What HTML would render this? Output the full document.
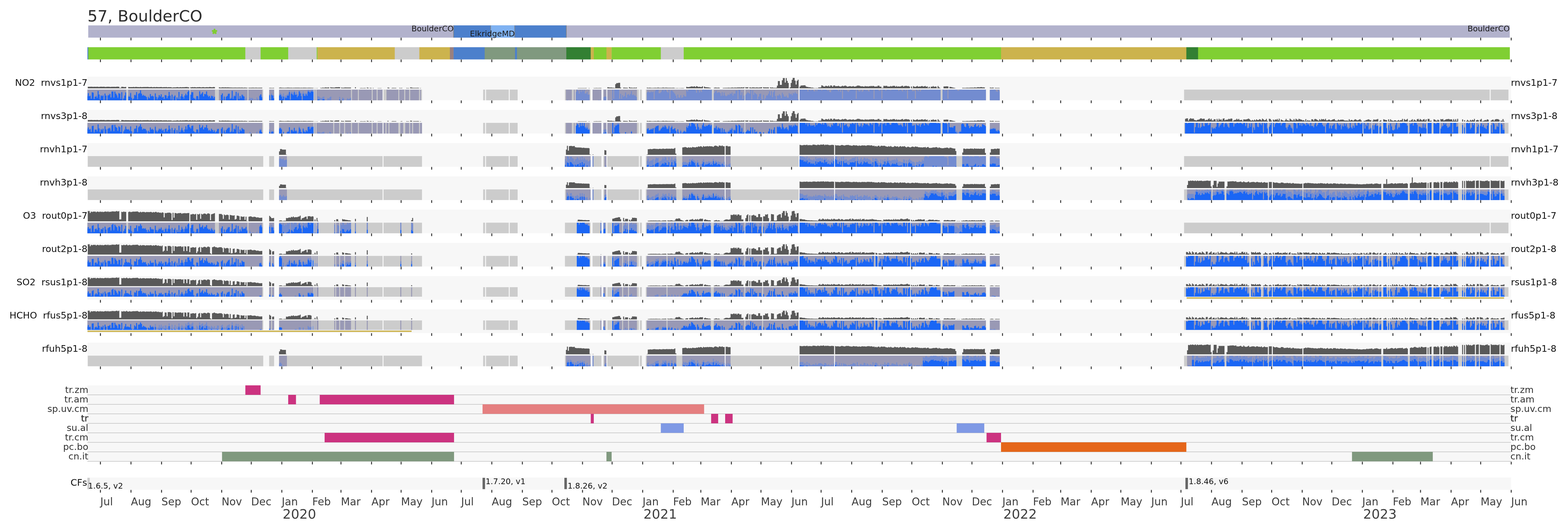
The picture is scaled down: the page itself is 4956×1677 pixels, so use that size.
<!DOCTYPE html>
<html><head><meta charset="utf-8"><title>57, BoulderCO</title>
<style>
html,body{margin:0;padding:0;background:#fff;width:4956px;height:1677px}
svg{display:block}
text{font-family:'DejaVu Sans','Liberation Sans',sans-serif}
</style></head><body>
<svg width="4956" height="1677" viewBox="0 0 4956 1677">
<defs><clipPath id="axclip"><rect x="276.3" y="0" width="4499.5" height="1677"/></clipPath></defs>
<rect width="4956" height="1677" fill="#fff"/>
<text x="276.5" y="68.3" font-size="50" fill="#2e2e2e" text-anchor="start">57, BoulderCO</text>
<rect x="278.9" y="80.2" width="4493" height="38.6" fill="#b2b2cc"/>
<rect x="1433.6" y="80.2" width="356.4" height="38.6" fill="#4c80cc"/>
<rect x="1550.7" y="80.2" width="76.1" height="38.6" fill="#7fb2f2"/>
<rect x="1432.7" y="80.2" width="1.8" height="38.6" fill="#808080"/>
<rect x="1549.8" y="80.2" width="1.8" height="38.6" fill="#808080"/>
<rect x="1625.9" y="80.2" width="1.8" height="38.6" fill="#808080"/>
<rect x="1789.1" y="80.2" width="1.8" height="38.6" fill="#808080"/>
<path d="M317.4 119v8.4M414 119v8.4M510.6 119v8.4M604.08 119v8.4M700.68 119v8.4M794.16 119v8.4M890.76 119v8.4M987.36 119v8.4M1077.73 119v8.4M1174.33 119v8.4M1267.81 119v8.4M1364.41 119v8.4M1457.89 119v8.4M1554.49 119v8.4M1651.09 119v8.4M1744.57 119v8.4M1841.17 119v8.4M1934.66 119v8.4M2031.26 119v8.4M2127.85 119v8.4M2215.1 119v8.4M2311.7 119v8.4M2405.19 119v8.4M2501.79 119v8.4M2595.27 119v8.4M2691.87 119v8.4M2788.47 119v8.4M2881.95 119v8.4M2978.55 119v8.4M3072.03 119v8.4M3168.63 119v8.4M3265.23 119v8.4M3352.48 119v8.4M3449.08 119v8.4M3542.56 119v8.4M3639.16 119v8.4M3732.65 119v8.4M3829.24 119v8.4M3925.84 119v8.4M4019.33 119v8.4M4115.93 119v8.4M4209.41 119v8.4M4306.01 119v8.4M4402.61 119v8.4M4489.86 119v8.4M4586.46 119v8.4M4679.94 119v8.4M4776.54 119v8.4" stroke="#3f3f3f" stroke-width="3.2" fill="none"/>
<text x="1434" y="99.3" font-size="24.95" fill="#1a1a1a" text-anchor="end">BoulderCO</text>
<text x="1627.2" y="115.3" font-size="24.95" fill="#1a1a1a" text-anchor="end">ElkridgeMD</text>
<text x="4772" y="99.3" font-size="24.95" fill="#1a1a1a" text-anchor="end">BoulderCO</text>
<polygon points="678,91.4 679.84,97.07 685.8,97.07 680.98,100.57 682.82,106.23 678,102.73 673.18,106.23 675.02,100.57 670.2,97.07 676.16,97.07" fill="#80cc33" stroke="#80cc33" stroke-width="4.2" stroke-linejoin="bevel"/>
<rect x="276.3" y="149.1" width="3" height="38.6" fill="#4c80cc"/>
<rect x="279" y="149.1" width="496.8" height="38.6" fill="#80cf33"/>
<rect x="775.5" y="149.1" width="48.5" height="38.6" fill="#cccccc"/>
<rect x="823.7" y="149.1" width="87.5" height="38.6" fill="#80cf33"/>
<rect x="910.9" y="149.1" width="90.4" height="38.6" fill="#cccccc"/>
<rect x="1001" y="149.1" width="2.7" height="38.6" fill="#80cf33"/>
<rect x="1003.4" y="149.1" width="244.6" height="38.6" fill="#ccb34d"/>
<rect x="1247.7" y="149.1" width="77.9" height="38.6" fill="#cccccc"/>
<rect x="1325.3" y="149.1" width="97" height="38.6" fill="#ccb34d"/>
<rect x="1422" y="149.1" width="11.9" height="38.6" fill="#99807f"/>
<rect x="1433.6" y="149.1" width="98.6" height="38.6" fill="#4c80cc"/>
<rect x="1531.9" y="149.1" width="96.2" height="38.6" fill="#80997f"/>
<rect x="1627.8" y="149.1" width="6.5" height="38.6" fill="#4c80cc"/>
<rect x="1634" y="149.1" width="156.3" height="38.6" fill="#80997f"/>
<rect x="1790" y="149.1" width="77.5" height="38.6" fill="#338033"/>
<rect x="1867.2" y="149.1" width="9.9" height="38.6" fill="#ccb34d"/>
<rect x="1876.8" y="149.1" width="40.3" height="38.6" fill="#80cf33"/>
<rect x="1916.8" y="149.1" width="16.7" height="38.6" fill="#ccb34d"/>
<rect x="1933.2" y="149.1" width="155.8" height="38.6" fill="#80cf33"/>
<rect x="2088.7" y="149.1" width="72.6" height="38.6" fill="#cccccc"/>
<rect x="2161" y="149.1" width="1003.3" height="38.6" fill="#80cf33"/>
<rect x="3164" y="149.1" width="586" height="38.6" fill="#ccb34d"/>
<rect x="3749.7" y="149.1" width="37.4" height="38.6" fill="#338033"/>
<rect x="3786.8" y="149.1" width="985.4" height="38.6" fill="#80cf33"/>
<path d="M317.4 187.9v8.4M414 187.9v8.4M510.6 187.9v8.4M604.08 187.9v8.4M700.68 187.9v8.4M794.16 187.9v8.4M890.76 187.9v8.4M987.36 187.9v8.4M1077.73 187.9v8.4M1174.33 187.9v8.4M1267.81 187.9v8.4M1364.41 187.9v8.4M1457.89 187.9v8.4M1554.49 187.9v8.4M1651.09 187.9v8.4M1744.57 187.9v8.4M1841.17 187.9v8.4M1934.66 187.9v8.4M2031.26 187.9v8.4M2127.85 187.9v8.4M2215.1 187.9v8.4M2311.7 187.9v8.4M2405.19 187.9v8.4M2501.79 187.9v8.4M2595.27 187.9v8.4M2691.87 187.9v8.4M2788.47 187.9v8.4M2881.95 187.9v8.4M2978.55 187.9v8.4M3072.03 187.9v8.4M3168.63 187.9v8.4M3265.23 187.9v8.4M3352.48 187.9v8.4M3449.08 187.9v8.4M3542.56 187.9v8.4M3639.16 187.9v8.4M3732.65 187.9v8.4M3829.24 187.9v8.4M3925.84 187.9v8.4M4019.33 187.9v8.4M4115.93 187.9v8.4M4209.41 187.9v8.4M4306.01 187.9v8.4M4402.61 187.9v8.4M4489.86 187.9v8.4M4586.46 187.9v8.4M4679.94 187.9v8.4M4776.54 187.9v8.4" stroke="#3f3f3f" stroke-width="3.2" fill="none"/>
<rect x="276.3" y="242" width="4499.5" height="74.7" fill="#f7f7f7"/>
<g clip-path="url(#axclip)">
<g transform="translate(317.93 283.1) scale(3.1161 33.6)">
<path d="M-14 0h179V1H-14zM171 0h5V1H171zM181 0h105V1H181zM287 0h39V1H287zM388 0h2V1H388zM391 0h23V1H391zM415 0h8V1H415zM471 0h26V1H471zM499 0h9V1H499zM510 0h3V1H510zM514 0h32V1H514zM547 0h2V1H547zM553 0h155V1H553zM709 0h189V1H709zM902 0h10V1H902zM1099 0h310V1H1099zM1410 0h18V1H1410z" fill="#cccccc"/>
<path d="M-14 0h40V1H-14zM28 0h62V1H28zM91 0h25V1H91zM120 0h29V1H120zM150 0h14V1H150zM171 0h5V1H171zM181 0h35V1H181zM217 0h1V1H217zM219 0h35V1H219zM255 0h6V1H255zM262 0h13V1H262zM276 0h4V1H276zM281 0h5V1H281zM290 0h12V1H290zM303 0h5V1H303zM309 0h4V1H309zM314 0h9V1H314zM324 0h1V1H324zM472 0h6V1H472zM480 0h1V1H480zM482 0h14V1H482zM499 0h9V1H499zM510 0h3V1H510zM514 0h30V1H514zM554 0h66V1H554zM622 0h31V1H622zM654 0h54V1H654zM709 0h143V1H709zM854 0h44V1H854zM902 0h10V1H902z" fill="#9999b5"/>
</g>
<g transform="translate(317.93 316.7) scale(3.1161 -1)">
<path d="M-14 0V16.4h1V23.2h1V13.9h1V17.3h1V7.2h1V25.2h1V25.4h1V5.8h1V11.5h1V17.5h1V13.8h1V29.5h1V18.2h1V9.4h1V15.1h1V15.5h1V18.6h1V2.9h1V21.1h1V15.6h1V1.9h1V18h1V21.6h1V20.6h1V10h1V29.3h1V28.9h1V10.4h1V27.4h1V21.3h1V20.1h1V11.2h1V24.2h1V22.5h1V8.8h1V26.6h1V5.2h1V8.9h1V16.3h1V26.3h1V0zM28 0V16.2h1V13.4h1V25.7h1V10.2h1V2.7h1V6.3h1V16.6h1V19.6h1V26.7h1V9.4h1V23.1h1V22.9h1V31.1h1V22.6h1V16.5h1V18.9h1V14.2h1V15.6h1V11.5h1V3.8h1V14.5h1V8.2h1V19.7h1V13h1V15.9h1V13.4h1V2.2h1V22.5h1V13h1V8.3h1V14h1V16.8h1V13h1V19.4h1V10.1h1V11.3h1V6.3h1V16.4h1V17.2h1V7.9h1V14.8h1V26.2h1V15.6h1V7h1V19.7h1V2.6h1V14.3h1V17h1V1.6h1V10.5h1V7.2h1V26.5h1V5.7h1V13.5h1V20.6h1V13h1V10.2h1V15.1h1V21.5h1V15.7h1V27.6h1V30.4h1V0zM91 0V19h1V25.5h2V8.4h1V8.2h1V7.2h1V13.8h1V14.2h1V8.1h1V30.6h1V21.4h1V22.8h1V25.5h1V13.1h1V20.4h1V21.6h1V28h1V18h1V14.3h1V13.7h1V9.8h1V16.4h1V14.8h1V12.6h1V12.3h1V0zM121 0V1.1h1V16.9h1V22.1h1V6h1V14.4h1V4.1h1V13.2h1V15h1V22.7h1V21.7h1V6.9h1V10.8h1V31.1h1V9.2h1V16.9h1V15.9h1V26.7h1V0zM139 0V26.5h1V7.1h1V13.8h1V11.2h1V18.3h1V18h1V13.3h1V3h1V8.3h1V0zM150 0V2.3h1V8.8h1V5.8h1V7.9h1V5.7h1V0zM156 0V3.9h1V0zM158 0V9h1V5h1V0zM161 0V16.7h1V18.7h1V14.5h1V0zM171 0V18.4h1V3.1h1V21.7h1V16.8h1V15.4h1V0zM181 0V19.4h1V23h1V18.5h1V14.1h1V21.7h1V11.2h1V14.9h1V15.4h1V19.7h1V20.6h1V32h1V4h1V27h1V26.6h1V21.8h1V30.4h1V22.7h1V26.2h1V19.4h1V17.9h1V31.1h1V27.9h1V23h1V3.5h1V28.5h1V20.8h1V22.7h1V22.5h2V33.6h1V33.3h1V27.1h1V33.6h2V33.3h1V0zM220 0V12.7h1V11.9h1V8.7h1V7.3h1V7.2h1V10.8h1V11.4h1V2.4h1V0zM229 0V1.4h1V6.9h1V5.4h1V9.8h1V11.7h1V0zM242 0V10.7h1V2.3h1V0zM245 0V8.5h1V6.3h1V0zM249 0V1.1h1V6.4h1V3.5h1V5.1h1V8h1V0zM473 0V1.3h1V0zM482 0V27h1V33.4h1V29.8h1V20.9h1V33.6h1V26.2h1V33.6h1V28.7h1V33.6h1V21.8h1V21.4h1V26.4h1V17.7h1V18.1h1V0zM505 0V1.1h1V0zM510 0V9.9h1V12h1V11.2h1V0zM519 0V33.6h1V5h1V33.6h5V5h1V20.4h1V4.9h1V16.2h1V10.8h1V13.6h1V24.8h1V8.2h1V17.8h1V19.5h1V15h1V20h1V28.9h1V16.3h1V18.4h1V15.1h1V14.6h1V10.5h1V0zM554 0V25h1V27.7h1V25.2h1V24.8h1V28.2h1V25.4h1V27.8h1V3.8h1V29.3h1V32.6h1V32.4h1V33.6h1V22.3h1V22.5h1V25.8h1V30.9h1V33.5h1V28.8h1V33.6h1V31.3h1V27.1h1V24.5h1V33.5h1V5h1V30.2h1V31.4h1V28.2h1V24.5h1V20.5h1V14.8h1V6.7h1V18h1V8.8h1V8h1V15.7h1V7.6h1V9.4h1V17h1V12.8h1V11.8h1V31.5h1V28h1V33.6h2V33.3h1V33.6h4V31.8h1V24h1V33.6h1V31.4h1V24.5h1V30.1h1V26.1h1V33.6h2V32.9h1V33.6h2V32.6h1V33.6h2V31.5h1V33.6h1V0zM622 0V22.5h1V27.4h1V30.2h1V23.4h1V24.9h1V25.6h1V22.7h1V14h1V25.4h1V14.7h1V24.3h1V15.4h1V13h1V14.4h1V18.8h1V16.4h1V21.9h1V19.9h1V24.8h1V14.6h1V21.3h1V21h1V30.5h1V30.8h1V3.4h1V33.2h1V32.1h1V15.9h1V25.2h1V4.3h1V14.6h1V0zM654 0V17.9h1V21.7h1V25.4h1V22.8h1V20.9h1V33.2h1V2.6h1V31.4h1V17.1h1V24.3h1V21.1h1V18.7h1V3.4h1V11.7h1V20.5h1V21.2h1V4.2h1V1.2h1V17.2h1V1h1V6.9h1V14.9h1V15.4h1V20.6h1V28.7h1V15.3h1V29h1V9.8h1V25.7h1V31.3h1V13.4h1V2.4h1V15.1h1V14.7h1V19.2h1V15h1V6.8h1V24.3h1V18.4h1V11.9h1V11h1V14.5h1V8.8h1V7.9h1V22.7h1V18.8h1V20.9h1V15.7h1V23.1h1V21h1V26h1V21.6h1V20.3h1V3.2h1V0zM709 0V33.6h8V27.7h1V33.6h1V33.3h1V30.7h1V33.6h1V32.2h1V29h1V27.9h1V33.6h1V28.7h1V33.6h4V30.8h1V33.6h1V33.4h1V33.6h2V32.6h1V30.1h1V31.6h1V26.6h1V25.3h1V31.9h1V32.2h1V33.6h1V33.4h1V33.6h2V32.4h1V28.6h1V33.6h1V26.6h1V33.6h1V5h1V33.6h1V32.5h1V31.4h1V32.4h1V29.2h1V26.4h1V30.2h1V32.7h1V33.6h3V32h1V33.6h1V5h1V33.6h1V30.2h1V27.5h1V29.2h1V33.6h1V26.9h1V29.1h1V33.6h1V33h1V30.9h1V33h1V29.1h1V27.9h1V33.6h2V32.1h1V33.6h1V4.8h1V33.6h4V30.1h1V30.2h1V33.6h1V5h1V33.6h3V30.3h1V33.6h3V32.7h1V31.8h1V33.6h7V29.5h1V31.9h1V33.6h1V31h1V27.9h1V33.6h2V30.2h1V33.6h1V5h1V33.6h4V28.6h1V29.4h1V29.9h1V5h1V33.6h1V30.7h1V28.5h1V33.6h1V28h1V32.3h1V33.6h2V32.9h1V33.6h3V32.9h1V33.6h12V0zM854 0V33.6h2V30.4h1V32.6h1V33.3h1V5h1V33.6h9V30.3h1V30.4h1V33.6h10V33.2h1V33.6h16V0zM902 0V32.8h1V33.6h5V28.7h1V26.8h1V33.6h1V29.4h1V0z" fill="#738cd0"/>
<path d="M-14 0V12.5h1V22.2h1V12.7h1V13.7h1V4.4h1V25.2h1V23.4h1V3.1h1V10.9h1V12.2h1V7.6h1V29.5h1V18.2h1V3h1V15.1h1V12.8h1V14.8h1V0zM4 0V21.1h1V14.7h1V0zM7 0V14.9h1V16.2h1V19.7h1V8.8h1V27h1V27.5h1V7.9h1V27.4h1V20.9h1V15.8h1V7.7h1V22.2h1V20.5h1V3.8h1V25.2h1V0zM23 0V5.5h1V14.6h1V24.4h1V0zM28 0V11.8h1V11.3h1V22.4h1V7.3h1V1.3h1V5.5h1V16.6h1V15.1h1V25.8h1V3h1V20h1V22.5h1V31.1h1V20.6h1V14.1h1V16.3h1V14.1h1V13h1V10h1V1.3h1V9.9h1V6.5h1V19.7h1V12.5h1V13.9h1V12h1V0zM55 0V21.5h1V10.1h1V2.4h1V8.6h1V16.8h1V12.2h1V18.8h1V8.3h1V10.6h1V3.8h1V16.4h1V14.9h1V6.5h1V12.9h1V26.2h1V14.4h1V1.4h1V17.3h1V0zM74 0V11.3h1V14.8h1V0zM77 0V8.7h1V3.3h1V26.2h1V2.9h1V12.1h1V19.2h1V10.6h1V5.2h1V15.1h1V20.4h1V15.6h1V26.1h1V30.4h1V0zM91 0V17.2h1V25.5h1V25.4h1V6.9h1V4.1h1V1.1h1V13.2h1V13h1V2.4h1V27.9h1V17.8h1V20.6h1V25.5h1V11.9h1V19.6h1V18.8h1V28h1V15.2h1V10.4h1V13.7h1V6.9h1V13.6h1V12.4h1V6.4h1V10.8h1V0zM122 0V16.8h1V21.7h1V0zM125 0V11.3h1V0zM127 0V10.6h1V13.5h1V19.4h1V20.6h1V4.1h1V6.3h1V29.4h1V4.1h1V13.1h1V12.6h1V26.7h1V0zM139 0V22.3h1V3.8h1V13.8h1V6.7h1V17.6h1V14h1V11.8h1V0zM161 0V13.7h1V18.7h1V9.5h1V0zM171 0V15.4h1V0zM173 0V16.9h1V14.7h1V6.7h1V0zM181 0V14.9h1V17.1h1V11.7h1V4.2h1V11.6h1V0zM187 0V8.1h1V7.8h1V14.7h2V26h1V1.3h1V21.3h1V18.6h1V15.8h1V26h1V17.1h1V17.7h1V9.5h1V13.6h1V27.9h1V21.6h1V13.1h1V0zM205 0V21h1V14.2h1V13.4h1V18.7h1V14.2h1V27.9h1V27h1V23.4h1V27.9h1V27.7h1V27h1V0zM220 0V2h1V3.8h1V0zM225 0V3.2h1V3.4h1V0zM242 0V2.3h1V0zM245 0V1.1h1V0z" fill="#1a66f5"/>
</g>
<g transform="translate(317.93 278.9) scale(3.1161 -1)">
<path d="M-13 0V5h1V4.8h2V5.1h1V4.8h1V4.7h1V5h1V4.9h1V4.6h1V5.2h1V4.6h1V4.5h1V4.9h1V5.1h1V4.8h1V4.9h1V5.1h1V4.5h2V5h1V4.9h1V5h1V4.5h1V4.4h1V5h1V4.7h1V4.8h1V4.7h2V5.2h1V5.1h1V4.8h1V1.2h1V1.3h1V4.8h1V4.6h1V4.2h1V3.8h1V4.5h1V0zM28 0V4.2h1V3.8h1V3.9h1V4h1V3.9h1V4.5h1V3.7h1V4.5h1V4.4h1V3.8h1V4h1V3.6h1V4.4h1V3.6h1V3.8h1V4.1h4V4.4h1V4.1h1V3.7h1V3.9h1V4.3h1V3.4h1V3.6h1V4.1h1V3.5h1V4.1h1V3.9h1V3.6h1V3.7h1V4h1V4.1h1V3.4h1V3.5h1V3.9h1V3.5h1V4.1h1V3.2h1V3.5h1V3.6h1V3.5h1V3.6h1V2.1h1V2.8h2V3.2h1V3h1V4h1V3.5h1V2.9h1V3.5h1V3.6h1V2.8h1V3.8h1V3.1h1V3.8h2V4.1h1V3.5h1V2.8h1V0zM91 0V3.4h1V3.2h1V4h1V3.1h1V3.8h1V3.1h1V2.9h1V3.6h1V3.3h1V4h1V3.2h1V2.9h1V3.7h1V3.6h1V3h1V3.2h1V3.7h1V3.4h1V3.2h1V4.1h1V4h1V3.3h2V4.1h1V3.9h1V0zM120 0V3.1h1V2.5h2V3.2h1V3h1V2.6h1V3.1h1V2.6h1V2.8h1V2.9h1V2.6h1V2.5h1V2.4h1V2.2h2V2.1h1V2.3h1V2.1h1V2.2h2V2.4h1V2.1h1V2.2h1V2.4h1V1.9h1V2h1V2.3h1V1.7h1V1.9h1V0zM150 0V2h1V1.6h1V2h1V1.9h1V2.1h1V1.9h1V1.7h1V2.1h1V1.9h1V1.7h1V1.9h1V1.8h3V0zM171 0V1.4h1V1.5h1V1.2h2V1.5h1V0zM181 0V1.9h1V2.3h1V1.8h1V1.6h2V1.4h1V1.6h2V2.1h2V1.8h1V1.7h1V1.8h1V1.4h1V1.6h2V1.9h1V2h1V1.9h1V2h1V1.8h1V1.3h1V1.9h1V1.3h1V1.9h2V1.8h1V1.7h1V1.3h1V1.6h1V1.8h1V1.6h1V1.7h1V1.5h1V1.4h1V0zM217 0V.6h1V0zM219 0V.9h1V0zM223 0V1.7h1V1.1h1V2.3h1V1.5h1V2.5h1V2.8h1V2.1h1V2.7h2V0zM233 0V3.4h1V2.4h1V2.7h1V2.2h1V2.5h1V3.5h1V3.4h1V3.3h1V3.7h1V3.3h1V0zM244 0V2.4h1V1.7h1V2h1V2.3h1V2.7h1V2.4h1V2.3h1V2.5h1V2.4h1V2.5h1V0zM258 0V3.4h1V0zM263 0V.8h1V1.2h1V1h1V.8h1V1.1h2V0zM270 0V2.4h1V1.6h1V0zM273 0V1.5h1V1.1h1V0zM276 0V1.2h1V0zM281 0V.7h1V.6h2V.7h1V0zM291 0V2.4h1V2h1V0zM295 0V.8h1V1.6h1V1.1h1V1.4h1V1.1h1V0zM303 0V1.5h1V.7h1V1.4h1V0zM310 0V1.2h1V1h1V.9h1V0zM314 0V3h1V2.5h1V1.6h1V1.4h1V1.5h1V1.3h1V1.4h1V1.7h1V1.5h1V0zM324 0V.9h1V0zM484 0V.8h1V.9h5V1h1V.9h1V1.1h1V0zM495 0V1h1V0zM500 0V.9h2V1.1h2V.9h1V1.1h3V0zM514 0V3.3h1V2.9h1V2.3h3V1.6h1V1.7h1V1h1V13.2h1V16.4h2V17.3h2V2.4h1V0zM530 0V2.2h1V2.1h1V1.8h2V1.5h1V0zM536 0V3.6h1V2h1V2.2h1V1.7h2V2.1h1V1.7h1V2.3h1V0zM554 0V2.1h1V1.3h1V1.9h2V1.3h1V1.2h1V1.4h2V2h1V1.5h1V1.7h1V2.3h1V1.7h1V1.3h2V1.6h1V2.3h1V2h1V1.4h1V2.3h1V1.7h1V1.8h1V1.3h1V1.8h1V1.4h1V1.7h2V2h1V.6h1V.5h1V.9h1V.6h1V.5h1V.7h1V.6h1V1h2V.6h1V0zM594 0V4.6h1V3.9h1V3.8h1V4.4h1V5.2h1V6.2h1V5.3h1V5.4h1V6.4h1V4.1h1V6.8h1V5.6h1V4.1h1V5h1V4.2h1V4h1V6.4h1V0zM612 0V5.4h1V3.6h1V3.5h1V3.2h1V2.8h1V2.1h1V1.3h1V0zM622 0V1.7h1V2.4h1V2.1h1V1.7h1V2.2h1V2h1V0zM631 0V1.1h1V1.3h1V1.5h1V1.7h1V1.4h1V2h1V1.8h1V1.5h1V1.9h1V2.3h1V2.2h1V1.6h1V2.6h1V1.8h1V2.5h1V2.7h1V2.6h2V2.3h1V3.3h1V2.1h1V3.6h1V0zM654 0V3.3h1V2.8h1V3.5h1V0zM658 0V2.9h1V2.4h1V2h1V3.1h1V2.6h1V2.5h1V2.1h1V3h1V2.3h1V2.2h1V2.6h1V3h1V3.3h1V0zM672 0V3.4h1V2.7h1V2.8h1V2.7h1V2.8h1V2.7h1V0zM679 0V3h1V2.1h1V2.7h1V1.6h2V1.5h1V1.9h1V8.4h1V22.9h2V10.8h2V25.3h1V32.5h2V18.1h1V32.5h1V23.4h1V16.9h1V0zM699 0V2.9h1V16.9h1V27h1V33h2V24.1h1V12h1V23.4h1V27.2h1V0zM709 0V5.3h1V9h1V8.9h1V9.3h1V9.4h1V9.6h1V6.2h1V4.4h2V3.2h1V3.6h1V2.5h1V2.2h1V2.1h1V.8h1V.7h1V.6h1V.9h1V.7h1V2.8h1V2.7h1V3.1h1V9.3h1V8.3h1V5.9h1V5.3h1V8h1V7.4h1V6.5h1V8.6h1V5.4h1V9.1h1V8.6h1V5.1h1V8.6h1V9.2h1V6.6h1V7h1V6.8h1V7.8h1V6.1h1V5.4h1V6.5h1V8.1h1V6.7h1V8h1V8.7h1V7.2h1V5.2h1V5.9h1V6.6h1V6.9h1V5.7h1V6.1h1V7.2h1V5.4h1V5.6h1V6.7h1V8.5h1V8.6h1V8.4h1V7.2h1V6.2h1V6.7h1V5.9h1V5.1h1V7.3h1V5.8h1V6.9h1V5.5h1V7h1V6.3h1V7.7h1V6.7h1V7.6h1V6.8h1V5.2h1V6.1h1V5.6h1V8.2h1V8.4h1V5.3h2V1.2h1V1.5h1V7.8h1V7.5h1V7.7h1V7.9h1V5.6h1V5.9h1V5.7h1V7.5h1V5.9h1V7.6h1V8h1V7.6h1V5.2h1V7.3h1V5.1h1V6.3h1V5.4h1V5.9h1V7.3h1V8.1h1V5.1h1V7.2h1V7.7h1V7.6h1V6.7h1V7.2h1V5.5h1V0zM822 0V5.8h1V.7h1V7h1V5.2h1V4.5h1V6.2h1V7.3h1V4.8h1V5.9h1V5.3h1V7h1V7.1h1V5.5h1V6.4h1V7.4h1V5h1V6.1h1V1.1h1V4.9h1V.7h1V5.5h1V4.8h1V7.1h1V4.6h1V5.7h1V5.4h1V.7h1V7.2h1V3.1h1V.9h1V0zM855 0V6h1V5.9h1V6.2h1V6.3h1V5.9h1V0zM861 0V4.5h1V4.1h1V3.3h1V2.5h1V1.9h1V1.2h1V0zM874 0V1.6h1V1.3h1V1.4h1V1.5h1V1.9h2V1.6h1V1.9h1V2.1h1V2.2h2V2h1V2.8h1V2.3h1V2.1h1V3.3h1V3.5h1V2.8h1V3.7h1V3.8h1V2.8h1V3.2h1V2.7h1V0zM902 0V2.5h1V1.6h1V2.2h1V2.1h1V0zM907 0V1.3h2V1.2h1V1.5h1V1.2h1V0z" fill="#595959"/>
</g>
</g>
<path d="M317.4 317.3v8.4M414 317.3v8.4M510.6 317.3v8.4M604.08 317.3v8.4M700.68 317.3v8.4M794.16 317.3v8.4M890.76 317.3v8.4M987.36 317.3v8.4M1077.73 317.3v8.4M1174.33 317.3v8.4M1267.81 317.3v8.4M1364.41 317.3v8.4M1457.89 317.3v8.4M1554.49 317.3v8.4M1651.09 317.3v8.4M1744.57 317.3v8.4M1841.17 317.3v8.4M1934.66 317.3v8.4M2031.26 317.3v8.4M2127.85 317.3v8.4M2215.1 317.3v8.4M2311.7 317.3v8.4M2405.19 317.3v8.4M2501.79 317.3v8.4M2595.27 317.3v8.4M2691.87 317.3v8.4M2788.47 317.3v8.4M2881.95 317.3v8.4M2978.55 317.3v8.4M3072.03 317.3v8.4M3168.63 317.3v8.4M3265.23 317.3v8.4M3352.48 317.3v8.4M3449.08 317.3v8.4M3542.56 317.3v8.4M3639.16 317.3v8.4M3732.65 317.3v8.4M3829.24 317.3v8.4M3925.84 317.3v8.4M4019.33 317.3v8.4M4115.93 317.3v8.4M4209.41 317.3v8.4M4306.01 317.3v8.4M4402.61 317.3v8.4M4489.86 317.3v8.4M4586.46 317.3v8.4M4679.94 317.3v8.4M4776.54 317.3v8.4" stroke="#3f3f3f" stroke-width="3.2" fill="none"/>
<text x="276.6" y="271.1" font-size="29.2" fill="#111" text-anchor="end" xml:space="preserve">NO2  rnvs1p1-7</text>
<text x="4775.6" y="271.1" font-size="29.2" fill="#111" text-anchor="start">rnvs1p1-7</text>
<rect x="276.3" y="347.01" width="4499.5" height="74.7" fill="#f7f7f7"/>
<g clip-path="url(#axclip)">
<g transform="translate(317.93 388.11) scale(3.1161 33.6)">
<path d="M-14 0h179V1H-14zM171 0h5V1H171zM181 0h105V1H181zM287 0h39V1H287zM388 0h2V1H388zM391 0h23V1H391zM415 0h8V1H415zM471 0h26V1H471zM499 0h9V1H499zM510 0h3V1H510zM514 0h32V1H514zM547 0h2V1H547zM553 0h155V1H553zM709 0h189V1H709zM902 0h10V1H902zM1099 0h310V1H1099zM1410 0h18V1H1410z" fill="#cccccc"/>
<path d="M-14 0h178V1H-14zM171 0h5V1H171zM181 0h35V1H181zM217 0h1V1H217zM219 0h17V1H219zM237 0h5V1H237zM243 0h4V1H243zM248 0h6V1H248zM255 0h6V1H255zM262 0h13V1H262zM276 0h4V1H276zM281 0h5V1H281zM287 0h2V1H287zM290 0h2V1H290zM293 0h9V1H293zM304 0h3V1H304zM309 0h4V1H309zM314 0h2V1H314zM317 0h6V1H317zM324 0h2V1H324zM472 0h6V1H472zM480 0h1V1H480zM482 0h14V1H482zM499 0h9V1H499zM510 0h3V1H510zM514 0h30V1H514zM554 0h66V1H554zM622 0h31V1H622zM654 0h54V1H654zM709 0h143V1H709zM854 0h44V1H854zM902 0h10V1H902zM1100 0h84V1H1100zM1185 0h3V1H1185zM1189 0h91V1H1189zM1281 0h8V1H1281zM1290 0h6V1H1290zM1297 0h2V1H1297zM1301 0h4V1H1301zM1306 0h20V1H1306zM1327 0h18V1H1327zM1346 0h4V1H1346zM1352 0h6V1H1352zM1359 0h18V1H1359zM1381 0h1V1H1381zM1383 0h1V1H1383zM1385 0h9V1H1385zM1395 0h3V1H1395zM1399 0h9V1H1399zM1410 0h9V1H1410zM1420 0h4V1H1420z" fill="#9999b5"/>
</g>
<g transform="translate(317.93 421.71) scale(3.1161 -1)">
<path d="M-14 0V15.7h1V21.3h1V12.9h1V16.6h1V7.9h1V23.7h1V25h1V7.3h1V14.6h1V13.2h1V12.6h1V29h1V18.3h1V6.3h1V15h1V14.5h1V16h1V0zM4 0V23.9h1V15.4h1V1.6h1V15.7h1V19.2h1V20.4h1V11.4h1V27.1h1V27.4h1V8h1V27.8h1V22.4h1V18.5h1V10.9h1V22.5h1V21.5h1V8.6h1V26.8h1V1h1V9.8h1V15h1V24.1h1V15.7h1V13.3h1V15.6h1V11.5h1V22.4h1V7.8h1V1.1h1V8.8h1V16.5h1V16.3h1V24.7h1V9h1V22.5h1V23.6h1V29.4h1V21.1h1V14.8h1V15.4h1V15.2h1V14.7h1V10.3h1V5.9h1V9.2h1V10.4h1V18.9h1V12.4h1V16.4h1V13.1h1V1.3h1V24.4h1V12.2h1V7.9h1V12.2h1V17h1V13.8h1V18.8h1V11.7h1V13.7h1V7.4h1V14.8h1V15.8h1V6.5h1V12.1h1V24.9h1V15.9h1V3.4h1V17.7h1V2.7h1V10.8h1V16.1h1V1.5h1V11h1V6.7h1V24.6h1V6.5h1V13.1h1V21.4h1V10.8h1V5.9h1V13.8h1V22.8h1V16.2h1V27.3h1V28.4h1V21.8h1V17.2h1V24.6h1V26.7h1V8.5h1V5.6h1V5.3h1V12.9h1V13.5h1V6.1h1V27.9h1V17.4h1V20.3h1V26.8h1V14.2h1V21.2h1V19.4h1V27.3h1V17.5h1V11.3h1V13.4h1V9.8h1V15.3h1V11.2h2V12.4h1V3.8h1V6.9h1V15.7h1V15.1h1V0zM122 0V17.1h1V19.6h1V5.6h1V13.9h1V4.7h1V11.9h1V15.8h1V21h1V19.9h1V5.5h1V9.9h1V30.3h1V6.7h1V15.9h1V16.5h1V25.7h1V0zM139 0V22.3h1V6.6h1V12.8h1V8.4h1V17.7h1V14h1V13.7h1V0zM151 0V5.2h1V2.3h1V0zM158 0V5.6h1V0zM161 0V14.3h1V14.4h1V6.2h1V0zM171 0V13.1h1V1.8h1V9.8h1V8.5h1V6.4h1V0zM181 0V19.5h1V19.2h1V16h1V0zM185 0V7.5h1V0zM187 0V1h1V3.2h1V7.7h1V7.9h1V19.7h1V2.1h1V12.9h1V13.6h1V7.9h1V18.9h1V10.7h1V11.7h1V5.6h1V8.1h1V22.7h1V17.1h1V5.9h1V2h1V16.4h1V11h1V5.9h1V11.3h1V7.9h1V20.8h1V21.7h1V16.9h1V23h1V23.4h1V21.2h1V0zM220 0V5.4h1V4.1h1V4h1V1.2h1V3.4h1V5.1h1V5.5h1V0zM230 0V1.4h1V0zM232 0V5.4h1V2.9h1V0zM245 0V1.4h1V0zM250 0V2.3h1V0zM253 0V4.1h1V0zM482 0V25.3h1V32.6h1V31.3h1V20.7h1V33.6h1V24.4h1V33.6h1V24.9h1V33.6h1V22.9h1V21.6h1V25.6h1V14.8h1V16.8h1V0zM510 0V12.5h2V13.5h1V0zM519 0V33.6h1V4.7h1V29h1V27.3h1V30.6h1V33.6h2V4.3h1V0zM532 0V4.4h1V0zM534 0V1.3h1V0zM538 0V8.7h1V0zM554 0V17.3h2V11.3h1V13.9h1V16.5h1V16.4h1V16.8h1V2.6h1V19.6h1V23.8h1V23.4h1V25.2h1V12.3h1V11.2h1V14.9h1V18.4h1V25.7h1V19.9h1V25.4h1V24.5h1V17.7h1V18.7h1V26.1h1V3.9h1V20.6h1V26.4h1V14h1V15.1h1V17h1V9.1h1V4.8h1V13.6h1V7h1V2.3h1V12.4h1V2.6h1V5.5h1V9.9h1V10.1h1V6.8h1V26.8h1V24.2h1V25.7h1V33.6h1V24.9h1V33.6h3V32.5h1V24.8h1V14.5h1V32.3h1V24.6h1V18h1V19.6h1V19.4h1V28.1h1V33.6h1V23h1V27.7h1V27h1V25.7h1V28.1h1V32.4h1V28.2h1V28h1V0zM622 0V19.4h1V20.2h1V27h1V15.9h1V20.7h1V18.6h1V16.6h1V9.6h1V17.6h1V8.1h1V14.7h1V7.1h1V8.3h1V5.8h1V10.6h1V10.4h1V16.3h1V16.6h1V21.5h1V3.9h1V14.1h1V12.1h1V29.7h1V27h1V2.3h1V28.2h1V25.2h1V7.8h1V21h1V3.7h1V7.7h1V0zM654 0V4.5h1V7.9h1V12.9h1V8.4h1V9.8h1V19.5h1V0zM661 0V19.5h1V4.5h1V13.1h1V4.8h1V8.4h1V1.3h1V0zM668 0V5.1h1V5.3h1V1.8h1V0zM672 0V4.7h1V0zM675 0V1.5h1V0zM677 0V8.5h1V16.2h1V0zM680 0V15h1V0zM682 0V13.2h1V19.5h1V3.1h1V0zM686 0V23h1V23.7h1V26.3h1V20.5h1V17.7h1V33.6h1V23.9h1V18.3h1V18.2h1V20.4h1V21.1h1V15.1h1V28.2h1V26.9h1V26.3h1V22.5h1V28.4h1V26.6h1V32.7h1V26.5h1V26.6h1V4.1h1V0zM709 0V33.6h6V32.2h1V33.6h1V27h1V33.3h1V32.9h1V27.2h1V29.7h1V25.1h1V27.3h1V25.2h1V33.6h1V26.6h1V32.6h1V33.6h2V32.2h1V29.5h1V33.6h1V28.8h1V33.6h1V33.4h1V33.3h1V28.3h1V29.7h1V24.6h1V23h1V30.1h1V27.8h1V33.5h1V33.6h3V29.3h1V26h1V33.5h1V22.5h1V33.6h1V5h1V33.6h1V27.6h1V31.9h1V30h1V23.8h2V23.2h1V30.9h1V30.3h1V33.6h2V31.3h1V33.6h1V5h1V33.6h1V29.5h1V25.8h1V27.5h1V33.6h1V26.1h1V27.2h1V32.8h1V32.3h1V30h1V31.6h1V27.3h1V29.3h1V33.6h1V32.8h1V29.6h1V33.6h1V4.1h1V33.6h3V32.3h1V28h1V30.3h1V33.4h1V4.8h1V33.6h3V30.6h1V33.6h3V31.7h1V27.4h1V33.6h2V33.5h1V33.6h4V26.7h1V28.4h1V32.3h1V28.2h1V23h1V33.6h2V25.9h1V33.6h1V4.7h1V33.6h4V28.1h1V28.2h1V29h1V4.9h1V32h1V26.9h1V27.3h1V31.3h1V24.9h1V28.7h1V33.6h2V25.4h1V33.6h1V31.3h1V33.2h1V29.1h1V32h1V33.6h7V32.1h1V33.6h3V0zM854 0V33.6h2V31.4h1V33.6h1V30.1h1V5h1V33.6h1V21.3h1V19.5h1V22.7h1V19.3h1V23.9h1V24.6h1V9.4h1V8.6h1V4.5h1V4.6h1V8.8h1V9.6h1V30.7h1V32h1V29.3h1V23.4h1V22.6h1V31.8h1V31.4h1V27.3h1V17h1V25.5h1V23.4h1V21.1h1V21.2h1V28.4h1V31.4h1V23.4h1V23.5h1V28.6h1V19.3h1V22.5h1V24h1V29.8h1V31.5h1V26.7h1V23.7h1V0zM902 0V16.3h1V15.5h1V16.6h1V17.1h1V18.3h1V17.3h1V9.5h1V10.6h1V12.4h1V8.7h1V0zM1100 0V33.6h1V33.5h1V31.8h1V33.6h6V5h1V21h1V33.6h2V20.4h1V32.2h1V20.3h1V22.1h1V33.5h1V27h1V22.9h1V33.6h1V32.8h1V33.6h1V27.5h1V31.7h1V33.6h1V4.5h1V19.8h1V16.8h1V20.4h1V18.3h1V21.7h1V33.6h2V24.2h1V28.1h1V29h1V33.6h2V23h1V32.1h1V33.6h1V29.9h1V24.3h1V19.9h1V33.6h4V24.9h1V33.5h1V31.9h1V33.6h5V31.9h1V30.3h1V33.6h2V26.3h1V33.6h1V20.2h1V23.6h1V33.2h1V27.4h1V33.6h1V4h1V22.1h1V16.5h1V33.6h2V25.3h1V20.1h1V33.6h1V32.3h1V30.2h1V33.6h1V4.2h1V33.6h1V33.3h1V33.6h1V20.1h1V0zM1185 0V24.2h1V28.4h1V33.6h1V0zM1189 0V33.6h1V21.9h1V30.9h1V33.6h2V33.3h1V33.6h2V28.4h1V33.5h1V33.6h3V19.6h1V17.3h1V24.3h1V28h1V29.6h1V23.6h1V20.7h1V5h1V33.6h2V31.4h1V19.1h1V33.6h2V26h1V32.8h1V26.8h1V33.6h1V29.5h1V30.4h1V26.7h1V33.6h1V31.7h1V30.8h1V26.2h1V33.6h1V24.1h1V25.2h1V22.3h1V33.6h2V23h1V27.8h1V33.6h4V27.4h1V24.2h1V27.1h1V5h1V29h1V33.6h2V19h1V27.6h1V17.3h1V25.3h1V31.1h1V33.4h1V16.6h1V16.1h1V33.6h1V28.9h1V28.3h1V30.8h1V18.9h1V31h1V23h1V33.6h1V28.3h1V33.5h1V24.8h1V20.2h1V18.2h1V33.6h1V22.4h1V19.8h1V26h1V22.5h1V33.6h1V29.5h1V25.2h1V33.6h2V30.4h1V31.6h1V33.6h1V0zM1281 0V33.6h1V16h1V28.7h1V24.9h1V33.6h1V16.2h1V16.4h1V20.8h1V0zM1290 0V27.4h1V14.8h1V26.6h1V31h1V25h1V26.4h1V0zM1297 0V24.6h1V23.3h1V0zM1301 0V33.6h3V19.4h1V0zM1306 0V28.9h1V15.9h1V31.8h1V25.7h1V12.1h1V10.4h1V14.7h1V29.8h1V33.6h1V16.6h1V24.9h1V22.5h1V33.6h1V32.5h1V33.6h4V30.9h1V25.6h1V0zM1327 0V4h1V33.6h1V30.9h1V33.6h1V25.4h1V33.6h3V29.9h1V5h1V22.1h1V23.2h1V21.5h1V21.6h1V33.6h1V18.6h1V29.3h1V18.4h1V0zM1346 0V33.3h1V33.6h3V0zM1352 0V33h1V32.3h1V29.6h1V33.6h3V0zM1359 0V16.9h1V27.3h1V25.3h1V33.6h1V28.6h1V32.4h1V25.1h1V20.3h1V25.1h1V26.2h1V33.6h2V5h1V33.6h3V21.3h1V23.8h1V0zM1381 0V28.3h1V0zM1383 0V22.2h1V0zM1385 0V32.7h1V33.6h1V32.5h1V33.6h1V18.6h1V18.1h1V33.6h1V27.4h1V33.3h1V0zM1395 0V4h1V22h1V28.5h1V0zM1399 0V26.7h1V33.4h1V22.6h1V27.5h1V20.7h1V22.1h1V14.9h1V26.3h1V33.6h1V0zM1410 0V26.6h1V5h1V33.6h1V30.8h1V15.1h1V18.6h1V26.3h1V21.8h1V33.6h1V0zM1420 0V33.6h1V28.7h1V18.4h1V17.3h1V0z" fill="#738cd0"/>
<path d="M-14 0V13.5h1V18.6h1V12.1h1V13.6h1V4.1h1V23.7h1V24.5h1V2.6h1V12h1V11.9h1V6.9h1V29h1V15.6h1V4.5h1V13.2h1V9.9h1V15h1V0zM4 0V22.8h1V12.7h1V0zM7 0V15h1V17.3h1V16.3h1V7.5h1V25.7h1V27.4h1V7.1h1V27.8h1V20.5h1V18.3h1V8.1h1V22.5h1V19.5h1V4.6h1V25.6h1V0zM23 0V6.6h1V12h1V21.4h1V13.7h1V12.5h1V12.9h1V8.7h1V22.4h1V7.1h1V0zM33 0V2.6h1V14.8h1V15.8h1V24.7h1V3.9h1V19.3h1V22.7h1V29.4h1V21.1h1V11.9h1V15.4h1V14.6h1V14.3h1V9.5h1V0zM48 0V8.6h1V4.2h1V18.9h1V12.4h1V14.1h1V11.2h1V0zM55 0V20.9h1V8.9h1V3.9h1V9.5h1V14.9h1V12.8h1V15.3h1V8.7h1V11.5h1V3.6h1V14.1h1V15.8h1V6.1h1V11.8h1V24.9h1V13.2h1V0zM72 0V17.4h1V0zM74 0V10.8h1V16.1h1V0zM77 0V11h1V0zM79 0V24.6h1V3.8h1V10.1h1V17.1h1V9.7h1V4.3h1V12.6h1V22.8h1V12.5h1V26.8h1V28.4h1V19.6h1V15.5h1V23.6h1V24.8h1V7.5h1V3.6h1V2.6h1V12.9h1V12.3h1V2h1V27.9h1V17.4h1V20.3h1V25.4h1V12.9h1V18.9h1V19.3h1V27.3h1V16.8h1V9.1h1V10.4h1V7.4h1V15.3h1V10.9h1V5.4h1V9.1h1V3.2h1V6.9h1V13.3h1V14.6h1V0zM122 0V14.5h1V19.6h1V0zM125 0V9.4h1V2.5h1V10.7h1V15.2h1V17.3h1V18.3h1V3.5h1V6.2h1V30.1h1V4.9h1V14.5h1V12.4h1V25.7h1V0zM139 0V22.3h1V2.1h1V12.8h1V8h1V17.5h1V13.8h1V12h1V0zM161 0V8.8h1V11.2h1V3.6h1V0zM171 0V5.6h1V0zM173 0V5.1h1V5.9h1V0zM181 0V15.8h1V17.2h1V12.6h1V0zM185 0V4.1h1V0zM189 0V4.4h1V5.7h1V19.7h1V0zM193 0V10.8h1V10.3h1V6.3h1V17.6h1V7.5h1V8.5h1V0zM200 0V1.8h1V18.4h1V12.9h1V5h1V0zM205 0V15.2h1V6.8h1V3.8h1V10.2h1V6.5h1V20.8h1V21.7h1V13.5h1V19.5h1V19.9h1V21.2h1V0zM482 0V24.5h1V30h1V27.6h1V19.4h1V33.6h1V23.3h1V33.6h1V23.7h1V32.9h1V19.3h1V15.3h1V18.6h1V12h1V11.9h1V0zM510 0V2.9h1V0zM512 0V4.6h1V0zM519 0V33.6h1V1.6h1V19.4h1V24.5h1V25.7h1V28.5h1V29h1V1.5h1V0zM532 0V4h1V0zM538 0V5.8h1V0zM554 0V13.8h1V16.4h1V10.4h1V11.6h1V13.4h1V12.8h1V16.8h1V0zM562 0V18.1h1V22.4h1V23.4h1V25.2h1V8h1V9.8h1V14.9h1V18.4h1V22h1V19.2h1V25.4h1V20.1h1V14.1h1V14.2h1V23.2h1V1.4h1V17.4h1V21.9h1V12.9h1V14.1h1V17h1V8.9h1V0zM585 0V12.6h1V1.9h1V0zM588 0V7.9h1V0zM590 0V2.3h1V6.1h1V7.5h1V4.4h1V20.6h1V17.8h1V23.8h1V31.7h1V22.6h1V33.6h2V30.7h1V29.4h1V21.9h1V12.6h1V30.6h1V20.5h1V11.9h1V15.2h1V13h1V25.6h1V32.4h1V22.5h1V21.7h1V23.9h1V23.6h1V27.3h1V27.9h1V23.1h1V26.5h1V0zM622 0V16.9h1V16.7h1V22.9h1V12.3h1V18.5h1V15.2h1V16.2h1V3h1V16.6h1V3.2h1V12.9h1V3.9h1V3.3h1V0zM636 0V5.7h1V6.2h1V10.9h1V11.2h1V15.6h1V0zM642 0V11.3h1V9.4h1V27.3h1V24.1h1V0zM647 0V28.2h1V25.2h1V5.4h1V16.7h1V1.4h1V3.6h1V0zM654 0V4.5h1V7.9h1V11.1h1V8.3h1V7.7h1V19.5h1V0zM661 0V19.5h1V0zM663 0V12.8h1V4.4h1V5.9h1V0zM668 0V4.5h1V4.7h1V0zM672 0V3.5h1V0zM677 0V6.4h1V15h1V0zM680 0V12.2h1V0zM682 0V11.1h1V19.5h1V0zM686 0V21h1V19.6h1V21.6h1V19.4h1V13.7h1V30.5h1V19.4h1V13.4h1V15.8h1V19.4h1V13.9h1V9.7h1V25.4h1V22.8h1V26.3h1V20h1V24.9h1V22.7h1V28h1V25.2h1V23.6h1V1.5h1V0zM709 0V33.6h6V28.2h1V33.6h1V22.9h1V33.3h1V27.4h1V23.5h1V25.8h1V24.6h1V27.3h1V21.4h1V33.6h1V26.6h1V31.2h1V33h1V31.9h1V30.6h1V28.5h1V33.6h1V27.7h1V33.6h1V33.4h1V29h1V22.4h1V23.7h1V21.1h1V19.9h1V27.6h1V24.5h1V32.6h1V30.1h1V33.6h2V23.6h2V30.1h1V19h1V33.6h1V1.9h1V33.6h1V25.4h1V27.3h1V29.9h1V22.6h1V18.5h1V21.8h1V30.9h1V29.8h1V33.6h1V31.2h1V29.1h1V33.6h1V1.9h1V33.6h1V25.9h1V21.4h1V23h1V31.3h1V20.2h1V25.1h1V31.8h1V30.8h1V28.1h1V30.3h1V26.3h1V23.3h1V33h1V30.5h1V26.6h1V33.6h1V1.5h1V33.6h3V31.3h1V22.4h1V28h1V33.4h1V2h1V30.6h1V29.8h1V33.6h1V25.3h1V33.6h3V28.1h1V27.4h1V32.5h1V33.6h1V33.5h1V32.7h1V33h1V33.6h1V30.3h1V26.1h1V26.3h1V28.4h1V25.2h1V21h1V33.6h2V22.8h1V33.6h1V1.8h1V33.6h4V23.7h1V24.5h1V26.5h1V2h1V29.4h1V26.3h1V24.3h1V30h1V21.3h1V28.5h1V31.5h1V31.4h1V25.4h1V33.6h1V31.3h1V28.6h1V25.1h1V31.2h1V33.6h7V31.7h1V33.6h1V31.9h1V31.5h1V0zM854 0V33.6h1V33.5h1V31.4h1V33.6h1V30.1h1V2h1V33.6h1V19.9h1V19h1V19.8h1V18h1V22.7h1V23.8h1V4.6h1V1.8h1V0zM871 0V5.2h1V5.7h1V29.6h1V32h1V29.1h1V21.8h1V19.7h1V31.2h1V31.1h1V23.6h1V17h1V20.8h1V23.4h1V20.7h1V20.8h1V27.2h1V30.8h1V21.7h1V22.6h1V26.2h1V19h1V22.5h1V20.4h1V29.8h1V27.5h1V26.7h1V23.1h1V0zM902 0V12.4h1V13.9h1V14.2h1V15.8h1V14.9h1V14.1h1V8.7h1V6.2h1V10.4h1V7.4h1V0zM1100 0V33.6h1V33.5h1V31.6h1V33.6h6V2h1V20.1h1V33.6h2V18.3h1V31.8h1V17.3h1V21.1h1V33.2h1V23.4h1V22.6h1V33.2h1V31.8h1V33.6h1V25.8h1V27.6h1V33.6h1V1.8h1V19.1h1V14.2h1V16.7h1V15.1h1V21.7h1V33.6h2V19.5h1V24.7h1V28.9h1V33.6h2V20.3h1V29.9h1V33.6h1V29h1V21.8h1V18.2h1V33.6h4V21.5h1V30.9h1V31h1V33.6h2V31.1h1V33.6h2V31.5h1V29.1h1V33.6h2V23.2h1V33.6h1V16.7h1V17.7h1V31.3h1V20.9h1V31.9h1V1.6h1V19h1V11.4h1V33.6h2V21.1h1V20.1h1V33.6h1V29.5h1V26h1V33.6h1V1.6h1V33.6h1V30.2h1V33.6h1V15.8h1V0zM1185 0V20.8h1V26.6h1V33.6h1V0zM1189 0V33.6h1V20.2h1V29.9h1V33.6h2V32.2h1V32.4h1V33.6h1V25.2h1V31h1V33.6h3V18.6h1V12.4h1V20.9h1V28h1V26h1V18.1h1V15.7h1V2h1V33.6h2V31h1V16h1V32.4h1V33.6h1V26h1V32.6h1V23.8h1V33.6h1V29.5h1V30h1V25.3h1V33.6h1V28.2h1V29.1h1V23.3h1V33.6h1V23.5h1V23.4h1V19.2h1V28.6h1V33.6h1V22.9h1V27.5h1V33.6h4V27.4h1V22.4h1V22.1h1V2h1V29h1V33.6h2V15.6h1V24.4h1V15.4h1V24.3h1V26.9h1V30.2h1V13.5h1V11.5h1V33.6h1V28.9h1V24.7h1V28.1h1V13.3h1V25.1h1V21.8h1V31.4h1V23.5h1V30.2h1V19.3h1V14.2h1V16.6h1V33.5h1V18.9h1V15.2h1V24.6h1V18.2h1V33.6h1V25.4h1V25.2h1V33.6h2V29.1h2V33.6h1V0zM1281 0V33.6h1V15.4h1V28.7h1V23.1h1V33.6h1V12.4h1V13.1h1V16.6h1V0zM1290 0V25.6h1V11.6h1V26.1h1V31h1V23.4h1V24.6h1V0zM1297 0V19.9h1V23.3h1V0zM1301 0V33.6h3V16.6h1V0zM1306 0V26.2h1V9.2h1V31.8h1V21.9h1V10.7h1V9.7h1V12.5h1V26.3h1V33.6h1V13.3h1V19.3h1V19.2h1V32.5h1V31.4h1V33.6h3V32h1V30.9h1V25h1V0zM1327 0V1.4h1V29.2h1V30.9h1V33.6h1V25.2h1V33.6h3V27.1h1V2h1V21.9h1V20.6h1V17.5h1V17.2h1V30.6h1V18.5h1V29.3h1V15.6h1V0zM1346 0V33.3h1V33.6h3V0zM1352 0V33h1V32.3h1V29.6h1V33.6h3V0zM1359 0V15h1V21.4h1V24h1V33.6h1V28.2h1V32.4h1V23.6h1V17.9h1V19.7h1V21.9h1V33.6h2V2h1V33.6h3V21h1V21.6h1V0zM1381 0V26.6h1V0zM1383 0V18.6h1V0zM1385 0V32.7h1V33.6h1V30.4h1V33.6h1V13.1h1V18.1h1V33.6h1V26.4h1V32.7h1V0zM1395 0V1.4h1V21.1h1V28.5h1V0zM1399 0V23.2h1V31.4h1V21.4h1V27.5h1V18.3h1V17h1V13.7h1V24.4h1V33.6h1V0zM1410 0V26.6h1V2h1V33.6h1V29.4h1V12.8h1V12.6h1V23h1V20.7h1V33.6h1V0zM1420 0V31.3h1V28.1h1V11.4h1V11.3h1V0z" fill="#1a66f5"/>
</g>
<g transform="translate(317.93 383.91) scale(3.1161 -1)">
<path d="M-13 0V5h1V4.8h2V5.1h1V4.8h1V4.7h1V5h1V4.9h1V4.6h1V5.2h1V4.6h1V4.5h1V4.9h1V5.1h1V4.8h1V4.9h1V5.1h1V4.5h2V5h1V4.9h1V5h1V4.5h1V4.4h1V5h1V4.7h1V4.8h1V4.7h2V5.2h1V5.1h1V4.8h1V1.2h1V1.3h1V4.8h1V4.6h1V4.2h1V3.8h1V4.5h1V4.1h2V4.2h1V3.8h1V3.9h1V4h1V3.9h1V4.5h1V3.7h1V4.5h1V4.4h1V3.8h1V4h1V3.6h1V4.4h1V3.6h1V3.8h1V4.1h4V4.4h1V4.1h1V3.7h1V3.9h1V4.3h1V3.4h1V3.6h1V4.1h1V3.5h1V4.1h1V3.9h1V3.6h1V3.7h1V4h1V4.1h1V3.4h1V3.5h1V3.9h1V3.5h1V4.1h1V3.2h1V3.5h1V3.6h1V3.5h1V3.6h1V2.1h1V2.8h2V3.2h1V3h1V4h1V3.5h1V2.9h1V3.5h1V3.6h1V2.8h1V3.8h1V3.1h1V3.8h2V4.1h1V3.5h1V2.8h1V4.1h1V3.4h1V3.2h1V4h1V3.1h1V3.8h1V3.1h1V2.9h1V3.6h1V3.3h1V4h1V3.2h1V2.9h1V3.7h1V3.6h1V3h1V3.2h1V3.7h1V3.4h1V3.2h1V4.1h1V4h1V3.3h2V4.1h1V3.9h1V0zM120 0V3.1h1V2.5h2V3.2h1V3h1V2.6h1V3.1h1V2.6h1V2.8h1V2.9h1V2.6h1V2.5h1V2.4h1V2.2h2V2.1h1V2.3h1V2.1h1V2.2h2V2.4h1V2.1h1V2.2h1V2.4h1V1.9h1V2h1V2.3h1V1.7h1V1.9h1V0zM150 0V2h1V1.6h1V2h1V1.9h1V2.1h1V1.9h1V1.7h1V2.1h1V1.9h1V1.7h1V1.9h1V1.8h3V0zM171 0V1.4h1V1.5h1V1.2h2V1.5h1V0zM181 0V1.9h1V2.3h1V1.8h1V1.6h2V1.4h1V1.6h2V2.1h2V1.8h1V1.7h1V1.8h1V1.4h1V1.6h2V1.9h1V2h1V1.9h1V2h1V1.8h1V1.3h1V1.9h1V1.3h1V1.9h2V1.8h1V1.7h1V1.3h1V1.6h1V1.8h1V1.6h1V1.7h1V1.5h1V1.4h1V0zM217 0V.6h1V0zM219 0V.9h1V0zM223 0V1.7h1V1.1h1V2.3h1V1.5h1V2.5h1V2.8h1V2.1h1V2.7h2V0zM233 0V3.4h1V2.4h1V2.7h1V0zM237 0V2.5h1V3.5h1V3.4h1V3.3h1V3.7h1V0zM244 0V2.4h1V1.7h1V2h1V0zM248 0V2.7h1V2.4h1V2.3h1V2.5h1V2.4h1V2.5h1V0zM258 0V3.4h1V0zM263 0V.8h1V1.2h1V1h1V.8h1V1.1h2V0zM270 0V2.4h1V1.6h1V0zM273 0V1.5h1V1.1h1V0zM276 0V1.2h1V0zM281 0V.7h1V.6h2V.7h1V0zM291 0V2.4h1V0zM295 0V.8h1V1.6h1V1.1h1V1.4h1V1.1h1V0zM304 0V.7h1V1.4h1V0zM310 0V1.2h1V1h1V.9h1V0zM314 0V3h1V2.5h1V0zM317 0V1.4h1V1.5h1V1.3h1V1.4h1V1.7h1V1.5h1V0zM324 0V.9h1V0zM484 0V.8h1V.9h5V1h1V.9h1V1.1h1V0zM495 0V1h1V0zM500 0V.9h2V1.1h2V.9h1V1.1h3V0zM514 0V3.3h1V2.9h1V2.3h3V1.6h1V1.7h1V1h1V13.2h1V16.4h2V17.3h2V2.4h1V0zM530 0V2.2h1V2.1h1V1.8h2V1.5h1V0zM536 0V3.6h1V2h1V2.2h1V1.7h2V2.1h1V1.7h1V2.3h1V0zM554 0V2.1h1V1.3h1V1.9h2V1.3h1V1.2h1V1.4h2V2h1V1.5h1V1.7h1V2.3h1V1.7h1V1.3h2V1.6h1V2.3h1V2h1V1.4h1V2.3h1V1.7h1V1.8h1V1.3h1V1.8h1V1.4h1V1.7h2V2h1V.6h1V.5h1V.9h1V.6h1V.5h1V.7h1V.6h1V1h2V.6h1V0zM594 0V4.6h1V3.9h1V3.8h1V4.4h1V5.2h1V6.2h1V5.3h1V5.4h1V6.4h1V4.1h1V6.8h1V5.6h1V4.1h1V5h1V4.2h1V4h1V6.4h1V0zM612 0V5.4h1V3.6h1V3.5h1V3.2h1V2.8h1V2.1h1V1.3h1V0zM622 0V1.7h1V2.4h1V2.1h1V1.7h1V2.2h1V2h1V0zM631 0V1.1h1V1.3h1V1.5h1V1.7h1V1.4h1V2h1V1.8h1V1.5h1V1.9h1V2.3h1V2.2h1V1.6h1V2.6h1V1.8h1V2.5h1V2.7h1V2.6h2V2.3h1V3.3h1V2.1h1V3.6h1V0zM654 0V3.3h1V2.8h1V3.5h1V0zM658 0V2.9h1V2.4h1V2h1V3.1h1V2.6h1V2.5h1V2.1h1V3h1V2.3h1V2.2h1V2.6h1V3h1V3.3h1V0zM672 0V3.4h1V2.7h1V2.8h1V2.7h1V2.8h1V2.7h1V0zM679 0V3h1V2.1h1V2.7h1V1.6h2V1.5h1V1.9h1V8.4h1V22.9h2V10.8h2V25.3h1V32.5h2V18.1h1V32.5h1V23.4h1V16.9h1V0zM699 0V2.9h1V16.9h1V27h1V33h2V24.1h1V12h1V23.4h1V27.2h1V0zM709 0V5.3h1V9h1V8.9h1V9.3h1V9.4h1V9.6h1V6.2h1V4.4h2V3.2h1V3.6h1V2.5h1V2.2h1V2.1h1V.8h1V.7h1V.6h1V.9h1V.7h1V2.8h1V2.7h1V3.1h1V9.3h1V8.3h1V5.9h1V5.3h1V8h1V7.4h1V6.5h1V8.6h1V5.4h1V9.1h1V8.6h1V5.1h1V8.6h1V9.2h1V6.6h1V7h1V6.8h1V7.8h1V6.1h1V5.4h1V6.5h1V8.1h1V6.7h1V8h1V8.7h1V7.2h1V5.2h1V5.9h1V6.6h1V6.9h1V5.7h1V6.1h1V7.2h1V5.4h1V5.6h1V6.7h1V8.5h1V8.6h1V8.4h1V7.2h1V6.2h1V6.7h1V5.9h1V5.1h1V7.3h1V5.8h1V6.9h1V5.5h1V7h1V6.3h1V7.7h1V6.7h1V7.6h1V6.8h1V5.2h1V6.1h1V5.6h1V8.2h1V8.4h1V5.3h2V1.2h1V1.5h1V7.8h1V7.5h1V7.7h1V7.9h1V5.6h1V5.9h1V5.7h1V7.5h1V5.9h1V7.6h1V8h1V7.6h1V5.2h1V7.3h1V5.1h1V6.3h1V5.4h1V5.9h1V7.3h1V8.1h1V5.1h1V7.2h1V7.7h1V7.6h1V6.7h1V7.2h1V5.5h1V0zM822 0V5.8h1V.7h1V7h1V5.2h1V4.5h1V6.2h1V7.3h1V4.8h1V5.9h1V5.3h1V7h1V7.1h1V5.5h1V6.4h1V7.4h1V5h1V6.1h1V1.1h1V4.9h1V.7h1V5.5h1V4.8h1V7.1h1V4.6h1V5.7h1V5.4h1V.7h1V7.2h1V3.1h1V.9h1V0zM855 0V6h1V5.9h1V6.2h1V6.3h1V5.9h1V0zM861 0V4.5h1V4.1h1V3.3h1V2.5h1V1.9h1V1.2h1V0zM874 0V1.6h1V1.3h1V1.4h1V1.5h1V1.9h2V1.6h1V1.9h1V2.1h1V2.2h2V2h1V2.8h1V2.3h1V2.1h1V3.3h1V3.5h1V2.8h1V3.7h1V3.8h1V2.8h1V3.2h1V2.7h1V0zM902 0V2.5h1V1.6h1V2.2h1V2.1h1V0zM907 0V1.3h2V1.2h1V1.5h1V1.2h1V0zM1100 0V8.6h1V9.9h1V10.2h1V2.8h1V8h1V10.6h1V9.1h2V9.3h1V5.2h1V4.3h1V3.4h1V5.4h1V5.8h1V7h1V9.7h1V10.2h1V8.2h1V8.9h1V9h1V4h1V5.6h1V4.7h1V7.7h1V10.1h1V6h1V8.9h1V3.6h1V3.3h1V7.4h1V7.2h1V1.1h1V8.4h1V2.8h1V9h1V5.1h1V7.3h1V3.1h1V8.8h1V10.2h1V4.2h1V5.8h1V5.7h1V6.7h1V8.9h1V7.5h1V9.6h1V9.2h1V1h1V4.1h1V5.2h1V5.7h1V8.9h1V5.9h1V8.5h1V4.7h1V4.9h1V5.3h1V1.3h1V6.9h1V6.7h1V6.5h1V7.2h1V8.1h1V9.4h1V7.1h1V3.9h1V3h1V5.2h1V2.9h1V6.2h1V3.7h1V7.2h1V5h2V7.6h1V6.4h1V3.7h1V9.2h1V6.8h1V3.8h1V4.9h1V8.4h1V2.4h1V0zM1185 0V8.8h1V8h1V3.6h1V0zM1189 0V6.5h1V3.7h1V6.6h1V5.6h1V8.1h1V3.7h1V9.1h1V.7h1V6.4h1V4.7h1V3.5h1V1.4h1V3.8h1V8.4h1V4.2h1V3.8h1V2.4h1V9.1h1V6.4h1V3.8h1V3.3h1V7.8h1V3.5h1V8.9h1V6.4h1V5h1V8.6h1V7.3h1V6.4h1V5.4h1V3.7h1V4.6h1V1.5h1V7.7h1V1.7h1V4.8h1V2.5h1V3.6h1V1.1h1V7.1h1V6.9h1V3.1h1V7.9h1V8.1h1V6.5h1V4.5h1V2.7h1V7.5h1V4.5h1V8.2h1V6.7h1V7.8h1V5.5h1V8.6h1V3.9h2V6.1h2V3.6h1V4.4h1V6.1h1V7.2h1V8h1V3.6h1V2.8h1V3.2h1V6.4h1V4.1h1V5.7h1V5.9h1V6.1h1V6h1V3.6h1V3.1h2V3.5h1V2.1h1V7.4h1V3.1h1V5.1h1V4.8h1V2.3h1V5h1V7.3h1V6.1h1V3.9h1V4.3h1V5.9h1V7.6h1V4.1h1V.6h1V0zM1281 0V2.5h1V2.4h1V4.6h1V5.2h1V6.7h1V7h1V4.6h1V4.5h1V0zM1290 0V2.9h1V7h1V5.4h1V6.1h1V6.7h1V8.2h1V0zM1297 0V1.9h1V4.4h1V0zM1301 0V7.1h1V5.9h1V4.9h1V4.5h1V0zM1306 0V7.1h1V1.3h1V7.1h1V3.7h1V2.9h1V2h1V4.1h2V1.9h1V2.7h1V5h1V2.5h1V4.4h1V4.5h1V8.3h1V.8h1V7.9h1V5h1V5.9h1V8.3h1V0zM1327 0V2.9h1V2.3h1V4.4h1V7.5h1V2h1V6.4h1V3.9h1V2h1V7.5h1V8.4h1V3.8h1V8.1h1V6h1V3.5h1V6.5h1V7.8h1V3h1V7.2h1V0zM1346 0V8.5h2V2.2h1V3.2h1V0zM1352 0V7.1h1V5.8h1V3.4h1V2.3h1V6.2h1V3.7h1V0zM1359 0V7.9h1V6.9h1V8.2h1V3.4h1V4.7h1V6.7h1V7.7h1V7.6h1V8.5h1V6.6h1V6.8h1V6.9h1V2.2h1V7.7h1V2.6h1V7.6h1V1.9h1V8.7h1V0zM1381 0V6.9h1V0zM1383 0V4.5h1V0zM1385 0V1.6h1V5.5h1V2.5h1V1.3h1V5.3h1V3h1V5.9h1V3.9h1V8.3h1V0zM1395 0V4h1V5.4h1V4.4h1V0zM1399 0V5.7h1V8.3h1V.9h1V2h1V3.4h1V5.2h1V4h1V7.1h1V5.9h1V0zM1410 0V3.1h1V5.5h1V6.1h1V2.2h1V6.3h1V7.9h1V7.7h2V5.6h1V0zM1420 0V2.9h1V2.4h1V7.8h1V2h1V0z" fill="#595959"/>
</g>
</g>
<path d="M317.4 422.31v8.4M414 422.31v8.4M510.6 422.31v8.4M604.08 422.31v8.4M700.68 422.31v8.4M794.16 422.31v8.4M890.76 422.31v8.4M987.36 422.31v8.4M1077.73 422.31v8.4M1174.33 422.31v8.4M1267.81 422.31v8.4M1364.41 422.31v8.4M1457.89 422.31v8.4M1554.49 422.31v8.4M1651.09 422.31v8.4M1744.57 422.31v8.4M1841.17 422.31v8.4M1934.66 422.31v8.4M2031.26 422.31v8.4M2127.85 422.31v8.4M2215.1 422.31v8.4M2311.7 422.31v8.4M2405.19 422.31v8.4M2501.79 422.31v8.4M2595.27 422.31v8.4M2691.87 422.31v8.4M2788.47 422.31v8.4M2881.95 422.31v8.4M2978.55 422.31v8.4M3072.03 422.31v8.4M3168.63 422.31v8.4M3265.23 422.31v8.4M3352.48 422.31v8.4M3449.08 422.31v8.4M3542.56 422.31v8.4M3639.16 422.31v8.4M3732.65 422.31v8.4M3829.24 422.31v8.4M3925.84 422.31v8.4M4019.33 422.31v8.4M4115.93 422.31v8.4M4209.41 422.31v8.4M4306.01 422.31v8.4M4402.61 422.31v8.4M4489.86 422.31v8.4M4586.46 422.31v8.4M4679.94 422.31v8.4M4776.54 422.31v8.4" stroke="#3f3f3f" stroke-width="3.2" fill="none"/>
<text x="276.6" y="376.11" font-size="29.2" fill="#111" text-anchor="end" xml:space="preserve">rnvs3p1-8</text>
<text x="4775.6" y="376.11" font-size="29.2" fill="#111" text-anchor="start">rnvs3p1-8</text>
<rect x="276.3" y="452.02" width="4499.5" height="74.7" fill="#f7f7f7"/>
<g clip-path="url(#axclip)">
<g transform="translate(317.93 493.12) scale(3.1161 33.6)">
<path d="M-13 0h178V1H-13zM171 0h5V1H171zM181 0h105V1H181zM287 0h39V1H287zM388 0h2V1H388zM391 0h23V1H391zM415 0h8V1H415zM471 0h26V1H471zM499 0h9V1H499zM510 0h3V1H510zM514 0h32V1H514zM547 0h2V1H547zM553 0h80V1H553zM634 0h74V1H634zM709 0h35V1H709zM745 0h153V1H745zM902 0h10V1H902zM1099 0h310V1H1099zM1410 0h18V1H1410z" fill="#cccccc"/>
<path d="M181 0h8V1H181zM471 0h26V1H471zM499 0h1V1H499zM511 0h2V1H511zM554 0h30V1H554zM590 0h43V1H590zM634 0h5V1H634zM709 0h35V1H709zM745 0h123V1H745zM874 0h24V1H874zM902 0h10V1H902z" fill="#9999b5"/>
</g>
<g transform="translate(317.93 526.72) scale(3.1161 -1)">
<path d="M181 0V26h1V27h1V24.5h1V23.9h1V26.3h1V20.4h1V22.4h1V22.5h1V0zM471 0V24h1V18.1h1V33.6h1V31.9h1V25.1h1V31.6h1V32.2h1V27.4h1V26.3h1V17.3h1V23.5h1V24.7h1V30.3h1V26.6h1V21.2h1V30.2h1V22.3h1V32.4h1V23h1V28.7h1V23.8h1V20h1V22.6h1V17.2h1V17.7h1V20.9h1V0zM499 0V33.6h1V0zM512 0V3.8h1V0zM554 0V19h1V25.2h1V15.6h1V18.1h1V20h1V20.6h1V24.8h1V3.3h1V22.8h1V28.8h1V26.8h1V27.7h1V14h1V17.4h1V19.2h1V22.9h1V29.3h1V23.5h1V31.1h1V28.9h1V20.8h1V20.3h1V30.3h1V4.3h1V23h1V29.6h1V21.2h1V22.5h1V27.2h1V24.4h1V0zM590 0V13.4h1V16.4h1V14.8h1V15.6h1V12.4h1V12.6h1V14.5h1V24.2h1V14.8h1V22.9h1V25h1V21h1V19.6h1V15.6h1V8.2h1V20.6h1V14.2h1V5.4h1V8.7h1V7.9h1V18h1V23.8h1V15.5h1V12.3h1V16.8h1V13.6h1V17.4h1V17h1V15.2h1V17h1V12.7h1V25h1V14.8h1V18.6h1V19.1h1V13.6h1V17.6h1V15h1V15.2h1V7.3h1V13.7h1V8.6h1V15.9h1V0zM634 0V7.7h1V3.5h1V6.5h1V8.1h1V10.8h1V0zM709 0V33.6h1V33.5h1V31.7h1V32.2h1V29.7h1V30.2h1V26.6h1V32.7h1V23.6h1V28.7h1V24.6h1V22.2h1V22.3h1V20.2h1V24.5h1V19.4h1V30.2h1V24.6h1V27.7h1V26.2h1V28h1V28.5h1V25.7h1V27.7h1V22.8h1V29.1h1V24.9h1V27.2h1V20.7h1V23.5h1V18.7h1V19h1V24.4h1V21h1V27.8h1V0zM745 0V33h1V32.6h1V22.9h1V20.8h1V25.8h1V19.1h1V30.6h1V4.2h1V32.1h1V22.3h1V23.2h1V24.3h1V19.8h1V19.1h1V21.9h1V23.4h1V24.5h1V27.7h1V28.2h1V27.8h1V31.5h1V4h1V31.1h1V24.8h1V18.9h1V23.8h1V28.6h1V22h1V24h1V29.1h1V27.1h1V24.2h1V27.4h1V24.5h1V23.4h1V22.2h1V18.3h1V15h1V27.2h1V2.5h1V25.1h1V26.7h1V24.4h1V19.3h1V13h1V14.3h1V23.3h1V3.3h1V22.3h1V17.9h1V24.7h1V16.7h1V21.2h1V29.2h1V21.8h1V20.3h1V18.4h1V20.9h1V21.6h2V23.3h1V20.7h1V26.6h1V21.6h1V15.1h1V17.7h1V15.9h1V14.8h1V14.5h1V23.5h1V22h1V12.7h1V21.1h1V3.1h1V21.4h1V25.1h1V20.9h1V19h1V15.8h1V16.2h1V13.6h1V3.3h1V15.5h1V14.4h1V15.1h1V19h1V16h1V15.8h1V22.9h1V18.7h1V29.7h1V33.6h1V33.1h1V32.2h1V29.5h1V33h1V33.6h15V30h1V31.8h1V27.7h1V5h1V32.5h1V33.6h1V32.2h1V31.7h1V30.6h1V33.6h3V0zM874 0V33.6h3V31.9h1V33.6h3V30.2h1V33.6h1V32.4h1V32.3h1V31.2h1V33.6h5V30.1h1V32.9h1V31.1h1V33.6h4V0zM902 0V29.1h1V31.6h1V33.1h1V31.9h1V32.1h1V32.4h1V28.4h1V26h1V28.2h1V25.1h1V0z" fill="#738cd0"/>
<path d="M471 0V6.1h1V0zM473 0V13.5h1V12h1V3.1h1V15.1h1V13.8h1V9.6h1V6.4h1V0zM481 0V6.7h1V3.1h1V7.2h1V8.8h1V2.5h1V11.9h1V3.5h1V14.7h1V5.3h1V10.4h1V0zM493 0V4.1h1V0zM554 0V5h1V6.7h1V0zM557 0V1.7h1V2.1h1V1.6h1V5.9h1V0zM562 0V7.9h1V10.8h1V12.6h1V12.9h1V0zM567 0V1.6h1V4.8h1V8.7h1V11.1h1V7.8h1V13.4h1V11.8h1V5.8h1V5.7h1V14.5h1V0zM578 0V6.1h1V14.1h1V4.2h1V3.6h1V17.1h1V11.3h1V0zM590 0V2.7h1V6.3h1V4.6h1V5.9h1V5.8h1V1.6h1V8h1V14.2h1V6.4h1V19.5h1V16.9h1V14.7h1V11.7h1V3.9h1V0zM605 0V12.6h1V6.2h1V0zM610 0V9.5h1V14.8h1V3.3h1V7h1V7.2h1V7.6h1V9.4h1V11.8h1V5.8h1V7.9h1V5.1h1V18.3h1V8.9h1V10.3h1V13.7h1V5.3h1V8.4h1V7.9h1V6.3h1V0zM630 0V9.2h1V0zM632 0V4.5h1V0zM638 0V1.4h1V0zM709 0V22.8h1V21.9h1V20.4h1V21.4h1V16h1V17.9h1V14.7h1V19.8h1V10.4h1V14.6h1V13.8h1V8.7h1V11.1h1V8.4h1V10.7h1V5.8h1V16.6h1V9.4h1V15.3h1V14.2h1V17.7h1V16.6h1V13.3h1V14.4h1V11.5h1V21.6h1V14h1V15.5h1V8.6h1V10.1h1V7.1h1V7.6h1V13.8h1V9.6h1V18h1V0zM745 0V24.3h1V21.2h1V9.8h1V8.9h1V15.6h1V6.1h1V18.3h1V0zM753 0V17.7h1V12h1V11.5h1V13.1h1V8.3h1V5.9h1V7.3h1V14.3h1V13.3h1V14.8h1V13.8h1V13.4h1V17.5h1V0zM767 0V18.3h1V11.1h1V7.4h1V10.3h1V15.1h1V6.6h1V10.6h1V17h1V13.6h1V13.1h1V16h1V10.1h1V9.1h1V8.5h1V9.4h1V3.5h1V14.2h1V0zM785 0V17.2h1V17h1V11.4h1V5.9h1V0zM790 0V5h1V10.3h1V0zM793 0V7.4h1V7.7h1V16.5h1V5.1h1V10.6h1V17.3h1V11.7h1V7.1h1V2.7h1V7.5h1V10.6h1V8.3h1V9.6h1V7.7h1V12.4h1V5.9h1V2.9h1V3.5h1V4.1h1V5.2h1V0zM814 0V11.4h1V10.8h1V1.3h1V10.5h1V0zM819 0V10.9h1V14.2h1V10.1h1V10h1V2.6h1V2.3h1V2.7h1V0zM827 0V4.9h1V1.4h1V1.2h1V8.1h1V0zM832 0V4.5h1V8.5h1V9.9h1V0zM844 0V3.3h1V0zM847 0V2.1h1V0zM853 0V1.5h1V0zM867 0V1.9h1V0zM874 0V8.2h1V8.7h1V2.2h1V2.5h1V9.3h1V9.4h1V3.4h1V0zM882 0V2.5h1V1.9h1V1.6h1V2.7h1V5.5h1V9.3h1V1.2h1V1.8h1V4.5h1V0zM892 0V2.5h1V1.6h1V7.4h1V8.6h1V5.3h1V3.3h1V0zM902 0V9.2h1V7.5h1V10.3h1V10.5h1V9.6h2V2.8h1V3h1V4.5h1V5.4h1V0z" fill="#1a66f5"/>
</g>
<g transform="translate(317.93 488.92) scale(3.1161 -1)">
<path d="M181 0V10.8h1V18.1h2V16.4h4V.7h1V0zM472 0V16.4h1V28.4h1V13.2h1V27.3h1V27.9h1V28.1h1V27.2h1V27.5h1V27.9h1V24.1h1V23.3h1V23.1h1V23.2h1V23.1h1V22.8h1V22.9h1V21.6h1V22.3h1V22.1h1V21.3h1V21.7h1V21.1h1V21.6h1V20.6h1V1.2h1V0zM499 0V1.2h1V0zM511 0V14.9h1V14h1V0zM554 0V1.2h1V17.6h2V18.6h1V18h2V19h1V19.1h1V19.2h1V18.3h1V19h1V18h1V19h1V18.9h1V18.6h1V18.4h1V19.8h1V18.7h1V19h2V19.9h1V18.6h1V19.7h1V18.9h1V19.3h1V19.7h1V19h1V19.5h1V21.7h1V3.6h1V0zM590 0V23.1h1V23.7h1V24.3h1V24.5h1V23h1V22.1h1V23.8h1V22.4h1V23.7h1V22.5h1V24.8h1V23.9h1V23.6h1V23.4h1V24.9h1V24.4h1V26.6h1V25.3h1V27.2h1V26.5h1V24.2h1V27.6h1V25.8h1V26.7h1V26.6h1V27.5h1V26.3h1V27.4h1V27h1V26.9h1V26.5h1V24.9h1V27.7h1V29.2h1V28.5h1V27.4h1V25.7h1V29.3h1V28.9h1V27.7h1V29.5h1V27.1h1V27h1V0zM634 0V27.8h1V28.3h1V26.5h1V26.7h1V26.6h1V0zM709 0V31.3h1V30.4h1V30h1V30.4h1V31.1h1V30.8h1V30.6h1V32h1V29.9h1V30.8h1V30.5h1V30.6h1V29.9h1V32.1h2V31.7h1V30.8h1V30.5h1V32.2h1V31.3h1V31h1V32.4h1V31.8h1V32.1h1V32.8h1V30.5h1V32.1h1V31.3h1V32.1h1V31h1V30.5h1V30.6h1V31.5h1V31.3h1V30.7h1V0zM745 0V30.6h1V29.5h1V29.9h1V29.7h1V29h1V29.4h1V31h1V30.8h1V29.9h1V29.2h1V30.1h1V31h1V30.8h1V31.1h1V30h1V29.6h1V28.9h1V28.7h1V30.5h1V30.2h1V29.3h1V30.1h1V29.1h1V28.2h1V29.6h1V28.3h1V28.8h1V30h1V29.4h1V29.6h1V29.5h1V28.4h1V30.1h1V29.9h1V30.5h1V29.1h1V30.1h1V29.5h1V27.9h1V29h1V26.6h1V28h1V25.9h1V28.1h1V28.9h1V25.9h1V28.5h1V28.7h1V28h1V28.7h1V28.2h1V26.6h1V26h1V25.3h1V27.3h1V25.6h1V27.9h1V25.5h1V24.6h1V25.3h1V27.9h1V26.7h1V25.9h1V26.9h1V24.4h1V26.5h1V27.5h1V25.4h1V26.9h1V26.1h1V27.4h1V24.9h1V23.3h1V25.4h1V25.3h1V23.8h1V23.3h1V24.9h1V26.2h1V25.1h1V24.3h1V26.5h1V25.3h1V25.5h1V24h2V23.3h1V23.7h1V23h1V23.8h1V23.7h1V24.6h1V22.2h1V24.2h1V24.6h1V21.9h1V21.6h1V21.8h1V22.4h1V23.4h1V23.2h1V23.4h1V24.5h1V23.6h1V21.3h1V23.7h1V21.9h1V21.5h1V20.6h1V20.8h1V21.2h1V22.2h1V21.8h1V23.2h1V21.9h1V20.5h1V22.7h1V22.3h1V21.5h1V20.3h1V20h1V19.7h1V12h1V0zM874 0V7.2h1V19.6h1V19.5h1V18.2h1V19.3h1V19.1h1V18.8h1V18.9h1V19.8h1V19.3h1V19.4h1V18.5h1V20.3h1V19.2h1V19.5h1V19.2h1V19.3h1V18.8h1V19.2h1V19.5h1V18.5h1V19.3h1V20.3h1V6h1V0zM902 0V7.2h1V18.2h1V18.1h1V18h1V18.8h1V19.4h1V18.2h1V20h1V19.3h1V19.4h1V0z" fill="#595959"/>
</g>
</g>
<path d="M317.4 527.32v8.4M414 527.32v8.4M510.6 527.32v8.4M604.08 527.32v8.4M700.68 527.32v8.4M794.16 527.32v8.4M890.76 527.32v8.4M987.36 527.32v8.4M1077.73 527.32v8.4M1174.33 527.32v8.4M1267.81 527.32v8.4M1364.41 527.32v8.4M1457.89 527.32v8.4M1554.49 527.32v8.4M1651.09 527.32v8.4M1744.57 527.32v8.4M1841.17 527.32v8.4M1934.66 527.32v8.4M2031.26 527.32v8.4M2127.85 527.32v8.4M2215.1 527.32v8.4M2311.7 527.32v8.4M2405.19 527.32v8.4M2501.79 527.32v8.4M2595.27 527.32v8.4M2691.87 527.32v8.4M2788.47 527.32v8.4M2881.95 527.32v8.4M2978.55 527.32v8.4M3072.03 527.32v8.4M3168.63 527.32v8.4M3265.23 527.32v8.4M3352.48 527.32v8.4M3449.08 527.32v8.4M3542.56 527.32v8.4M3639.16 527.32v8.4M3732.65 527.32v8.4M3829.24 527.32v8.4M3925.84 527.32v8.4M4019.33 527.32v8.4M4115.93 527.32v8.4M4209.41 527.32v8.4M4306.01 527.32v8.4M4402.61 527.32v8.4M4489.86 527.32v8.4M4586.46 527.32v8.4M4679.94 527.32v8.4M4776.54 527.32v8.4" stroke="#3f3f3f" stroke-width="3.2" fill="none"/>
<text x="276.6" y="481.12" font-size="29.2" fill="#111" text-anchor="end" xml:space="preserve">rnvh1p1-7</text>
<text x="4775.6" y="481.12" font-size="29.2" fill="#111" text-anchor="start">rnvh1p1-7</text>
<rect x="276.3" y="557.03" width="4499.5" height="74.7" fill="#f7f7f7"/>
<g clip-path="url(#axclip)">
<g transform="translate(317.93 598.13) scale(3.1161 33.6)">
<path d="M-13 0h178V1H-13zM171 0h5V1H171zM181 0h105V1H181zM287 0h39V1H287zM388 0h2V1H388zM391 0h23V1H391zM415 0h8V1H415zM471 0h26V1H471zM499 0h9V1H499zM510 0h3V1H510zM514 0h32V1H514zM547 0h2V1H547zM553 0h80V1H553zM634 0h74V1H634zM709 0h35V1H709zM745 0h153V1H745zM902 0h10V1H902zM1099 0h310V1H1099zM1410 0h18V1H1410z" fill="#cccccc"/>
<path d="M181 0h8V1H181zM472 0h25V1H472zM499 0h1V1H499zM511 0h2V1H511zM554 0h30V1H554zM590 0h43V1H590zM634 0h5V1H634zM709 0h35V1H709zM745 0h123V1H745zM874 0h24V1H874zM902 0h10V1H902zM1102 0h25V1H1102zM1128 0h12V1H1128zM1142 0h42V1H1142zM1185 0h3V1H1185zM1189 0h30V1H1189zM1220 0h79V1H1220zM1301 0h25V1H1301zM1328 0h17V1H1328zM1346 0h1V1H1346zM1348 0h2V1H1348zM1352 0h6V1H1352zM1359 0h2V1H1359zM1362 0h15V1H1362zM1381 0h1V1H1381zM1383 0h1V1H1383zM1385 0h9V1H1385zM1395 0h3V1H1395zM1399 0h10V1H1399zM1410 0h9V1H1410zM1420 0h4V1H1420z" fill="#9999b5"/>
</g>
<g transform="translate(317.93 631.73) scale(3.1161 -1)">
<path d="M181 0V14h1V15.8h1V11.1h1V11.6h1V15.9h1V11.3h1V10.5h1V13.1h1V0zM472 0V4.4h1V23.1h1V17.5h1V11.5h1V21.2h1V22.1h1V13.3h1V13.5h1V4.4h1V12.7h1V12.6h1V15.9h1V12.9h1V6.9h1V21.3h1V11.3h1V21.8h1V9.9h1V18.9h1V8.4h1V8.1h1V8.7h1V2.2h1V0zM496 0V7h1V0zM499 0V33.6h1V0zM511 0V16.6h1V17.5h1V0zM554 0V13.1h1V15.4h1V8.7h1V6.7h1V8.9h1V10.8h1V11.9h1V1.7h1V13.9h1V18.1h1V17.5h1V21.2h1V4h1V7.5h1V9.9h1V12.5h1V20.4h1V15.4h1V18.3h1V19.2h1V12.7h1V12.5h1V21.6h1V2.7h1V13.6h1V18.1h1V9.1h1V11.7h1V13.6h1V10.2h1V0zM590 0V7h1V14.2h1V10.8h1V9.4h1V12.2h1V7.1h1V11.7h1V20.2h1V14.5h1V24.5h1V23.8h1V17.9h1V17.8h1V10.5h1V1.7h1V19h1V11.8h1V6.6h1V4.7h1V5.3h1V16.9h1V20.3h1V10.8h1V13.5h1V11.6h1V13.3h1V17.9h1V16.7h1V12.8h1V16.3h1V12.5h1V22.7h1V13.5h1V15.1h1V19.9h1V13.3h1V15.7h1V10.9h1V12h1V3.6h1V14h1V6.4h1V11.3h1V0zM634 0V5.6h1V4h1V8.4h1V9.8h1V11.7h1V0zM709 0V21h1V19.4h1V20h1V17.2h1V14.4h1V15.4h1V14.9h1V17.3h1V8.5h1V13.2h1V10.2h1V12.6h1V9.7h1V11.4h1V13.7h1V10.7h1V16.7h1V11.3h1V15h1V14.9h1V15.7h1V13.8h1V13.1h1V13.3h1V10.2h1V18.8h1V14.6h1V11.7h1V11.6h1V13.2h1V10.1h1V10.9h1V13.9h1V9.4h1V15h1V0zM745 0V19.5h1V18.8h1V12.6h1V9.3h1V12.8h1V10.4h1V14.7h1V2h1V18.1h1V12.2h1V10.3h1V10.5h1V9.9h1V7.7h1V7.3h1V14.8h1V12.6h1V15.4h1V12.8h1V12.2h1V15.5h1V2.4h1V16.9h1V9.6h1V10.5h1V11.7h1V13.4h1V8.2h1V10.7h1V15.7h1V14.5h1V12h1V15.1h1V8.6h1V11.1h1V11h1V5.9h1V2.2h1V11h1V0zM785 0V15.2h1V15.5h1V11.6h1V9.8h1V2.1h1V6.6h1V11.5h1V1.1h1V9.2h1V8.1h1V14.1h1V6.5h1V10h1V17.1h1V10.8h1V7.1h1V5.7h1V7.8h1V11.7h1V9.2h1V9.6h1V10.7h1V10.9h1V8.2h1V5.9h1V6.9h1V3.9h1V4.1h1V0zM814 0V10.3h1V12.2h1V2.5h1V10.6h1V1.5h1V8h1V14h1V9.5h1V8.2h1V1.4h1V3.5h1V2h1V1.1h1V5.8h1V2.3h1V1.5h1V8.6h1V3.3h1V7.9h1V9.9h1V7.5h1V19.6h1V28.3h1V26.5h1V25.3h1V21.5h1V23.2h1V26.8h1V30.4h1V29.7h1V31.3h1V29.2h1V30h1V31.5h1V25.7h1V26.7h1V23.1h1V24.4h1V22.2h1V31.1h1V22.5h1V26.9h1V14.4h1V21h1V19.5h1V4.6h1V24.5h1V25.2h1V24.5h1V22.1h1V26.1h1V26.2h1V29.5h1V30.9h1V0zM874 0V33.6h1V33h1V31h1V27h1V33.6h1V33.5h1V32.4h1V23.1h1V28.7h1V26.4h1V25.6h1V26.5h1V32.2h1V32.5h1V28.3h1V29.3h1V31.4h1V25.9h1V28.6h1V27.4h1V33.6h3V30.7h1V0zM902 0V27.9h1V26.9h1V32.6h1V31.4h1V30.6h1V30.3h1V25.4h1V25h1V27.9h1V25.8h1V0zM1102 0V17.1h1V20.5h1V19.8h1V19h1V19.5h1V19.6h1V19.2h1V5h1V27.7h1V33.6h1V31.8h1V27.5h1V31.8h1V27.5h1V29.3h1V31.1h1V29h1V30.2h1V31.9h1V30.2h1V33.6h1V32.2h1V30.3h1V33.6h1V4.9h1V0zM1128 0V24.9h1V24.8h1V24.3h1V28.1h1V33.6h1V31.5h1V26.2h1V31.9h1V29.5h1V33.6h2V26.8h1V0zM1142 0V29h1V29.2h1V29.1h1V33.6h4V29.8h1V32.6h2V31.4h1V33.6h1V31.9h1V33.6h1V33.4h1V32.6h1V31.8h1V33.6h2V30.9h1V33.6h1V26.9h1V25.8h1V30.2h1V27.8h1V33.2h1V4.9h1V30.2h1V22.3h1V33.4h1V33.6h1V28.4h1V29.2h1V32.1h1V29.8h1V32.4h1V33.6h1V4.8h1V33.6h1V30.4h1V31.4h1V23h1V0zM1185 0V28.5h1V27.1h1V33.6h1V0zM1189 0V32.8h1V28.2h1V31.2h1V33.6h2V30.7h1V30.9h1V33.6h1V28.7h1V30.1h1V33.6h3V26.2h1V21.8h1V29.2h1V26.4h2V26.2h1V20.5h1V5h1V33.6h1V32.2h1V28.8h1V25.4h1V29.1h1V33.6h1V25.9h1V28.5h1V29.6h1V0zM1220 0V26.4h1V23.9h1V23.8h1V33.4h1V24.1h1V27.2h1V25.5h1V33.6h1V21.5h1V22.7h1V19h1V24.7h1V33.6h1V22.4h1V25.1h1V31.4h1V32.6h1V31.3h1V29.1h1V23.3h1V25.8h1V23.9h1V5h1V26.7h1V30h1V33h1V17.6h1V22.5h1V17.8h1V23.6h1V25.7h1V26.2h1V16.6h1V12.7h1V28.4h1V23.6h1V27.2h1V25.1h1V14.4h1V24.3h1V22.1h1V28.8h1V26h1V26.7h1V22.3h1V19.7h1V19.2h1V28.5h1V21.4h1V15.7h1V25.5h1V20h1V30.9h1V24.2h1V26.5h1V31h1V33.4h1V26.1h1V24.7h1V28.3h1V26h1V32.9h1V17.2h1V25.1h1V28.4h1V33.6h1V24.9h1V24.5h1V26.1h1V26.4h1V27.8h1V24.1h1V29.9h1V31.2h1V29.2h1V27.2h1V32.9h1V26.6h1V26.7h1V0zM1301 0V33.6h2V33.2h1V24.5h1V28.6h1V28.9h1V24.4h1V30.4h1V27h1V22.4h1V22.3h1V20.9h1V30.8h1V32.1h1V26.6h1V28.1h1V25.8h1V29.4h1V29.6h1V33.6h2V32.1h1V31.8h1V29h1V29.9h1V0zM1328 0V29.8h1V28.8h1V33.4h1V27.3h1V33.6h3V30.4h1V5h1V30.1h1V27.6h1V27.4h1V28h1V32.6h1V24.7h1V27.8h1V26.3h1V0zM1346 0V32.6h1V0zM1348 0V33.6h2V0zM1352 0V30h1V31.5h1V31.8h1V33.6h1V30.5h1V33.6h1V0zM1359 0V27.2h1V27.6h1V0zM1362 0V32.4h1V30.4h1V28.9h1V27.4h1V27.6h1V26.2h1V30.1h1V33.6h2V4.6h1V33.1h1V29.8h1V32.1h1V27.3h1V26h1V0zM1381 0V31h1V0zM1383 0V25.9h1V0zM1385 0V29.5h1V32.8h1V32h1V31.3h1V22.3h1V27.7h1V33.6h1V29.4h1V32.1h1V0zM1395 0V4.6h1V26.5h1V29.5h1V0zM1399 0V26.5h1V29.9h1V27.2h1V27.9h1V26.3h1V26.9h1V24.5h1V27.5h1V33.6h2V0zM1410 0V29.4h1V4.9h1V33.6h1V30.4h1V23.9h1V22.7h1V29.5h1V28.2h1V33.2h1V0zM1420 0V30.1h1V27.8h1V22.8h1V21.2h1V0z" fill="#738cd0"/>
<path d="M473 0V10.9h1V12.4h1V0zM476 0V11.6h1V10.8h1V6.6h1V6.7h1V0zM481 0V2.4h1V0zM483 0V4h1V3.7h1V0zM486 0V9.9h1V0zM488 0V11.1h1V0zM490 0V10.5h1V0zM511 0V6.4h1V9.6h1V0zM555 0V3.8h1V0zM560 0V2.1h1V0zM562 0V3.6h1V6.4h1V7.9h1V9.3h1V0zM569 0V5.3h1V8.2h1V3.5h1V10.8h1V6.2h1V2.1h1V0zM576 0V9.1h1V0zM578 0V4h1V10.1h1V0zM582 0V7.9h1V3.7h1V0zM590 0V1.6h1V6.9h1V5.3h1V3.4h1V5.1h1V0zM596 0V6.1h1V17.2h1V5.7h1V20.6h1V18.4h1V13.7h1V13.1h1V4.2h1V0zM605 0V12.3h1V5.8h1V0zM610 0V9.9h1V16.9h1V3.6h1V7h1V6.6h1V6.2h1V8.1h1V12.4h1V8.6h1V7.7h1V7.3h1V20.3h1V7.2h1V11h1V12h1V4.5h1V9.1h1V5.1h1V8h1V0zM630 0V8.9h1V0zM632 0V3.3h1V0zM637 0V1.6h1V4.4h1V0zM709 0V4.3h2V6.1h1V6.6h1V2.6h1V4.6h1V0zM716 0V4.4h1V0zM718 0V1.2h1V0zM725 0V1.8h1V0zM727 0V1.5h1V0zM730 0V1.2h1V0zM734 0V5.3h1V0zM745 0V5.6h1V4h1V0zM751 0V3.7h1V0zM753 0V2.3h1V0zM762 0V1.3h1V0zM765 0V2.7h1V0zM767 0V2h1V0zM771 0V1.6h1V0zM774 0V1.7h1V0zM783 0V2.7h1V0zM785 0V6.7h2V3.1h1V0zM795 0V4.6h1V0zM797 0V2.9h1V8.3h1V2.9h1V0zM805 0V1.1h1V0zM807 0V4.5h1V0zM814 0V1.7h1V0zM817 0V2.7h1V0zM819 0V1.5h1V3.9h1V0zM835 0V7.6h1V19.2h1V13.7h1V12h1V6.2h1V11.3h1V15.8h1V21.5h1V21.1h1V21.5h1V17.2h1V20.9h1V19.7h1V15.2h1V12.3h1V12.1h1V11.6h1V10.3h1V24.1h1V12h1V15.8h1V2.1h1V9.5h1V4.8h1V1.1h1V13.8h1V12.2h1V13.9h1V12.4h1V11.7h1V14.1h1V16.9h1V18.8h1V0zM874 0V22.9h1V23.3h1V17.7h1V14.7h1V22.4h1V23.1h1V21.1h1V9.8h1V16.5h1V18h1V16.1h1V15.4h1V21h1V25.4h1V15.8h1V15.5h1V20.4h1V12.5h1V16.3h1V14.7h1V21.2h1V21.7h1V21.2h1V20.7h1V0zM902 0V18.4h1V16.9h1V20.1h1V20h1V20.1h1V19.7h1V13.4h1V13h1V16.7h1V13.2h1V0zM1103 0V6.1h1V2h1V3.5h1V6.5h1V5.9h1V5.8h1V1.5h1V16.9h1V26.2h1V25h1V16.4h1V20.7h1V15.1h1V16.2h1V22.1h1V17.9h1V18h1V23.8h1V21.3h1V24.8h1V21.4h1V18.9h1V26.8h1V1.3h1V0zM1128 0V12.9h1V15.7h1V14.5h1V16.9h1V25.5h1V24.6h1V17.9h1V21h1V19.6h1V28.7h1V26.6h1V16.6h1V0zM1142 0V21.5h1V18.9h1V16.1h1V28h1V28.3h1V28.9h1V26.5h1V19.5h1V21.2h2V21.6h1V23.4h1V23.1h1V26.4h1V25.6h1V22.5h1V19.8h1V26.3h1V27.8h1V21.1h1V24.6h1V17.9h1V16.8h1V20.1h1V19.3h1V22.5h1V1.2h1V17.2h1V14.1h1V24.8h1V28.5h1V19.8h1V16.5h1V24.8h1V21.7h1V20.7h1V24.8h1V1.2h1V24.9h1V21.1h1V23.7h1V14h1V0zM1185 0V8.4h1V13.4h1V18h1V0zM1189 0V17.2h1V7.9h1V14.4h1V21.5h1V22.9h1V14.6h1V14.8h1V20h1V10.3h1V13.6h1V19.7h1V19.1h1V19.5h1V6.2h1V0zM1204 0V9.7h1V11.7h1V10.1h1V6h1V4.8h1V1.2h1V17.3h1V18.5h1V16h1V7.3h1V15.8h1V19.3h1V11.3h1V12.5h1V11.9h1V0zM1220 0V8.7h1V8.1h1V6.5h1V21.1h1V8.6h1V9.6h1V8.4h1V19.1h1V5.3h1V6.5h1V0zM1231 0V8.1h1V16.8h1V4.6h1V9.7h1V13.1h1V20.2h1V17.9h1V14.5h1V9.3h1V6.7h1V5.5h1V1.1h1V7.1h1V13.3h1V15h1V1h1V9.3h1V0zM1249 0V7.7h1V9.8h1V8.7h1V0zM1254 0V11.6h1V7.2h1V7.6h1V8.6h1V0zM1259 0V7.5h1V4.8h1V12.7h1V8.4h1V9.1h1V2.7h1V0zM1266 0V2.1h1V11.6h1V2.6h1V0zM1270 0V8.8h1V1.3h1V14.1h1V8.5h1V6.4h1V13.1h1V19.5h1V9.1h1V10.1h1V14.1h1V10.3h1V17.5h1V0zM1283 0V8.9h1V18.9h1V28.3h1V11.5h1V13.8h1V14.2h1V18.9h1V17.8h1V9.7h1V19.9h1V21h1V16.9h1V18.7h1V24.6h1V15.9h1V17.8h1V0zM1301 0V26.8h1V24.2h1V24.8h1V16.6h1V20.4h1V19h1V12.9h1V22.2h1V18.8h1V9.9h1V8.4h1V11.2h1V18.3h1V22.5h1V15.4h1V19.2h1V16h1V21.1h1V22.8h1V27.8h1V29.2h1V25.5h1V21.2h1V20.6h1V19.3h1V0zM1328 0V21.1h1V19.2h1V25.8h1V19.2h1V27.7h1V28.9h1V24.4h1V19.2h1V1.5h1V17.6h1V18.9h1V16.1h1V15.3h1V21.4h1V16.3h1V21.4h1V15.4h1V0zM1346 0V20.7h1V0zM1348 0V27.4h1V29.6h1V0zM1352 0V22.4h1V22.3h1V21.1h1V25.8h1V22.3h1V27h1V0zM1359 0V16.1h1V17h1V0zM1362 0V22.2h1V20h1V22.6h1V18.9h1V15.5h1V17.3h1V18h1V24.8h1V22.4h1V1.4h1V28h1V23h1V23.6h1V19.3h1V17.9h1V0zM1381 0V18.2h1V0zM1383 0V16.4h1V0zM1385 0V21h1V26.1h1V20.9h1V24.3h1V13.2h1V14.7h1V24.8h1V18.6h1V22.2h1V0zM1395 0V1.2h1V17.3h1V18.3h1V0zM1399 0V19.4h1V19.8h1V18.7h1V18.2h1V15.6h1V15.4h1V13.7h1V18.1h1V27h1V25.1h1V0zM1410 0V19.3h1V1.4h1V27.4h1V18.4h1V11.1h1V12.6h1V19.2h1V18.3h1V23.9h1V0zM1420 0V20.4h1V19.8h1V13.8h1V12.9h1V0z" fill="#1a66f5"/>
</g>
<g transform="translate(317.93 593.93) scale(3.1161 -1)">
<path d="M181 0V7h1V11.7h2V10.6h4V.5h1V0zM472 0V10.6h1V18.5h1V8.6h1V17.7h1V18.2h1V18.3h1V17.7h1V17.9h1V18.1h1V15.7h1V15.2h1V15h1V15.1h1V15h1V14.8h1V14.9h1V14h1V14.5h1V14.3h1V13.9h1V14.1h1V13.7h1V14.1h1V13.4h1V.8h1V0zM499 0V.8h1V0zM511 0V9.7h1V9.1h1V0zM554 0V.8h1V11.5h1V11.4h1V12.1h1V11.7h2V12.3h1V12.4h1V12.5h1V11.9h1V12.3h1V11.7h1V12.4h1V12.3h1V12.1h1V12h1V12.8h1V12.2h1V12.4h1V12.3h1V12.9h1V12.1h1V12.8h1V12.3h1V12.6h1V12.8h1V12.3h1V12.7h1V14.1h1V2.3h1V0zM590 0V15h1V15.4h1V15.8h1V15.9h1V14.9h1V14.4h1V15.5h1V14.5h1V15.4h1V14.6h1V16.1h1V15.5h1V15.4h1V15.2h1V16.2h1V15.8h1V17.3h1V16.4h1V17.7h1V17.2h1V15.7h1V17.9h1V16.8h1V17.4h1V17.3h1V17.9h1V17.1h1V17.8h1V17.5h2V17.2h1V16.2h1V18h1V19h1V18.5h1V17.8h1V16.7h1V19.1h1V18.8h1V18h1V19.2h1V17.6h2V0zM634 0V18.1h1V18.4h1V17.3h1V17.4h1V17.3h1V0zM709 0V20.4h1V19.8h1V19.5h1V19.8h1V20.2h1V20h1V19.9h1V20.8h1V19.4h1V20h1V19.9h2V19.5h1V20.8h2V20.6h1V20h1V19.9h1V21h1V20.4h1V20.1h1V21h1V20.7h1V20.9h1V21.3h1V19.8h1V20.9h1V20.3h1V20.9h1V20.2h1V19.8h1V19.9h1V20.5h1V20.4h1V20h1V0zM745 0V19.9h1V19.2h1V19.4h1V19.3h1V18.8h1V19.1h1V20.2h1V20h1V19.4h1V18.9h1V19.6h1V20.2h1V20h1V20.2h1V19.5h1V19.2h1V18.8h1V18.6h1V19.8h1V19.6h1V19h1V19.6h1V18.9h1V18.4h1V19.2h1V18.4h1V18.7h1V19.5h1V19.1h1V19.2h2V18.5h1V19.6h1V19.5h1V19.8h1V18.9h1V19.6h1V19.2h1V18.2h1V18.9h1V17.3h1V18.2h1V16.9h1V18.2h1V18.8h1V16.8h1V18.5h1V18.6h1V18.2h1V18.6h1V18.3h1V17.3h1V16.9h1V16.4h1V17.7h1V16.6h1V18.1h1V16.6h1V16h1V16.4h1V18.1h1V17.3h1V16.8h1V17.5h1V15.8h1V17.2h1V17.9h1V16.5h1V17.5h1V16.9h1V17.8h1V16.2h1V15.2h1V16.5h2V15.5h1V15.1h1V16.2h1V17h1V16.3h1V15.8h1V17.2h1V16.4h1V16.6h1V15.6h2V15.2h1V15.4h1V14.9h1V15.4h2V16h1V14.4h1V15.7h1V16h1V14.2h1V14h1V14.2h1V14.6h1V15.2h1V15.1h1V15.2h1V15.9h1V15.4h1V13.8h1V15.4h1V14.3h1V14h1V13.4h1V13.5h1V13.8h1V14.4h1V14.1h1V15.1h1V14.2h1V13.3h1V14.7h1V14.5h1V14h1V13.2h1V13h1V12.8h1V7.8h1V0zM874 0V4.7h1V12.8h1V12.7h1V11.8h1V12.5h1V12.4h1V12.2h1V12.3h1V12.8h1V12.6h2V12h1V13.2h1V12.5h1V12.7h1V12.5h2V12.2h1V12.5h1V12.7h1V12.1h1V12.5h1V13.2h1V3.9h1V0zM902 0V4.7h1V11.8h2V11.7h1V12.2h1V12.6h1V11.8h1V13h1V12.5h1V12.6h1V0zM1102 0V9.7h1V22.6h1V22.3h1V23.6h1V22.8h1V23.7h1V22.9h1V22.5h1V23.8h1V21.9h1V23.6h1V22.4h1V22.9h1V23h1V23.5h1V22.3h2V22.8h2V23.1h1V23.8h1V23.3h1V22.4h1V23.2h1V5.3h1V0zM1128 0V9.4h1V22.9h3V3.6h1V14.4h1V20.4h6V0zM1142 0V5.3h1V20.8h1V20.5h1V21.3h1V21.2h1V21.4h1V21.7h1V21.2h1V20.7h1V21.7h1V19.3h1V19.1h2V19.9h1V20.7h1V18.6h1V18.4h1V21h1V19h1V18.1h1V18.2h1V19.1h1V20.7h1V17.8h1V18.1h1V18.9h1V19.3h1V19.4h1V18.6h1V17.8h1V19.3h1V19.4h1V18.1h1V18.2h1V17.8h1V19.2h1V16.8h1V17.6h1V19h1V17.5h1V17.3h1V17.5h1V0zM1185 0V19.3h3V0zM1189 0V18.7h1V17.5h1V16.6h1V17.5h1V17.2h1V16h1V15.6h1V15.4h1V17.4h1V17.5h1V17h1V15.1h1V15.6h1V15.5h1V16.4h1V15.6h1V15.3h1V16.2h1V14.1h1V14.6h1V16.1h1V14.8h1V14h1V14.7h1V13.6h1V14.5h1V13.7h2V13.3h1V14.3h1V0zM1220 0V14.5h1V15.4h1V16.2h1V15.1h1V16.5h1V15.9h1V15.7h1V15.4h1V14.9h1V15.2h1V14.4h1V14.3h1V14.8h1V14h1V14.1h1V14.9h1V14.5h1V15.7h1V15.1h1V14.9h1V13.9h1V14.6h1V13.5h1V14.2h1V15.4h1V13.4h1V13.8h1V14.5h1V14.3h1V13.1h1V15h1V14.9h1V14.8h1V13.5h1V14.2h1V13.5h1V13h1V14.3h1V13.9h1V13.8h1V12.9h1V13.6h1V14h1V12.6h1V12.7h1V13.2h1V13.5h1V13.2h1V13h1V12.8h2V12.4h1V12.2h2V13.3h1V11.9h1V12.3h1V12h1V11.6h2V12.1h1V12.5h1V12.1h1V12.4h1V13.6h1V12.7h1V13.3h2V13.8h1V14.2h1V12.4h1V12.8h1V14.2h1V14.1h1V14.7h1V13.8h1V12.9h1V12.7h1V13.5h1V0zM1301 0V13.1h1V13.2h1V13h1V28.2h1V12.7h1V13.4h1V13.5h1V14.4h1V15.4h1V14.7h1V13.3h1V14.4h1V15.2h1V13.4h1V14.8h2V15.1h1V15h2V15.7h1V13.4h1V13.9h1V14.5h1V15.4h1V13.7h1V0zM1328 0V15.2h1V16.6h1V33.7h1V16.2h1V17.7h1V17.9h1V16.7h1V16.1h1V15.6h1V17.8h1V15.7h1V18.3h1V18h1V16.9h2V17.6h1V17.4h1V0zM1346 0V16.2h1V0zM1348 0V17.8h1V18.6h1V0zM1352 0V18.2h1V18.8h1V18.3h1V17.2h1V19.7h1V17h1V0zM1359 0V19.2h1V18.9h1V0zM1362 0V17.2h1V20.3h1V18.9h1V20.1h1V17.5h1V18.5h1V19.9h1V18.2h1V19.8h1V17.9h1V20.9h1V20.2h1V18.3h1V20.9h1V18.5h1V0zM1381 0V22.8h1V0zM1383 0V22.4h1V0zM1385 0V23.3h1V21.9h1V23.5h1V21.8h1V22.6h1V21.1h1V22h1V23.5h1V23.4h1V0zM1395 0V23h1V23.8h1V23.6h1V0zM1399 0V23.2h1V22.6h1V21.9h1V22.3h1V21.4h1V22.6h1V22.9h1V24.2h1V21.8h1V21.6h1V0zM1410 0V24.2h1V22.6h1V23h1V22.6h1V23.2h1V22.7h1V22.6h1V22.1h1V23.8h1V0zM1420 0V23.2h1V22.2h1V21.7h1V22.9h1V0z" fill="#595959"/>
</g>
</g>
<path d="M317.4 632.33v8.4M414 632.33v8.4M510.6 632.33v8.4M604.08 632.33v8.4M700.68 632.33v8.4M794.16 632.33v8.4M890.76 632.33v8.4M987.36 632.33v8.4M1077.73 632.33v8.4M1174.33 632.33v8.4M1267.81 632.33v8.4M1364.41 632.33v8.4M1457.89 632.33v8.4M1554.49 632.33v8.4M1651.09 632.33v8.4M1744.57 632.33v8.4M1841.17 632.33v8.4M1934.66 632.33v8.4M2031.26 632.33v8.4M2127.85 632.33v8.4M2215.1 632.33v8.4M2311.7 632.33v8.4M2405.19 632.33v8.4M2501.79 632.33v8.4M2595.27 632.33v8.4M2691.87 632.33v8.4M2788.47 632.33v8.4M2881.95 632.33v8.4M2978.55 632.33v8.4M3072.03 632.33v8.4M3168.63 632.33v8.4M3265.23 632.33v8.4M3352.48 632.33v8.4M3449.08 632.33v8.4M3542.56 632.33v8.4M3639.16 632.33v8.4M3732.65 632.33v8.4M3829.24 632.33v8.4M3925.84 632.33v8.4M4019.33 632.33v8.4M4115.93 632.33v8.4M4209.41 632.33v8.4M4306.01 632.33v8.4M4402.61 632.33v8.4M4489.86 632.33v8.4M4586.46 632.33v8.4M4679.94 632.33v8.4M4776.54 632.33v8.4" stroke="#3f3f3f" stroke-width="3.2" fill="none"/>
<text x="276.6" y="586.13" font-size="29.2" fill="#111" text-anchor="end" xml:space="preserve">rnvh3p1-8</text>
<text x="4775.6" y="586.13" font-size="29.2" fill="#111" text-anchor="start">rnvh3p1-8</text>
<rect x="276.3" y="662.04" width="4499.5" height="74.7" fill="#f7f7f7"/>
<g clip-path="url(#axclip)">
<g transform="translate(317.93 703.14) scale(3.1161 33.6)">
<path d="M-14 0h179V1H-14zM171 0h5V1H171zM181 0h105V1H181zM287 0h39V1H287zM388 0h2V1H388zM391 0h23V1H391zM415 0h8V1H415zM471 0h26V1H471zM499 0h9V1H499zM510 0h3V1H510zM514 0h32V1H514zM547 0h2V1H547zM553 0h155V1H553zM709 0h189V1H709zM902 0h10V1H902zM1099 0h310V1H1099zM1410 0h18V1H1410z" fill="#cccccc"/>
<path d="M-14 0h40V1H-14zM28 0h62V1H28zM91 0h25V1H91zM120 0h29V1H120zM150 0h14V1H150zM171 0h5V1H171zM181 0h35V1H181zM217 0h1V1H217zM219 0h2V1H219zM237 0h1V1H237zM239 0h3V1H239zM243 0h11V1H243zM258 0h1V1H258zM270 0h1V1H270zM304 0h1V1H304zM315 0h2V1H315zM483 0h13V1H483zM507 0h1V1H507zM510 0h2V1H510zM519 0h10V1H519zM530 0h5V1H530zM536 0h8V1H536zM554 0h20V1H554zM575 0h44V1H575zM622 0h31V1H622zM654 0h17V1H654zM672 0h36V1H672zM709 0h112V1H709zM822 0h30V1H822zM854 0h44V1H854zM902 0h10V1H902z" fill="#9999b5"/>
</g>
<g transform="translate(317.93 736.74) scale(3.1161 -1)">
<path d="M-14 0V17.7h1V19.8h1V15.3h1V16.5h1V7.4h1V23.5h1V26.1h1V5.2h1V13.9h1V15.8h1V12.7h1V30.4h1V17.9h1V8h1V15.1h1V13.4h1V18.1h1V5.1h1V21.3h1V17.5h1V1.6h1V17.9h1V18.4h1V19.5h1V11.3h1V27.3h1V29.8h1V13.4h1V27.6h1V24.9h1V19.1h1V11.8h1V22.9h1V23.3h1V6.6h1V27.1h1V3.1h1V8.5h1V15.2h1V23.4h1V0zM28 0V14.5h1V12.7h1V23.5h1V10.9h1V3.8h1V7.9h1V16.5h1V17h1V25h1V9h1V24.3h1V23.3h1V29.1h1V23.7h1V14.7h1V17h1V16.1h1V17.5h1V10.8h1V6.4h1V11.3h1V7.4h1V19.5h1V16.5h1V15.4h1V13.4h1V3h1V24.8h1V11.4h1V9h1V14.3h1V18.9h1V15.8h1V19.8h1V11.7h1V14.3h1V5.2h1V18.2h1V18.6h1V8.6h1V16.3h1V25.2h1V14.4h1V5.5h1V18.6h1V3h1V12h1V18.8h1V1.6h1V12.9h1V4.6h1V25.3h1V5.3h1V12.5h1V22.6h1V13.7h1V9h1V16h1V23.9h1V16.1h1V28.2h1V31h1V0zM91 0V16.7h1V25.6h1V27.4h1V11.4h1V6.4h1V4.5h1V16.5h1V13.9h1V5.6h1V29.6h1V20.8h1V20.2h1V27.6h1V17.4h1V22.2h1V22.1h1V26h1V16.1h1V14.2h1V14.4h1V11.8h1V18.1h1V14.1h1V10.2h1V12.8h1V0zM120 0V1.8h1V0zM122 0V17.3h1V21.7h1V3.3h1V13.7h1V5.1h1V13.6h1V18.8h1V21.6h1V19.7h1V5.9h1V9.1h1V30.7h1V11h1V13.2h1V15.2h1V27.6h1V3.4h1V24.1h1V7.2h1V14.8h1V9.1h1V22h1V18.1h1V14.8h1V15.7h1V21.4h1V12.5h1V0zM151 0V8.2h1V3.3h1V0zM154 0V3.6h1V0zM156 0V1.2h1V0zM158 0V4.8h1V0zM161 0V24.7h1V28.3h1V23.4h1V0zM171 0V26.8h1V3.8h1V27h1V22.1h1V18.4h1V0zM181 0V31.9h1V33.2h1V31.1h1V26.9h1V31.3h1V24h1V29h1V27h1V32.3h1V30.5h1V33.6h1V5h1V33.6h1V33.3h1V29.4h1V33.6h2V33.2h1V27.3h1V26.5h1V33.6h2V28.5h1V5h1V33.6h1V31.2h1V29.5h1V33.2h1V29.6h1V33.6h6V0zM217 0V29.7h1V0zM219 0V23.4h1V33.6h1V0zM237 0V28h1V0zM239 0V3.1h1V25.9h1V24.1h1V0zM243 0V31.1h1V25.7h1V33.6h1V32.7h1V26.8h1V28h1V28.1h1V33.6h1V30h1V33.1h1V33.6h1V0zM258 0V30.6h1V0zM270 0V33.2h1V0zM304 0V33.6h1V0zM315 0V33.6h1V30.4h1V0zM483 0V33.6h2V31.3h1V33.6h1V33h1V33.6h3V29.7h1V29.1h1V30.8h1V27h1V24.6h1V0zM507 0V33.6h1V0zM510 0V32h1V32.6h1V0zM519 0V33.6h1V5h1V32.9h1V33.6h4V5h1V2.8h1V1.1h1V0zM530 0V23h1V26.4h1V33.6h1V24.5h1V29.8h1V0zM536 0V28.5h1V30.8h1V33.6h1V27.5h1V30.7h1V28.5h1V30h1V27.6h1V0zM554 0V25.8h1V28.4h1V26.2h1V23h1V28.9h1V25.3h1V28.3h1V4.1h1V28.7h1V33.6h3V23.2h1V26.1h1V26.8h1V33.5h1V33.6h3V33.3h1V0zM575 0V28.7h1V33.6h1V5h1V28.7h1V33.6h1V26.7h1V29.2h1V33.6h2V20.3h1V33.6h1V23.4h1V22.6h1V33.6h1V22.8h1V25.5h1V31.7h1V27.3h1V26.2h1V26.8h1V23.3h1V31.8h1V33.6h1V27.4h1V33.6h4V27.9h1V17.7h1V33.6h1V30.6h1V18.9h1V23h1V19.2h1V33.5h1V33.6h1V30h1V31.4h1V32.5h1V28.8h1V31h1V33.6h1V31.9h1V0zM622 0V31.7h1V33.6h2V28.3h1V31.4h1V29.7h1V29.5h1V17.8h1V32.7h1V19.5h1V27.5h1V18.4h1V19.4h1V15.7h1V23.5h1V23.1h1V26.2h1V24.1h1V30.3h1V17.3h1V25.8h1V24.2h1V33.6h2V4.5h1V33.6h2V19.9h1V33.6h1V5h1V18.6h1V0zM654 0V28h1V32.4h1V32.5h1V33.6h1V31.9h1V33.6h1V4.1h1V33.6h1V24.8h1V33.6h1V32.5h1V29.3h1V4.8h1V23.9h1V31.6h1V32.7h1V5h1V0zM672 0V26.2h1V2.5h1V19.9h1V25.3h1V27.6h1V32.5h1V33.6h1V25.8h1V33.6h1V22.4h1V33.6h2V24.6h1V3.7h1V25.6h1V27.5h1V27.9h1V26.8h1V17.6h1V33.4h1V27.8h1V20.8h1V22.8h1V23.8h1V22.8h1V20.4h1V29.4h1V28.4h1V32.5h1V27.2h1V33.6h1V28.5h1V33.6h1V31.5h1V29.9h1V4.7h1V0zM709 0V33.6h6V31.5h1V33.6h1V27.3h1V33.6h1V30.8h1V25.8h1V27.5h1V25.1h1V26.9h1V25.9h1V33.6h1V28.2h1V32.5h1V33.6h3V27.8h1V33.6h1V28.5h1V33.6h2V30.6h1V24.9h1V25.6h1V24.4h1V23.3h1V29.2h1V26.8h1V33.6h1V32.6h1V33.6h2V27.6h1V26h1V33.5h1V23.1h1V33.6h1V4.9h1V33.6h1V27.7h1V30.4h1V29.2h1V26.6h1V25.7h1V23.7h1V30.4h1V30.3h1V33.6h1V32.2h1V29.7h1V33.6h1V5h1V33.6h1V28.4h1V23.2h1V25.7h1V33.6h1V27.4h1V29.9h1V33.6h1V32h1V31.4h1V31.3h1V28.6h1V26.9h1V33.6h1V32.9h1V27.4h1V33.6h1V4.4h1V33.6h3V31.7h1V28h1V27.8h1V33.6h1V4.8h1V33.3h1V33.6h2V29.6h1V33.6h3V30.4h1V26.8h1V33.6h7V29h1V28.7h1V31.9h1V30.4h1V26h1V33.6h2V26h1V33.6h1V5h1V33.6h2V0zM822 0V33h1V26.7h1V28h1V30.4h1V5h1V29.8h1V28.2h1V25.1h1V33.3h1V25.9h1V33h2V33.6h1V27.8h1V33.6h1V32.5h1V30.1h1V26.1h1V33.6h8V33.2h1V33.6h1V32h1V32.9h1V0zM854 0V29.6h1V32h1V24.1h1V29.8h1V24.2h1V4.8h1V32.2h1V32h1V28h1V30.7h1V31.2h1V30.8h1V19.9h1V23.7h1V20.6h1V17.3h1V15.3h1V24.6h1V25.4h1V21.4h1V33.6h1V32.6h1V30.3h1V25.6h1V33.6h2V30.1h1V21.5h1V27.5h2V28.8h1V26h1V33h1V33.6h1V29.4h1V25.8h1V33.6h1V27.7h1V27h1V25.4h1V32h1V33.6h2V31.7h1V0zM902 0V25.7h1V25.5h1V25.9h1V26h1V26.9h1V28.3h1V19.9h1V19.1h1V20.3h1V21.6h1V0z" fill="#738cd0"/>
<path d="M-14 0V14.2h1V19.8h1V14h1V14.7h1V3h1V23.5h1V24.9h1V4.3h1V13h1V14.4h1V10h1V29.3h1V17h1V3.5h1V12.9h1V11.9h1V17.1h1V0zM4 0V20.9h1V11.7h1V0zM7 0V15.7h1V18.4h1V19.5h1V7.9h1V26.4h1V29.8h1V9.1h1V27.6h1V22.2h1V19.1h1V7.8h1V22.9h1V20.1h1V5.6h1V27.1h1V0zM23 0V6.9h1V13.6h1V23.4h1V0zM28 0V12.9h1V10.6h1V23.4h1V6.4h1V0zM33 0V2.5h1V15.9h1V17h1V25h1V6.2h1V22.2h2V29.1h1V23.7h1V14.7h1V15.4h1V14h1V15h1V10.4h1V3.4h1V11.3h1V5.4h1V19.5h1V12.5h1V12.3h1V11.8h1V0zM55 0V23.5h1V10h1V4.5h1V9.6h1V14.1h1V13.2h1V18.1h1V8.8h1V10.2h1V3.8h1V13.3h1V14.3h1V5h1V13.8h1V25.2h1V12.9h1V0zM72 0V16.3h1V1.2h1V11.5h1V15.8h1V0zM77 0V10h1V3.5h1V25.3h1V2.9h1V10.1h1V19h1V13h1V4h1V13.4h1V20.9h1V14.3h1V28.1h1V31h1V0zM91 0V16.7h1V25.6h1V27.4h1V5.6h1V1.1h1V2.6h1V13.1h1V13.9h1V1.2h1V29.2h1V18.6h1V20.2h1V24.6h1V14.2h1V19.4h1V20h1V26h1V15h1V11.2h1V12.2h1V8h1V14.8h1V10.2h1V6.1h1V10.4h1V0zM122 0V15.4h1V21.7h1V1.8h1V11.7h1V3.2h1V10.1h1V13.5h1V17.9h1V19.7h1V3.8h1V6.1h1V29.8h1V4.1h1V12.9h1V15.2h1V24.4h1V0zM139 0V22.4h1V3.5h1V11.9h1V6.3h1V19.1h1V13.1h1V14.5h1V14.8h1V19.4h1V8.6h1V0zM161 0V21h1V25.2h1V19.2h1V0zM171 0V20.8h1V1h1V18.8h1V18.2h1V9.3h1V0zM181 0V29.6h1V29.5h1V26.9h1V0zM185 0V4.2h1V0zM188 0V1.7h1V3.3h1V5.2h1V12.2h1V0zM193 0V10.2h1V7.7h1V4.2h1V13.2h1V18.8h1V20.4h1V10.5h1V14.9h1V30.1h1V24.5h1V15.2h1V1.3h1V23.9h1V19.1h1V16.2h1V20.9h1V16.9h1V33.6h1V33.1h1V27.1h1V33.6h1V31.1h1V32.4h1V0zM217 0V2.1h1V0zM219 0V1.8h1V13.4h1V0zM237 0V1.5h1V0zM243 0V8.1h1V0zM245 0V13.8h1V12.7h1V5.3h1V3h1V7.5h1V11.3h1V6.1h1V8.8h1V12.7h1V0zM258 0V5.5h1V0zM270 0V11h1V0zM304 0V10.3h1V0zM315 0V10.1h1V6.7h1V0zM483 0V33.6h2V27.2h1V33.6h1V32.3h1V33.6h1V33.2h1V33.6h1V29.6h1V26.9h1V28.6h1V24h1V22.9h1V0zM507 0V8.1h1V0zM510 0V13h1V14.8h1V0zM519 0V32h1V1.5h1V23.1h1V24.5h1V23.6h1V27.1h1V28.9h1V1.6h1V1.3h1V0zM530 0V5.4h1V7.6h1V14h1V3.6h1V11.7h1V0zM536 0V10.4h1V9.8h1V16.2h1V9.5h1V10.9h1V7h1V7.2h1V5h1V0zM554 0V13.1h1V13.6h1V9.1h1V8.4h1V12h1V9.6h1V13.1h1V0zM562 0V14.8h1V18.6h1V20.9h1V22.5h1V5.2h1V9.5h1V10.9h1V16.1h1V21.6h1V18.1h1V21.7h1V18h1V0zM575 0V11.1h1V22.7h1V1.3h1V16.5h1V21.1h1V12.1h1V11.2h1V33.6h1V22.5h1V9.7h1V30.6h1V12.1h1V10.2h1V24.3h1V11.5h1V16.1h1V23.4h1V20.7h1V19.4h1V18.6h1V16h1V23.3h1V32h1V21.9h1V33.6h2V32.4h1V27.2h1V18.9h1V8.9h1V29.6h1V18.3h1V8.4h1V13h1V11.8h1V26.1h1V32.9h1V18.5h1V19.1h1V23.4h1V22h1V23.2h1V27h1V23.6h1V0zM622 0V23.2h1V25.8h1V30.2h1V19h1V25.7h1V20.6h1V23.2h1V8.7h1V24.1h1V11.7h1V18.3h1V11.5h1V9.4h1V8.3h1V11.3h1V11.6h1V18.7h1V16.1h1V23.5h1V5.8h1V19.1h1V17.2h1V33.6h1V28.9h1V1.3h1V32.9h1V31.1h1V10.2h1V25h1V1.7h1V8.4h1V0zM654 0V21.6h1V24.2h1V25.4h1V25.6h1V22.5h1V33.6h1V1.1h1V33.6h1V18h1V28.9h1V22.3h1V21.8h1V1.4h1V11.5h1V21.1h1V22.5h1V1.8h1V0zM672 0V21h1V0zM674 0V9.8h1V13.9h1V16.8h1V23.5h1V31.2h1V16.3h1V30.3h1V12.1h1V26h1V33.6h1V16.1h1V0zM686 0V19.5h1V15h1V21.1h1V16.8h1V9h1V26.9h1V17.6h1V10.4h1V13.6h1V16.2h1V11.6h1V7.7h1V23h1V21.5h1V23.2h1V17.8h1V26h1V21.7h1V27.1h1V24.4h1V23.3h1V1.4h1V0zM709 0V33.6h4V32.8h1V33.6h1V26.7h1V33.6h1V21.1h1V30.6h1V27.5h1V22.2h1V25.1h1V22.4h1V23.1h1V16.9h1V31.2h1V22.6h1V29.6h1V30.4h1V30.9h1V31h1V27.4h1V29.4h1V27.1h1V33.6h1V29h1V28.4h1V22h1V22.7h1V20.4h1V18.2h1V26.1h1V21.5h1V31.8h1V28.4h1V33.6h2V22.6h1V22h1V30.7h1V18.6h1V33.6h1V1.8h1V33.6h1V23.3h1V24.4h1V26.7h1V18.9h1V20.1h1V19.1h1V27.5h1V27.4h1V30h1V30.1h1V29.1h1V33.6h1V1.8h1V33.6h1V24h1V17.7h1V23.2h1V31.6h1V19.7h1V23.3h1V30.6h1V28.6h1V24.2h1V31.1h1V22.8h1V24.8h1V29.9h1V30.1h1V22.6h1V33.6h1V1.4h1V33.6h3V30.5h1V22.7h1V23.7h1V29.9h1V1.8h1V31.3h1V28.4h1V33.6h1V24.3h1V33.6h3V28.5h1V23.5h1V31.2h1V30.9h1V29.2h1V32.6h1V31.6h1V33.6h1V28.2h1V23.8h1V26.3h1V26.5h1V23.1h1V21.1h1V33.6h2V22.5h1V33.6h1V1.9h1V31.7h1V33.6h1V0zM822 0V30.1h1V21.5h1V22.1h1V23.7h1V1.8h1V26.2h1V23.2h1V22.3h1V28.8h1V20.8h1V26.3h1V32.3h1V31.6h1V22.2h1V33.1h1V30.9h1V28.1h1V22.2h1V30.1h1V33.1h1V33.6h6V29.2h1V29.5h1V28.9h1V29h1V0zM854 0V24.5h1V23.4h1V17.3h1V21.8h1V19.4h1V1.6h1V25.1h1V22.5h1V23.3h1V23.4h1V22.5h1V23.2h1V0zM867 0V2.1h1V0zM871 0V3.6h1V6h1V3.1h1V26.9h1V25.9h1V18.4h1V15.9h1V26.6h1V28.5h1V22.2h1V13.3h1V18.8h1V18.4h1V16.8h1V18.2h1V24h1V27.1h1V18.7h1V17.9h1V24.4h1V16.4h1V18.2h1V16.9h1V24h1V24.8h1V24.6h1V20.1h1V0zM902 0V11h1V7.9h1V13.3h1V12.7h1V11h1V10.3h1V4.7h1V1.2h1V7.5h1V5.7h1V0z" fill="#1a66f5"/>
</g>
<g transform="translate(317.93 698.94) scale(3.1161 -1)">
<path d="M-13 0V32.5h2V26.5h1V30.7h1V29.5h1V30.8h1V30.5h1V31h1V28.6h1V30.8h1V30.5h1V29.2h1V30.9h1V29.5h1V30.4h1V29.1h1V29.9h1V30.6h1V31h1V29.8h1V31.5h1V29.5h1V30.5h1V30h1V31.4h1V31.2h1V31.1h1V30.7h1V31.5h1V32.5h1V30.9h1V32.1h1V6h1V6.3h1V30h1V29.3h1V30.9h1V29.7h1V29.9h1V0zM28 0V29.4h1V30.8h1V29.2h1V29.4h1V30.5h1V30.7h1V30.4h1V30.8h1V30.9h1V31.2h1V29.3h1V28.2h1V30.1h1V28.4h1V29.6h1V29.8h1V29.4h1V28.3h1V29.4h1V29.2h1V29.3h1V29h1V29.8h1V29.5h1V27.8h1V29.5h1V28.3h1V29.6h2V27.8h1V29h1V27.1h1V27.6h1V26.2h1V28.5h1V27.3h1V12.5h1V26.1h1V25.7h1V26.7h1V27.3h1V27.1h1V27.3h1V25h1V4h1V27h1V11.5h1V26.1h1V26h1V24.5h1V25.7h2V26.1h2V23.8h1V25.8h1V25.2h1V26.2h1V25.2h1V25.8h1V25.9h1V26.1h1V0zM91 0V21.7h1V22h1V23.4h1V22.7h1V21.7h1V23.5h1V4.6h1V22.9h1V21.5h1V23.9h1V7.9h1V23.5h1V21.7h1V24h1V24.6h1V23.8h1V21.9h1V24.6h1V25.2h1V23.4h1V3.8h1V22.3h1V23.2h1V24.3h1V25.6h1V0zM120 0V23.1h1V23.2h2V20.5h1V7.6h1V21.5h1V19.2h1V20.1h1V21h1V19.4h1V5.8h1V20.2h1V19.3h1V18.8h1V17.9h1V19h1V5.7h1V7.4h1V18h1V17.8h1V16.3h1V4.4h1V15.7h1V14.5h1V14.3h1V15.2h1V4.7h1V14.6h1V1h1V0zM150 0V14.5h1V15.4h1V15.6h1V14.1h1V13.3h1V14.4h1V14.2h1V13.2h1V11.8h1V12.9h1V11.4h1V10.9h1V11.1h1V11.5h1V0zM171 0V17.1h1V13.7h1V10h2V10.6h1V0zM181 0V2.3h1V2.9h1V2.8h1V1h1V1.4h1V1.9h2V10.5h1V9.9h1V11.3h1V12.3h1V11.2h1V14.3h1V12.8h1V15.2h1V12.5h1V13.3h1V13.1h1V13.2h1V14.7h1V15.2h1V17.9h1V5.3h1V9.6h1V10.5h1V12h1V14.1h1V14.9h1V7.2h1V16.2h1V16.1h1V16.2h1V14.3h1V16h1V15.3h1V0zM217 0V6h1V0zM219 0V10.8h1V1.2h1V0zM237 0V3.6h1V0zM239 0V6.7h2V.7h1V0zM245 0V7.2h1V5.8h1V5.9h1V4.6h1V4.5h1V3.9h1V3.2h2V2.1h1V0zM258 0V7.7h1V0zM270 0V13.7h1V0zM315 0V3.6h1V10.8h1V0zM483 0V.7h1V5.2h1V5.1h1V4.6h2V4.4h1V3.9h2V4.2h1V3.8h1V3.4h1V3.7h2V0zM507 0V.7h1V0zM519 0V8.3h1V8.7h1V10h1V10.9h1V11.4h1V11.9h1V13.1h1V12.8h1V6.7h1V0zM530 0V10.8h1V1.9h1V7.7h3V0zM536 0V5.3h1V1.9h1V6h1V11.4h1V11h1V11.1h1V10.8h1V10.2h1V0zM555 0V1.6h1V1.9h1V2.2h1V2.5h1V2.1h1V2.5h1V2.2h1V2.5h1V2.3h2V2h1V2.6h1V1.9h1V1.4h1V1.8h1V2.7h1V2.1h1V2.9h1V2.3h1V0zM575 0V2.9h1V2.1h1V2.7h1V3h1V3.1h1V1.9h1V1.8h1V2.4h1V7.5h1V8.6h1V7.9h1V9.6h1V8.7h1V4.8h1V3.6h1V2.4h1V1.2h1V0zM593 0V3.2h1V4.6h1V4.4h1V0zM597 0V4.8h1V5.5h1V5.9h1V7.4h1V4.4h1V4.8h1V7h1V5.1h1V7.1h1V4.6h1V7.2h1V8.4h1V7.7h1V8.3h1V0zM612 0V5h1V6.4h1V4.4h1V4.2h1V3.1h1V3.4h1V2.6h1V0zM622 0V2.1h1V3h1V4.1h1V2.3h1V3h1V2.9h1V.7h4V3.2h1V5.1h1V5.9h1V6.1h1V5.2h1V5.1h1V6.8h1V20.5h1V19.6h1V20.4h1V22.5h1V19.9h1V21.9h1V18.5h1V21.9h1V21.4h1V18.4h1V19.5h1V6h2V0zM654 0V10.1h1V18.9h1V21.9h1V0zM658 0V19.3h1V0zM660 0V18.4h1V19.3h1V20.6h1V18.3h1V17.6h1V13.2h2V22.9h2V13.2h2V0zM672 0V15.7h2V21.8h1V21h1V22.8h1V10.1h1V0zM679 0V1.2h1V22.9h1V22.3h1V21.7h1V2.5h1V2.2h1V2.8h1V18.3h1V20.4h1V22.1h1V22.4h1V11.6h1V26.5h1V32.5h2V18.1h1V32.5h1V26.5h1V14.9h1V0zM699 0V3.6h1V18.1h1V31.5h1V32.6h2V24.1h1V13.2h1V25.3h1V26h1V0zM709 0V7.1h1V7.5h1V6.7h1V5.8h1V6.1h1V5.1h1V3.9h1V4h1V3h1V3.7h1V2.8h1V3.1h1V2.9h1V2.8h1V2.4h1V2.5h1V2.4h1V2.3h1V1.7h1V5.9h1V8h1V4.9h1V6h1V8.6h1V7.1h1V5.2h1V7.1h1V5.6h1V7.9h1V6h1V6.2h1V5.3h1V7.9h1V5.4h1V7.8h1V7.6h1V5.8h1V6h2V7.9h1V7.2h1V4.4h1V7h1V6.6h1V4.4h1V4.7h1V6.3h1V6.2h1V6.4h1V5.4h1V7.2h1V8.4h1V4.5h1V8.4h1V7.3h1V5.4h1V5.9h1V7.1h1V5.6h1V7.2h1V5.4h1V8.2h1V4h1V6.7h1V7.2h1V7.4h1V4.2h1V6.3h1V5.4h1V5.6h1V5.1h1V6.6h1V5.6h1V7.8h1V6.2h1V6h1V4.8h1V5.4h1V4.2h1V3.8h1V3.9h1V3.4h1V3.7h1V1.1h1V1.5h1V5.9h1V4.7h1V5.8h1V5.7h1V5.1h1V6.5h1V5.3h1V5h1V5.7h1V4.4h1V7.1h1V4.8h1V7.3h1V5.1h1V6.2h1V5.8h1V5.3h1V7.9h1V8.1h1V6.9h1V5.9h1V6.6h1V7h1V8.2h1V9h1V6.3h1V6.2h1V0zM822 0V4.9h1V1.5h1V4.3h1V1.4h1V4.2h1V4.8h1V5h1V6.7h1V5.8h1V6.8h1V5.6h1V4.8h1V5.7h1V6.3h1V.9h1V2.1h1V1.8h1V3.8h1V5.4h1V5.2h1V4.6h1V4.7h1V5.4h1V3.2h1V4.3h1V4.2h1V4.4h1V3h1V3.6h1V.8h1V0zM855 0V2.7h1V4.2h1V2.8h1V3.9h2V3.2h1V2.7h2V4h1V3.4h1V3.2h1V3.6h1V0zM868 0V.7h4V0zM873 0V1.8h2V2.7h1V2h1V3.1h1V3.2h1V2.2h2V2.9h1V2.2h1V3.1h1V3.3h1V2.6h1V3.3h1V2.3h1V2.7h1V2.4h1V3h1V2.4h1V3.5h1V3.6h1V2h1V2.5h1V2.2h1V0zM902 0V1.6h1V2.3h1V2.5h1V1.5h1V0zM907 0V1.6h1V2.1h1V2h2V1.8h1V0z" fill="#595959"/>
</g>
</g>
<path d="M317.4 737.34v8.4M414 737.34v8.4M510.6 737.34v8.4M604.08 737.34v8.4M700.68 737.34v8.4M794.16 737.34v8.4M890.76 737.34v8.4M987.36 737.34v8.4M1077.73 737.34v8.4M1174.33 737.34v8.4M1267.81 737.34v8.4M1364.41 737.34v8.4M1457.89 737.34v8.4M1554.49 737.34v8.4M1651.09 737.34v8.4M1744.57 737.34v8.4M1841.17 737.34v8.4M1934.66 737.34v8.4M2031.26 737.34v8.4M2127.85 737.34v8.4M2215.1 737.34v8.4M2311.7 737.34v8.4M2405.19 737.34v8.4M2501.79 737.34v8.4M2595.27 737.34v8.4M2691.87 737.34v8.4M2788.47 737.34v8.4M2881.95 737.34v8.4M2978.55 737.34v8.4M3072.03 737.34v8.4M3168.63 737.34v8.4M3265.23 737.34v8.4M3352.48 737.34v8.4M3449.08 737.34v8.4M3542.56 737.34v8.4M3639.16 737.34v8.4M3732.65 737.34v8.4M3829.24 737.34v8.4M3925.84 737.34v8.4M4019.33 737.34v8.4M4115.93 737.34v8.4M4209.41 737.34v8.4M4306.01 737.34v8.4M4402.61 737.34v8.4M4489.86 737.34v8.4M4586.46 737.34v8.4M4679.94 737.34v8.4M4776.54 737.34v8.4" stroke="#3f3f3f" stroke-width="3.2" fill="none"/>
<text x="276.6" y="691.14" font-size="29.2" fill="#111" text-anchor="end" xml:space="preserve">O3  rout0p1-7</text>
<text x="4775.6" y="691.14" font-size="29.2" fill="#111" text-anchor="start">rout0p1-7</text>
<rect x="276.3" y="767.05" width="4499.5" height="74.7" fill="#f7f7f7"/>
<g clip-path="url(#axclip)">
<g transform="translate(317.93 808.15) scale(3.1161 33.6)">
<path d="M-14 0h179V1H-14zM171 0h5V1H171zM181 0h105V1H181zM287 0h39V1H287zM388 0h2V1H388zM391 0h23V1H391zM415 0h8V1H415zM471 0h26V1H471zM499 0h9V1H499zM510 0h3V1H510zM514 0h32V1H514zM547 0h2V1H547zM553 0h155V1H553zM709 0h189V1H709zM902 0h10V1H902zM1099 0h310V1H1099zM1410 0h18V1H1410z" fill="#cccccc"/>
<path d="M-14 0h178V1H-14zM171 0h2V1H171zM174 0h2V1H174zM181 0h33V1H181zM215 0h1V1H215zM217 0h1V1H217zM219 0h1V1H219zM237 0h1V1H237zM239 0h3V1H239zM243 0h4V1H243zM248 0h6V1H248zM258 0h1V1H258zM270 0h1V1H270zM304 0h1V1H304zM315 0h1V1H315zM483 0h13V1H483zM507 0h1V1H507zM510 0h2V1H510zM519 0h10V1H519zM530 0h5V1H530zM536 0h8V1H536zM554 0h20V1H554zM575 0h44V1H575zM622 0h31V1H622zM654 0h17V1H654zM672 0h36V1H672zM709 0h76V1H709zM786 0h2V1H786zM789 0h32V1H789zM822 0h30V1H822zM854 0h44V1H854zM902 0h10V1H902zM1101 0h64V1H1101zM1167 0h10V1H1167zM1179 0h5V1H1179zM1185 0h3V1H1185zM1189 0h30V1H1189zM1220 0h49V1H1220zM1270 0h10V1H1270zM1281 0h8V1H1281zM1290 0h6V1H1290zM1297 0h2V1H1297zM1301 0h4V1H1301zM1306 0h1V1H1306zM1308 0h18V1H1308zM1327 0h18V1H1327zM1346 0h4V1H1346zM1352 0h6V1H1352zM1359 0h18V1H1359zM1381 0h1V1H1381zM1383 0h1V1H1383zM1385 0h9V1H1385zM1395 0h3V1H1395zM1399 0h9V1H1399zM1410 0h9V1H1410zM1420 0h4V1H1420z" fill="#9999b5"/>
</g>
<g transform="translate(317.93 841.75) scale(3.1161 -1)">
<path d="M-14 0V15h1V22.2h1V15.1h1V14.9h1V5.8h1V23.8h1V24.7h1V5.9h1V12.1h1V15.3h1V10.8h1V27.8h1V19.8h1V5.5h1V15.1h1V12.7h1V18.4h1V3.6h1V22.3h1V14.9h1V1.7h1V18.2h1V18.3h1V18.6h1V8.1h1V27.8h1V29.2h1V9.9h1V27.3h1V22.1h1V17.7h1V9.7h1V23.4h1V20.8h1V7.5h1V25.5h1V0zM23 0V7h1V13.6h1V24.2h1V14.8h1V13.9h1V14.1h1V11.6h1V24.6h1V7.3h1V5.3h1V5.1h1V17.4h1V15.7h1V26.5h1V6.7h1V21.5h1V23.6h1V30h1V22.5h1V13.2h1V16.2h1V13.4h1V15.3h1V9.8h1V3.3h1V11h1V6.3h1V20.2h1V12.9h1V13.8h1V12.3h1V3.1h1V23.6h1V13.8h1V5h1V9.7h1V15.6h1V14h1V17.4h1V11.3h1V14.1h1V5h1V17.9h1V16.3h1V9.7h1V14.4h1V26h1V14.5h1V5.3h1V17.3h1V2.9h1V12.1h1V15.4h1V1.5h1V13.9h1V4h1V25.5h1V7.8h1V11.7h1V19.9h1V14.1h1V8.1h1V16h1V23.6h1V14.3h1V28.3h1V28.5h1V20.4h1V15.9h1V25.1h1V26.5h1V6.5h1V5.9h1V2.8h1V14h1V15.3h1V3.3h1V29.3h1V18.5h1V20.8h1V26.6h1V12.5h1V20.9h1V19.5h1V26.8h1V18.5h1V11.3h1V14.8h1V9.8h1V13.7h1V13.6h1V10.6h1V13.4h1V4.8h1V9.1h1V16.3h1V13.1h1V0zM122 0V17.2h1V21.1h1V5.8h1V13.2h1V5.7h1V10.7h1V16h1V21h1V21.4h1V8.7h1V10.5h1V27.8h1V7.5h1V15.4h1V16h1V25.3h1V3h1V23.5h1V4.4h1V13.4h1V10.6h1V19.2h1V15h1V15.4h1V0zM161 0V11.8h1V13.2h1V8.1h1V0zM171 0V17.6h1V2h1V0zM174 0V11.6h1V8h1V0zM181 0V30.1h1V33.6h1V31h1V2.5h1V12.1h1V0zM187 0V4.2h1V7.4h1V12.7h1V14.1h1V23.7h1V2.7h1V19h1V13.2h1V15h1V20.1h1V13h1V13.2h1V7.2h1V7.6h1V21.8h1V21.7h1V13.6h1V1.9h1V18.6h1V13.2h1V11.8h1V14.2h1V10h1V26.3h1V26.2h1V19.6h1V27.2h1V0zM215 0V22.6h1V0zM217 0V11.2h1V0zM219 0V10h1V0zM237 0V7.2h1V0zM240 0V7.7h1V6.3h1V0zM243 0V13.2h1V8.9h1V18.8h1V18.4h1V0zM248 0V13.1h1V13h1V15.9h1V13h1V13.8h1V17.1h1V0zM258 0V12.5h1V0zM270 0V18.5h1V0zM304 0V16.5h1V0zM315 0V17.1h1V0zM483 0V33.6h2V30.7h1V33.6h1V32.1h1V33.6h1V32.6h1V33.6h1V31.9h1V31.8h1V29.7h1V26.8h1V27.2h1V0zM507 0V7.8h1V0zM510 0V14h2V0zM519 0V33.6h1V4.3h1V28.4h1V30.6h1V30.8h1V32.3h2V4.5h1V2.2h1V0zM530 0V11.5h1V12.4h1V20.1h1V9.7h1V16h1V0zM536 0V17.1h1V16.9h1V22.2h1V17.1h1V18.9h1V14.9h2V12.8h1V0zM554 0V16.8h1V17.1h1V10.2h1V12.4h1V14.5h1V15.7h1V15.9h1V2.6h1V18.3h1V24h1V22.6h1V25.7h1V10.5h1V12.6h1V15.7h1V18.3h1V23.2h1V21.7h1V23.3h1V21.9h1V0zM575 0V18h1V26.2h1V3.6h1V20.1h1V24.1h1V13.8h1V15.5h1V28.1h1V18.7h1V8.2h1V23.3h1V10.7h1V7h1V21.7h1V11.2h1V11.7h1V17.6h1V17.7h1V16.1h1V17.9h1V11.9h1V18.7h1V27.6h1V18.7h1V32.7h1V30.6h1V26.8h1V23h1V14.2h1V7.5h1V25h1V16.8h1V8.2h2V7.6h1V21.1h1V27.2h1V16.1h1V18.8h1V18h1V18.8h1V21.3h1V23.3h1V18h1V0zM622 0V18.9h1V21.3h1V27.3h1V19h1V21.3h1V16.7h1V18.1h1V8.4h1V19.2h1V9.5h1V18.5h1V9.1h1V6.4h1V6.1h1V8.5h1V12.6h1V15.3h1V13.2h1V19.8h1V5h1V14.4h1V13.4h1V29.2h1V26.1h1V2.9h1V28.6h1V28.4h1V8.3h1V22.5h1V3.9h1V5.7h1V0zM654 0V20h1V17.6h1V21.1h1V20.7h1V19.9h1V29h1V2.9h1V29h1V16.5h1V22.7h1V20.1h1V17.2h1V2.7h1V10.4h1V16.5h1V18.1h1V3.6h1V0zM672 0V18h1V0zM674 0V9.3h1V10.8h1V14.6h1V18.3h1V26.9h1V12.9h1V24.9h1V11.8h1V21.7h1V28.7h1V15.9h1V2.3h1V17.3h1V11.4h1V16.9h1V14.6h1V6.1h1V25.6h1V13.7h1V11.1h1V11.4h1V14.1h1V9.7h1V6.7h1V17.5h1V16.1h1V18.3h1V15h1V19.1h1V20.4h1V24.6h1V19.1h1V21.1h1V2.8h1V0zM709 0V33.6h1V31.7h1V32.7h1V33.6h1V27.8h1V27.1h1V21.3h1V29.6h1V15h1V22.4h1V21.9h1V14.1h1V21h1V17.8h1V18.8h1V14.5h1V27.7h1V17.1h1V22.8h1V24.2h1V26.1h1V22.6h1V19h1V26.3h1V20h1V31.4h1V21.7h1V21h1V16.3h1V15.5h1V13h1V11.2h1V21.4h1V14.8h1V25.2h1V23h1V33.6h1V30.9h1V18.7h1V16h1V24.2h1V14.6h1V28.1h1V3.4h1V26.3h1V19.6h1V19.9h1V20.9h1V14.5h1V14.4h1V11.9h1V22.8h1V20.7h1V23.2h1V23.6h1V22.7h1V29.3h1V3.7h1V29.5h1V18.9h1V10.9h1V15.5h1V21.9h1V15.4h1V15.6h1V26.6h1V21.4h1V19.5h1V22.9h1V18h1V15.8h1V26.3h1V23.2h1V17.5h1V33.6h1V3h1V0zM786 0V33.6h1V32.7h1V0zM789 0V17.6h1V20.1h1V25.6h1V3.8h1V27.3h1V25.8h1V33.6h1V21.5h1V30.3h1V33.6h1V29.3h1V22h1V18.3h1V24h1V27h1V27.8h1V27.5h1V25.2h1V33.6h1V23h1V15.6h1V21.1h1V20.7h1V17h1V14.8h1V29.2h1V29.4h1V17.6h1V28.8h1V4h1V28.6h1V33.6h1V0zM822 0V25.5h1V15.1h1V14h1V19.1h1V4.3h1V21.3h1V15.2h1V15.4h1V26.6h1V14.5h1V19.3h1V27h1V25.8h1V15.6h1V30.5h1V25.6h1V21h1V18.3h1V22.6h1V27.6h1V33.6h1V31.9h1V33.6h1V30.2h1V33.6h1V32.6h1V27.1h1V25.4h1V25.7h1V27h1V0zM854 0V19.7h1V22.8h1V12.6h1V20.4h1V15.9h1V4.1h1V22.9h1V19.6h1V21.9h1V21.1h1V20.9h1V24h1V8.4h1V9.4h1V7.7h1V3h1V4h1V10h1V9.4h1V9.3h1V24.6h1V25.7h1V16.2h1V16.3h1V25.7h1V26.1h1V21.8h1V10.8h1V19.3h1V16.2h1V16.9h1V17h1V22.7h1V25.6h1V19.2h1V16.5h1V22.6h1V16.3h1V18.2h1V14.9h1V22.2h1V26.8h1V22.6h1V21.7h1V0zM902 0V7.7h1V7.5h1V9.7h1V9h1V8.5h1V11.5h1V3.2h1V4h1V6.1h1V4.9h1V0zM1101 0V30.4h1V28.2h1V33.6h1V32.2h1V33.6h4V5h1V17.7h1V33.6h2V18.4h1V29.3h1V12.2h1V16.6h1V31.8h1V21h2V30.9h1V28.3h1V33.6h1V26.9h1V24.1h1V33.6h1V3.9h1V16.2h1V9.3h1V10.1h1V9.1h1V19.2h1V33.6h2V15.8h1V21.2h1V24.8h1V33.6h2V16.5h1V26.4h1V30.5h1V29.1h1V18.5h1V17.9h1V33.6h4V20.2h1V28.3h1V30h1V32.4h1V33.6h1V28.4h1V33.6h2V26.1h1V26.3h1V33.6h2V20.8h1V33.6h1V13h1V17.2h1V0zM1167 0V29.9h1V3.4h1V16.4h1V8.8h1V33.6h2V19.5h1V14.7h1V33.6h1V29.7h1V0zM1179 0V3.3h1V33.6h1V26.5h1V33.6h1V11.9h1V0zM1185 0V19.7h1V27.5h1V33.6h1V0zM1189 0V33.6h1V17h1V27.7h1V33.6h2V27.7h1V29.3h1V33.6h1V24.5h1V30.9h1V33.6h3V13.4h1V8.1h1V21.4h1V23h1V23.2h1V16.2h1V12.6h1V5h1V33.6h2V29.8h1V14.2h1V31.4h1V33.6h1V21.1h1V28.6h1V22.5h1V0zM1220 0V25h1V26h1V23h1V33.6h1V24.7h1V29.6h1V21.5h1V33.6h1V20.7h1V23.2h1V16.5h1V26.7h1V33.6h1V20.4h1V24h1V33.6h4V23.9h1V23.3h1V18.4h1V5h1V26.6h1V33.6h2V11.5h1V22.1h1V10h1V22h1V26.5h1V29.5h1V8.3h1V8h1V31.2h1V26.5h1V22.4h1V26.3h1V7.1h1V25.8h1V20.8h1V30.9h1V20.6h1V29.5h1V15.2h1V10.7h1V12.1h1V33.3h1V16.5h1V0zM1270 0V25.9h1V16.7h1V30.5h1V22.3h1V21.5h1V33.6h2V26.3h1V29.6h1V32.8h1V0zM1281 0V33.6h1V10.7h1V25.3h1V21.5h1V33.6h1V6.5h1V12.5h1V15.8h1V0zM1290 0V21.4h1V8h1V21.7h1V25.5h1V21.9h1V22.7h1V0zM1297 0V20.5h1V18.5h1V0zM1301 0V33.6h1V32h1V33.2h1V14.5h1V0zM1306 0V25.5h1V0zM1308 0V27.6h1V20.9h1V6.9h1V2.4h1V9.9h1V24.9h1V33.6h1V13.6h1V17.7h1V18.2h1V29.5h1V28.6h1V33.6h3V32.4h1V27.2h1V23.4h1V0zM1327 0V3.5h1V29.8h1V27.5h1V33.6h1V21.3h1V33.6h2V32.1h1V23.2h1V5h1V21.9h1V19.1h1V15.7h1V14.5h1V30.2h1V18.1h1V27h1V16.8h1V0zM1346 0V30.9h1V33.6h3V0zM1352 0V31.2h1V28.9h1V28.4h1V33.6h1V31.2h1V33.6h1V0zM1359 0V14.4h1V21.2h1V22.3h1V32.3h1V25.8h1V29.3h1V20.3h1V14.2h1V18.5h1V22.3h1V33.6h2V4.4h1V33.6h1V33h1V33.6h1V17.6h1V21.5h1V0zM1381 0V24.3h1V0zM1383 0V18.2h1V0zM1385 0V29.8h1V33.6h1V26.7h1V30.4h1V13.2h1V17.3h1V33.6h1V22.5h1V31.5h1V0zM1395 0V3.3h1V20.8h1V25.8h1V0zM1399 0V20.6h1V27.3h1V20.4h1V23.6h1V17h1V15.8h1V9.1h1V22.9h1V33.6h1V0zM1410 0V20.7h1V4.8h1V33.6h1V24.5h1V9.1h1V11.5h1V21.6h1V19.2h1V33.6h1V0zM1420 0V30.9h1V27.8h1V8.5h2V0z" fill="#738cd0"/>
<path d="M-14 0V14.4h1V19.1h1V12.3h1V13.7h1V1.7h1V23.8h1V24.1h1V2h1V12.1h1V12.6h1V7.9h1V27.3h1V16.3h1V3.4h1V13h1V9.6h1V14.3h1V0zM4 0V19.6h1V12.6h1V0zM7 0V16.9h1V18h1V16.3h1V8.1h1V27.8h1V27h1V7.5h1V26.2h1V22.1h1V17.7h1V7.1h1V20.5h1V20.8h1V4.4h1V24.9h1V0zM23 0V5h1V12.2h1V23.6h1V14.8h1V11.6h1V13.4h1V11.6h1V23.5h1V6.1h1V0zM33 0V2.3h1V16.6h1V15.7h1V24.1h1V4.5h1V21.5h1V23.6h1V30h1V20.4h1V11.2h1V14.3h1V12.5h1V13.9h1V7.4h1V2.8h1V10.4h1V6.2h1V17.2h1V11.3h2V12.3h1V0zM55 0V20.8h1V9.6h1V2.5h1V8.7h1V15.6h1V10.2h1V16.3h1V7.4h1V10.8h1V2.8h1V13.9h1V14.2h1V6.3h1V11.3h1V26h1V12.9h1V2.5h1V17.1h1V1.1h1V10.4h1V15.4h1V0zM77 0V10.3h1V2.8h1V25.5h1V3.7h1V11.7h1V19.9h1V11.4h1V2.6h1V13.8h1V22.4h1V14.3h1V28.3h1V28.5h1V20.2h1V15.3h1V25.1h1V26.5h1V5.3h1V1.5h1V0zM97 0V12.6h1V11.7h1V1.2h1V27.6h1V18.3h1V20.8h1V26.6h1V11.5h1V20.5h1V17.2h1V26.2h1V15.5h1V11.2h1V11.5h1V8.3h1V12.8h1V10.5h1V5.3h1V8.8h1V3.4h1V6.1h1V15.9h1V12.7h1V0zM122 0V15.8h1V19.2h1V1.2h1V9.9h1V1.9h1V10.1h1V14.8h1V18.8h1V21.4h1V2.2h1V5.4h1V27.8h1V6.5h1V12.7h1V13.1h1V25.3h1V0zM139 0V22.5h1V1.2h1V11.5h1V5.2h1V18.2h1V15h1V13.9h1V0zM161 0V10.1h1V10.4h1V3.8h1V0zM171 0V12.2h1V0zM174 0V9.7h1V2.7h1V0zM181 0V28.5h1V32.2h1V26.3h1V0zM185 0V1.6h1V0zM189 0V5.5h1V6.1h1V18.8h1V0zM193 0V11.3h1V10h1V7.6h1V18.8h1V6.7h1V8.6h1V0zM200 0V4.1h1V20.6h1V14h1V5.6h1V0zM205 0V15h1V6.2h1V5h1V7.4h1V6.5h1V21.6h1V18.9h1V12.9h1V21h1V0zM215 0V18.7h1V0zM243 0V4.4h1V0zM245 0V9h1V7.3h1V0zM249 0V3.1h1V8.5h1V4h1V5.8h1V11h1V0zM258 0V4.5h1V0zM270 0V7.4h1V0zM304 0V8.1h1V0zM315 0V8h1V0zM483 0V33.6h2V26.7h1V33.6h1V29.5h1V33.6h1V32.4h1V33.6h1V29.3h1V28.7h1V29h1V24h1V22.4h1V0zM510 0V8.4h1V7.8h1V0zM519 0V28.6h1V1.4h1V17.9h1V20h1V22.7h1V25h1V25.9h1V1.3h1V1.6h1V0zM531 0V3.5h1V9.7h1V0zM534 0V6.2h1V0zM536 0V3.4h1V4.9h1V14.9h1V5.4h1V4.4h1V1.4h1V2.5h1V0zM554 0V6.7h1V8.4h1V0zM557 0V1.4h1V5.6h1V5.4h1V9h1V0zM562 0V10.2h1V16.3h1V14.8h1V18.5h1V0zM567 0V2.7h1V5.9h1V12.3h1V17.8h1V14h1V18.2h1V16h1V0zM575 0V7.5h1V18.1h1V1.1h1V11.5h1V17.8h1V8h1V5.5h1V27.9h1V16.1h1V1.5h1V22.3h1V4.6h1V4.7h1V17h1V3.9h1V8.1h1V15.1h1V14.6h1V10.8h1V12.9h1V10h1V14.6h1V25.5h1V14h1V30.9h1V29.7h1V24.5h1V21.8h1V12.8h1V0zM605 0V22.4h1V11.4h1V1.5h1V6.3h1V1.8h1V16.3h1V24.5h1V12.5h1V15.5h1V14.1h1V16.1h1V18.4h1V19.8h1V16.7h1V0zM622 0V17.2h1V19.4h1V22.6h1V14.7h1V16.3h1V14.9h1V15.6h1V2.2h1V15.7h1V2.2h1V13.2h1V3.1h1V2.3h1V0zM636 0V7h1V7.6h1V10.7h1V9.4h1V15.6h1V0zM642 0V10.2h1V8.3h1V25.7h1V21.6h1V0zM647 0V28.6h1V24.9h1V5h1V19.4h1V1.4h1V2.7h1V0zM654 0V13.6h1V17.6h1V18.5h1V16.6h1V14.8h1V28.5h1V0zM661 0V29h1V12.2h1V21h1V14.7h1V16.2h1V0zM667 0V6.2h1V15.7h1V16h1V1.3h1V0zM672 0V13.3h1V0zM674 0V1.5h1V7.1h1V10h1V17.2h1V22.2h1V6.3h1V21.1h1V4.6h1V21.6h1V28.7h1V8.6h1V0zM686 0V11.9h1V7.8h1V11.3h1V9.6h1V2h1V20.2h1V10h1V5.1h1V6.3h1V10.7h1V3.5h1V2.5h1V16.8h1V13.5h1V16.6h1V11.2h1V18h1V13.6h1V21.1h1V15h1V14.9h1V0zM709 0V31.1h1V31.5h1V32.7h1V33.6h1V24.5h1V27.1h1V18h1V29.6h1V10.6h1V21.6h1V19.3h1V12.1h1V17.9h1V14.2h1V14.8h1V8.2h1V25.8h1V13.9h1V22.8h1V21.2h1V22.8h1V21.8h1V17.1h1V23.7h1V16.8h1V31.4h1V21.7h1V20.5h1V13.9h1V14.1h1V7.4h1V8.1h1V17.5h1V12.7h1V25.2h1V22h1V33.6h1V29.9h1V12.6h1V12.1h1V20.7h1V8.7h1V26.5h1V1.2h1V26.3h1V13.3h1V16.5h1V19.6h1V8.5h1V8.6h1V10.9h1V17.9h1V20.1h1V21.8h1V22.1h1V20.7h1V26.8h1V1.3h1V27.7h1V13.7h1V7.8h1V11.7h1V21.3h1V10.8h1V15.6h1V23.6h1V20.5h1V16h1V22.9h1V15h1V13.3h1V26h1V22.7h1V13.7h1V33.6h1V0zM786 0V33.6h1V31.2h1V0zM789 0V11.2h1V16h1V24.6h1V1.4h1V23.8h1V21.5h1V33.6h1V15.9h1V30.2h1V33.6h1V28h1V19.5h1V16.2h1V24h1V25.2h1V23.7h1V24.8h1V24.3h1V33.1h1V23h1V15.6h1V17.5h1V20.1h1V16.8h1V9.9h1V29.2h1V29.4h1V13.6h1V27.6h1V1.4h1V27.2h1V33.6h1V0zM822 0V25.5h1V12.1h1V14h1V14.5h1V1.4h1V18.2h1V13.8h1V13.5h1V21.9h1V12.1h1V18.4h1V24.4h1V25.8h1V13.1h1V27.9h1V25.1h1V19.7h1V15.8h1V20.9h1V27.6h1V33.6h1V31.1h1V33.6h1V29.6h1V33.6h1V32.6h1V24.3h1V24.6h1V24.8h1V23.6h1V0zM854 0V19.7h1V21.6h1V9.3h1V17.4h1V12.6h1V1.5h1V22h1V18.8h1V19.8h1V16.8h1V19.1h1V21.3h1V0zM867 0V3.1h1V0zM872 0V2.2h1V1.3h1V22.7h1V19.3h1V11.1h1V11h1V20.6h1V22.4h1V13.7h1V6.4h1V11.5h1V10.2h1V10h1V11h1V16h1V21.6h1V13.1h1V10.7h1V15.9h1V9.2h1V9.6h1V9h1V18.6h1V20.1h1V17.1h1V15.5h1V0zM902 0V3.8h1V6h1V6.1h1V6.4h1V8.1h1V7.4h1V0zM1101 0V30.4h1V28.2h1V33.6h1V32.2h1V33.6h4V2h1V15.1h1V33.6h2V13.1h1V26.2h1V11h1V14.9h1V27.9h1V18h1V19.5h1V30.4h1V27.3h1V33.6h1V21.5h1V23.3h1V33.6h1V1.5h1V14.1h1V6h1V7.1h1V6.1h1V14.1h1V33.6h1V33.4h1V14.3h1V20h1V23.4h1V33.6h2V13.5h1V26.4h1V30.1h1V27.3h1V18.4h1V14.3h1V33.6h4V18.1h1V27.9h1V28.2h1V32.4h1V33.6h1V27.9h1V33.6h2V26.1h1V26.3h1V33.6h2V20.8h1V33.6h1V10.3h1V12.5h1V0zM1167 0V25.6h1V1.3h1V14.4h1V5.2h1V33.6h2V18.9h1V12h1V33.6h1V25.8h1V0zM1179 0V1.4h1V33.6h1V26.3h1V32.3h1V8.7h1V0zM1185 0V18h1V22.9h1V33.6h1V0zM1189 0V33.6h1V16h1V26.3h1V33.6h2V27.7h1V29.3h1V33.6h1V20.8h1V30h1V33.6h3V13.3h1V3.4h1V17.5h1V21.6h1V21.2h1V12.4h1V6.6h1V2h1V33.6h2V29.8h1V12.3h1V31.4h1V33.6h1V21.1h1V26.4h1V20.6h1V0zM1220 0V23.2h1V25.5h1V18.3h1V33.6h1V24.4h1V26.1h1V19.2h1V33.6h1V16.8h1V19.6h1V11h1V26.7h1V33.6h1V15.2h1V21.9h1V33.6h4V23.9h1V17.5h1V18.2h1V2h1V22.9h1V33.6h1V33.5h1V8.2h1V19.9h1V7.7h1V21.5h1V24.4h1V25h1V5.4h1V3.5h1V31.2h1V24.5h1V20.4h1V24.1h1V3.5h1V23.7h1V15.1h1V28.6h1V20.1h1V26.5h1V15.2h1V8.7h1V10.4h1V29.7h1V15.9h1V0zM1270 0V23h1V11.1h1V30.5h1V22.3h1V19.7h1V32.7h1V33.6h1V25h1V27.6h1V31.1h1V0zM1281 0V33.6h1V4.8h1V24.5h1V18.4h1V33.6h1V5.2h1V8.3h1V12.9h1V0zM1290 0V21.4h1V3.7h1V21.7h1V24.4h1V17.8h1V20.2h1V0zM1297 0V17.7h1V17.9h1V0zM1301 0V33.6h1V32h1V33.2h1V12.5h1V0zM1306 0V23.7h1V0zM1308 0V27.6h1V18.2h1V3h1V0zM1312 0V4.7h1V22.8h1V33.6h1V8h1V17h1V15.9h1V29.4h1V28.6h1V33.6h2V33h1V32.4h1V25.3h1V20.6h1V0zM1327 0V1.1h1V25.5h1V24.6h1V33.6h1V21.3h1V33.6h2V32h1V23.2h1V2h1V19.7h1V15h1V12.4h1V13.2h1V30.2h1V13.5h1V26.2h1V11.1h1V0zM1346 0V30.6h1V33.6h3V0zM1352 0V31.2h1V27.7h1V28.4h1V33.6h1V30.9h1V33.6h1V0zM1359 0V10.3h1V17.7h1V18.9h1V32h1V22.1h1V27.2h1V20.3h1V10.9h1V17.4h1V18.7h1V33.6h1V32h1V1.6h1V33.6h1V30.4h1V33.6h1V17.1h1V19.7h1V0zM1381 0V22.8h1V0zM1383 0V15.6h1V0zM1385 0V28.1h1V33.6h1V26h1V30.3h1V8.3h1V12.2h1V33.6h1V22.1h1V31h1V0zM1395 0V1.2h1V17.5h1V24.8h1V0zM1399 0V17.2h1V27.3h1V17.4h1V23.6h1V13.6h1V15.8h1V7.3h1V22.2h1V33.6h1V0zM1410 0V20.7h1V2h1V33.6h1V24.5h1V4.4h1V8.1h1V17.9h1V18.3h1V33.6h1V0zM1420 0V28.6h1V24.3h1V6.8h1V4h1V0z" fill="#1a66f5"/>
</g>
<g transform="translate(317.93 803.95) scale(3.1161 -1)">
<path d="M-13 0V32.5h2V26.5h1V30.7h1V29.5h1V30.8h1V30.5h1V31h1V28.6h1V30.8h1V30.5h1V29.2h1V30.9h1V29.5h1V30.4h1V29.1h1V29.9h1V30.6h1V31h1V29.8h1V31.5h1V29.5h1V30.5h1V30h1V31.4h1V31.2h1V31.1h1V30.7h1V31.5h1V32.5h1V30.9h1V32.1h1V6h1V6.3h1V30h1V29.3h1V30.9h1V29.7h1V29.9h1V31.8h1V29.3h1V29.4h1V30.8h1V29.2h1V29.4h1V30.5h1V30.7h1V30.4h1V30.8h1V30.9h1V31.2h1V29.3h1V28.2h1V30.1h1V28.4h1V29.6h1V29.8h1V29.4h1V28.3h1V29.4h1V29.2h1V29.3h1V29h1V29.8h1V29.5h1V27.8h1V29.5h1V28.3h1V29.6h2V27.8h1V29h1V27.1h1V27.6h1V26.2h1V28.5h1V9.4h1V12.5h1V26.1h1V25.7h1V11.6h1V27.3h1V27.1h1V27.3h1V25h1V4h1V27h1V11.5h1V26.1h1V26h1V24.5h1V25.7h2V26.1h2V23.8h1V25.8h1V10.7h1V26.2h1V25.2h1V11.1h1V25.9h1V26.1h1V7.7h1V21.7h1V22h1V23.4h1V22.7h1V21.7h1V23.5h1V4.6h1V9.9h1V21.5h1V23.9h1V7.9h1V23.5h1V21.7h1V24h1V24.6h1V23.8h1V21.9h1V24.6h1V25.2h1V23.4h1V3.8h1V1.2h1V23.2h1V24.3h1V25.6h1V23.4h1V23.2h1V21.8h1V22.1h1V23.1h1V23.2h2V20.5h1V7.6h1V21.5h1V19.2h1V20.1h1V21h1V19.4h1V5.8h1V20.2h1V3.7h1V4.1h1V17.9h1V19h1V5.7h1V7.4h1V18h1V17.8h1V16.3h1V4.4h1V15.7h1V14.5h1V14.3h1V15.2h1V4.7h1V14.6h1V1h1V15h1V14.5h1V15.4h1V15.6h1V14.1h1V13.3h1V14.4h1V14.2h1V13.2h1V11.8h1V12.9h1V11.4h1V10.9h1V11.1h1V11.5h1V0zM171 0V17.1h1V13.7h1V0zM174 0V10h1V10.6h1V0zM181 0V2.3h1V2.9h1V2.8h1V1h1V1.4h1V1.9h2V10.5h1V9.9h1V11.3h1V12.3h1V11.2h1V14.3h1V12.8h1V15.2h1V12.5h1V13.3h1V13.1h1V13.2h1V14.7h1V15.2h1V17.9h1V5.3h1V9.6h1V10.5h1V12h1V14.1h1V14.9h1V7.2h1V16.2h1V16.1h1V16.2h1V14.3h1V0zM215 0V1.4h1V0zM217 0V6h1V0zM219 0V10.8h1V0zM237 0V3.6h1V0zM239 0V6.7h2V.7h1V0zM245 0V7.2h1V5.8h1V0zM248 0V4.6h1V4.5h1V3.9h1V3.2h2V2.1h1V0zM258 0V7.7h1V0zM270 0V13.7h1V0zM315 0V3.6h1V0zM483 0V.7h1V5.2h1V5.1h1V4.6h2V4.4h1V3.9h2V4.2h1V3.8h1V3.4h1V3.7h2V0zM507 0V.7h1V0zM519 0V8.3h1V8.7h1V10h1V10.9h1V11.4h1V11.9h1V13.1h1V12.8h1V6.7h1V0zM530 0V10.8h1V1.9h1V7.7h3V0zM536 0V5.3h1V1.9h1V6h1V11.4h1V11h1V11.1h1V10.8h1V10.2h1V0zM555 0V1.6h1V1.9h1V2.2h1V2.5h1V2.1h1V2.5h1V2.2h1V2.5h1V2.3h2V2h1V2.6h1V1.9h1V1.4h1V1.8h1V2.7h1V2.1h1V2.9h1V2.3h1V0zM575 0V2.9h1V2.1h1V2.7h1V3h1V3.1h1V1.9h1V1.8h1V2.4h1V7.5h1V8.6h1V7.9h1V9.6h1V8.7h1V4.8h1V3.6h1V2.4h1V1.2h1V0zM593 0V3.2h1V4.6h1V4.4h1V0zM597 0V4.8h1V5.5h1V5.9h1V7.4h1V4.4h1V4.8h1V7h1V5.1h1V7.1h1V4.6h1V7.2h1V8.4h1V7.7h1V8.3h1V0zM612 0V5h1V6.4h1V4.4h1V4.2h1V3.1h1V3.4h1V2.6h1V0zM622 0V2.1h1V3h1V4.1h1V2.3h1V3h1V2.9h1V.7h4V3.2h1V5.1h1V5.9h1V6.1h1V5.2h1V5.1h1V6.8h1V20.5h1V19.6h1V20.4h1V22.5h1V19.9h1V21.9h1V18.5h1V21.9h1V21.4h1V18.4h1V19.5h1V6h2V0zM654 0V10.1h1V18.9h1V21.9h1V0zM658 0V19.3h1V0zM660 0V18.4h1V19.3h1V20.6h1V18.3h1V17.6h1V13.2h2V22.9h2V13.2h2V0zM672 0V15.7h2V21.8h1V21h1V22.8h1V10.1h1V0zM679 0V1.2h1V22.9h1V22.3h1V21.7h1V2.5h1V2.2h1V2.8h1V18.3h1V20.4h1V22.1h1V22.4h1V11.6h1V26.5h1V32.5h2V18.1h1V32.5h1V26.5h1V14.9h1V0zM699 0V3.6h1V18.1h1V31.5h1V32.6h2V24.1h1V13.2h1V25.3h1V26h1V0zM709 0V7.1h1V7.5h1V6.7h1V5.8h1V6.1h1V5.1h1V3.9h1V4h1V3h1V3.7h1V2.8h1V3.1h1V2.9h1V2.8h1V2.4h1V2.5h1V2.4h1V2.3h1V1.7h1V5.9h1V8h1V4.9h1V6h1V8.6h1V7.1h1V5.2h1V7.1h1V5.6h1V7.9h1V6h1V6.2h1V5.3h1V7.9h1V5.4h1V7.8h1V7.6h1V5.8h1V6h2V7.9h1V7.2h1V4.4h1V7h1V6.6h1V4.4h1V4.7h1V6.3h1V6.2h1V6.4h1V5.4h1V7.2h1V8.4h1V4.5h1V8.4h1V7.3h1V5.4h1V5.9h1V7.1h1V5.6h1V7.2h1V5.4h1V8.2h1V4h1V6.7h1V7.2h1V7.4h1V4.2h1V6.3h1V5.4h1V5.6h1V5.1h1V6.6h1V5.6h1V7.8h1V6.2h1V6h1V0zM786 0V5.4h1V4.2h1V0zM789 0V3.9h1V3.4h1V3.7h1V1.1h1V1.5h1V5.9h1V4.7h1V5.8h1V5.7h1V5.1h1V6.5h1V5.3h1V5h1V5.7h1V4.4h1V7.1h1V4.8h1V7.3h1V5.1h1V6.2h1V5.8h1V5.3h1V7.9h1V8.1h1V6.9h1V5.9h1V6.6h1V7h1V8.2h1V9h1V6.3h1V6.2h1V0zM822 0V4.9h1V1.5h1V4.3h1V1.4h1V4.2h1V1.6h1V5h1V.4h1V5.8h1V6.8h1V5.6h1V4.8h1V5.7h1V6.3h1V.9h1V2.1h1V1.8h1V.8h1V5.4h1V5.2h1V4.6h1V4.7h1V1.4h1V3.2h1V1.3h1V4.2h1V4.4h1V3h1V3.6h1V.8h1V0zM855 0V2.7h1V4.2h1V2.8h1V3.9h2V3.2h1V2.7h2V4h1V3.4h1V3.2h1V3.6h1V0zM868 0V.7h4V0zM873 0V1.8h2V2.7h1V2h1V3.1h1V3.2h1V2.2h2V2.9h1V2.2h1V3.1h1V3.3h1V2.6h1V3.3h1V2.3h1V2.7h1V2.4h1V3h1V2.4h1V3.5h1V3.6h1V2h1V2.5h1V2.2h1V0zM902 0V1.6h1V2.3h1V2.5h1V1.5h1V0zM907 0V1.6h1V2.1h1V2h2V1.8h1V0zM1101 0V8.1h1V7.6h1V4h1V9.8h1V6.2h1V2h1V9.7h1V7h1V1.1h1V6.6h1V7.6h1V2.7h1V4.1h1V6.9h1V6.6h1V4h1V9.1h1V6.7h1V3.7h1V1.5h1V9.1h1V9.2h1V.8h1V4.9h1V7.1h1V9.6h1V2h1V6h1V6.7h1V2.2h1V6.3h1V1h1V8.5h1V3.1h1V5.3h1V8.6h1V7.1h1V6.5h1V5.2h1V5.4h1V8.2h1V5.4h1V3.2h1V3h1V5.4h1V8h1V6.3h1V6.1h1V4.4h1V8.9h1V3.3h1V8.7h1V2.9h2V5.5h1V4.3h1V8.4h1V8.9h1V5h1V8h1V2.5h1V7.6h1V2.6h1V2.8h1V0zM1167 0V8.1h1V6.4h1V7.3h1V5.5h1V8.5h1V4.6h1V6.8h1V6.1h1V8h1V5.5h1V0zM1179 0V2.1h1V2.9h1V7.2h1V4.4h1V2.9h1V0zM1185 0V4h1V5.1h1V2.4h1V0zM1189 0V6.3h1V.7h1V5.4h1V5.3h1V6.3h1V8h1V4.4h1V5h1V5.4h1V3h1V6h1V4.9h1V7.4h1V4.5h1V5.8h1V.7h1V5.2h1V7.1h1V.3h1V4.1h1V2.3h1V3.6h1V3h1V3.1h1V1h1V7.4h1V2.9h1V7.3h1V6.3h1V5.3h1V0zM1220 0V6.8h1V5.1h1V6.9h1V5.9h1V5.5h1V6.6h1V3.1h1V2.7h1V4.7h1V6.3h1V6h1V5.1h1V3.5h1V5.6h1V3.8h1V1.9h1V6.1h1V3.9h1V2.2h1V5.7h1V3.2h1V4.9h1V1h1V2.2h1V6.6h1V5.7h1V6h1V2.6h1V5.5h1V4.7h1V5.7h1V6.1h1V5.1h1V4.8h1V4.1h1V4.5h1V3.6h1V2h1V5.7h1V2.5h1V3h1V2.9h1V2.6h1V3.4h1V2.3h1V4.1h1V3.9h1V.6h1V3.1h1V0zM1270 0V4.9h1V2.6h1V5.9h1V2h1V4h1V2.5h1V2.7h1V2.5h1V5.7h1V4.3h1V0zM1281 0V5.2h1V1.8h1V3.2h1V5.6h1V1.8h1V3.1h1V7.2h1V5.8h1V0zM1290 0V5h1V7.2h1V5.2h1V3.2h1V2.6h1V5.4h1V0zM1297 0V3.8h1V5.7h1V0zM1301 0V2.7h1V3.6h1V6h1V1.9h1V0zM1306 0V3.6h1V0zM1308 0V3.7h1V1.2h1V7.2h1V2.4h1V6h1V2.9h1V6.8h1V3.9h1V.5h1V6h1V2h1V3.6h1V4.5h1V1.9h1V1h1V7.5h1V2.9h1V5.3h1V0zM1327 0V3.7h1V7.9h1V5h2V4.3h1V4.9h1V2.1h1V3.3h1V3.8h1V2.6h1V.3h1V1.1h1V6.8h1V5h1V2.8h1V4.4h1V2.6h1V8.5h1V0zM1346 0V4h1V6.3h1V7h1V5.9h1V0zM1352 0V5.7h1V5.4h1V2.1h1V4.6h1V3h1V.3h1V0zM1359 0V3.7h1V5.2h1V3.2h1V.6h1V2.5h1V6.3h1V6.7h1V5.4h1V3.7h2V8.9h1V6.1h1V1.1h1V8.4h1V7.8h1V8.7h1V5.5h1V2.4h1V0zM1381 0V3.4h1V0zM1383 0V3.1h1V0zM1385 0V8.2h1V8.5h1V3.4h1V2.2h1V7.2h1V4.2h1V3.1h1V7.7h1V6.8h1V0zM1395 0V1.4h1V8.3h1V7.8h1V0zM1399 0V8.6h1V7.1h1V6.7h1V2.1h1V.8h1V2.4h1V3.6h1V7.4h1V6.1h1V0zM1410 0V3.7h1V6h1V3.8h1V3.4h1V3.9h1V2.2h1V4.1h1V4.2h1V1.1h1V0zM1420 0V4.4h1V4.7h1V5.2h1V7h1V0z" fill="#595959"/>
</g>
</g>
<path d="M317.4 842.35v8.4M414 842.35v8.4M510.6 842.35v8.4M604.08 842.35v8.4M700.68 842.35v8.4M794.16 842.35v8.4M890.76 842.35v8.4M987.36 842.35v8.4M1077.73 842.35v8.4M1174.33 842.35v8.4M1267.81 842.35v8.4M1364.41 842.35v8.4M1457.89 842.35v8.4M1554.49 842.35v8.4M1651.09 842.35v8.4M1744.57 842.35v8.4M1841.17 842.35v8.4M1934.66 842.35v8.4M2031.26 842.35v8.4M2127.85 842.35v8.4M2215.1 842.35v8.4M2311.7 842.35v8.4M2405.19 842.35v8.4M2501.79 842.35v8.4M2595.27 842.35v8.4M2691.87 842.35v8.4M2788.47 842.35v8.4M2881.95 842.35v8.4M2978.55 842.35v8.4M3072.03 842.35v8.4M3168.63 842.35v8.4M3265.23 842.35v8.4M3352.48 842.35v8.4M3449.08 842.35v8.4M3542.56 842.35v8.4M3639.16 842.35v8.4M3732.65 842.35v8.4M3829.24 842.35v8.4M3925.84 842.35v8.4M4019.33 842.35v8.4M4115.93 842.35v8.4M4209.41 842.35v8.4M4306.01 842.35v8.4M4402.61 842.35v8.4M4489.86 842.35v8.4M4586.46 842.35v8.4M4679.94 842.35v8.4M4776.54 842.35v8.4" stroke="#3f3f3f" stroke-width="3.2" fill="none"/>
<text x="276.6" y="796.15" font-size="29.2" fill="#111" text-anchor="end" xml:space="preserve">rout2p1-8</text>
<text x="4775.6" y="796.15" font-size="29.2" fill="#111" text-anchor="start">rout2p1-8</text>
<rect x="276.3" y="872.06" width="4499.5" height="74.7" fill="#f7f7f7"/>
<g clip-path="url(#axclip)">
<g transform="translate(317.93 907.06) scale(3.1161 29.9)">
<path d="M-14 0h179V1H-14zM171 0h5V1H171zM181 0h105V1H181zM287 0h39V1H287zM388 0h2V1H388zM391 0h23V1H391zM415 0h8V1H415zM471 0h26V1H471zM499 0h9V1H499zM510 0h3V1H510zM514 0h32V1H514zM547 0h2V1H547zM553 0h155V1H553zM709 0h189V1H709zM902 0h10V1H902zM1099 0h310V1H1099zM1410 0h18V1H1410z" fill="#cccccc"/>
<path d="M-14 0h178V1H-14zM171 0h2V1H171zM174 0h2V1H174zM181 0h35V1H181zM217 0h1V1H217zM219 0h2V1H219zM237 0h1V1H237zM239 0h3V1H239zM243 0h4V1H243zM248 0h6V1H248zM258 0h1V1H258zM270 0h1V1H270zM304 0h1V1H304zM315 0h1V1H315zM483 0h13V1H483zM507 0h1V1H507zM510 0h2V1H510zM519 0h10V1H519zM530 0h5V1H530zM536 0h8V1H536zM554 0h20V1H554zM575 0h44V1H575zM622 0h31V1H622zM654 0h17V1H654zM672 0h36V1H672zM709 0h112V1H709zM822 0h30V1H822zM854 0h44V1H854zM902 0h10V1H902zM1101 0h64V1H1101zM1167 0h10V1H1167zM1179 0h5V1H1179zM1185 0h3V1H1185zM1189 0h30V1H1189zM1220 0h49V1H1220zM1270 0h10V1H1270zM1281 0h8V1H1281zM1290 0h6V1H1290zM1297 0h2V1H1297zM1301 0h4V1H1301zM1306 0h1V1H1306zM1308 0h18V1H1308zM1327 0h18V1H1327zM1346 0h4V1H1346zM1352 0h6V1H1352zM1359 0h18V1H1359zM1381 0h1V1H1381zM1383 0h1V1H1383zM1385 0h9V1H1385zM1395 0h3V1H1395zM1399 0h9V1H1399zM1410 0h9V1H1410zM1420 0h4V1H1420z" fill="#9999b5"/>
</g>
<g transform="translate(317.93 936.96) scale(3.1161 -1)">
<path d="M-14 0V12.9h1V16.7h1V12.2h1V11h1V2.3h1V20h1V20.9h1V4h1V9.2h1V11h1V7.4h1V25h1V13.6h1V2.9h1V11.3h1V8.2h1V15.5h1V0zM4 0V17.1h1V10.4h1V0zM7 0V13h1V14.4h1V16.3h1V7.4h1V21.9h1V24.7h1V6.3h1V22h1V19.7h1V15.1h1V9.7h1V20.5h1V17.4h1V6.3h1V22.4h1V0zM23 0V7h1V10.5h1V20.1h1V11.1h1V12.4h1V10.5h1V9.8h1V18.9h1V6.1h1V0zM33 0V6.1h1V15.9h1V14.8h1V19.2h1V3.1h1V17.6h1V19h1V25.9h1V17.8h1V12.5h1V13.8h1V10.7h1V13.1h1V9.6h1V2.1h1V9.1h1V7.2h1V17h1V11.6h1V13h1V9.9h1V0zM55 0V20.1h1V10.1h1V3.3h1V7h1V12.9h1V12.5h1V13.2h1V7.1h1V9.7h1V1.7h1V11.7h1V13.3h1V5.6h1V10.9h1V22.3h1V10.2h1V3.5h1V13.7h1V2h1V10.5h1V12h1V1.3h1V9h1V2.4h1V22.1h1V4.6h1V10.5h1V15.9h1V10h1V4.5h1V10.8h1V18.7h1V11.6h1V23.8h1V25.5h1V18.3h1V14.5h1V21.6h1V21.8h1V7.6h1V4.1h1V1.1h1V10.6h1V13.3h1V1.6h1V24.4h1V12.9h1V18.4h1V20.5h1V11h1V17.7h1V15.4h1V23.3h1V11.8h1V9.3h1V11.5h1V6.9h1V14.5h1V10.4h1V6.3h1V7.8h1V3.3h1V8h1V12.7h1V9.8h1V0zM122 0V12.6h1V16.9h1V.9h1V10.1h1V0zM127 0V9.1h1V14.3h1V16.7h1V18.2h1V2.6h1V5.4h1V25.2h1V5.5h1V12.6h1V10.7h1V21.4h1V0zM139 0V17.8h1V2.3h1V11.5h1V7.3h1V17h1V11.2h1V11h1V0zM161 0V4.8h1V3.3h1V0zM171 0V7.4h1V0zM174 0V6.3h1V2.8h1V0zM181 0V8.3h1V12.9h1V6.6h1V0zM197 0V3.4h1V1.7h1V0zM201 0V11.2h1V9.9h1V1.6h1V0zM205 0V8.3h1V3.6h1V0zM208 0V4.1h1V0zM210 0V14.5h1V14.9h1V8.4h1V15.3h1V12h1V12.2h1V0zM483 0V29.8h1V29.5h1V24.2h1V29.9h1V25.4h1V29.9h1V28.7h1V29.9h1V23h1V23.1h1V26.9h1V21.7h1V22.5h1V0zM510 0V10.4h1V1.4h1V0zM519 0V28.9h1V3.3h1V16.8h1V20.5h1V22.4h1V24.3h1V25.7h1V3.5h1V1.1h1V0zM531 0V3.6h1V4.9h1V0zM534 0V1.5h1V0zM536 0V4.2h1V5.1h1V9.1h1V1.8h1V1.7h1V1.5h1V2.3h1V1.3h1V0zM554 0V1h1V1.8h1V0zM558 0V1.1h1V0zM560 0V1.4h1V0zM562 0V5h1V4.4h1V7.6h1V6.3h1V0zM568 0V3h1V4.6h1V4.3h1V2.8h1V7.2h1V6.4h1V0zM575 0V2.3h1V4.6h1V1.2h1V1.8h1V7h1V1h1V0zM582 0V6.4h1V2.7h1V0zM585 0V5.5h1V0zM588 0V5.5h1V3.7h1V7.5h1V10.2h1V12.6h1V12.2h1V9.9h1V8.2h1V12.7h1V19.6h1V12.3h1V22.1h1V21.9h1V20h1V15.1h1V9.7h1V3.3h1V16.7h1V12h1V3.9h1V5.5h1V5h1V12.2h1V18.5h1V11.4h1V12.3h1V13.8h1V14h1V14.2h1V16.2h1V13.2h1V0zM622 0V13h1V15.9h1V18.9h1V10.3h1V14.4h1V10.7h1V13.3h1V0zM630 0V14h1V0zM632 0V10.7h1V1.8h1V0zM636 0V2h1V3.7h1V8.5h1V9.6h1V11.6h1V0zM642 0V6.9h1V8.7h1V23.1h1V19.8h1V1.5h1V23.9h1V22.2h1V0zM650 0V14h1V2.7h1V2.3h1V0zM654 0V11.9h1V13h1V16.5h1V13.8h1V11.2h1V26.4h1V1.7h1V25h1V8.2h1V17.1h1V12.6h1V11.1h1V1.8h2V11.9h1V12.5h1V2.6h1V0zM672 0V9.6h1V0zM675 0V5.4h1V8.2h1V12.6h1V20.4h1V4.9h1V17.7h1V1.2h1V17.7h1V24.6h1V9.2h1V1.1h1V9.1h1V5.1h1V8.1h1V5.9h1V0zM691 0V17h1V8.6h1V2.4h1V1.7h1V5.5h1V3.9h1V0zM698 0V13.6h1V12h1V13.1h1V7.6h1V12.3h1V10h1V16.9h1V14.5h1V13.5h1V1.8h1V0zM709 0V29.9h4V25.4h1V28.8h1V16.8h1V29.9h1V11h1V21.1h1V14.8h1V9.9h1V13.7h1V13.3h1V14.3h1V8.9h1V25.7h1V11h1V20.3h1V22.8h1V23h1V20.4h1V16.2h1V23.3h1V14.9h1V29.9h1V20.3h1V18.5h1V11h1V12.5h1V8.5h1V6.1h1V16.1h1V11h1V25h1V19.6h1V29.9h2V13.7h1V9.7h1V21.8h1V6.3h1V29.9h1V3.1h1V26.9h1V12.9h1V16.1h1V17.5h1V7.4h1V8.3h1V10.7h1V15.1h1V16.5h1V22h1V20.3h1V16.5h1V26.8h1V3.4h1V29.3h1V9.9h1V9.1h1V10.5h1V21.3h1V10.6h1V13.3h1V23.4h1V18.3h1V16.2h1V19h1V10.5h1V12.5h1V23.1h1V20.6h1V10.1h1V29.9h1V1.6h1V29.9h3V20.3h1V9.5h1V13.1h1V23.6h1V3.2h1V23.1h1V21.6h1V29.9h1V12.9h1V26.8h1V29.9h1V29.2h1V16.1h1V10.5h1V19.2h1V25.1h1V22.6h1V24.3h1V21.8h1V29.9h1V17.9h1V11.8h1V12.8h1V14.8h1V10.9h1V8h1V26.8h1V27.2h1V10.2h1V26.7h1V2.9h1V25.3h1V29.9h1V0zM822 0V22.3h1V10.1h1V9.8h1V12.6h1V3.6h1V16h1V9.6h1V10.4h1V19.6h1V9h1V15.5h1V23.9h1V22.7h1V10.4h1V29h1V20.8h1V17.9h1V10.1h1V19.6h1V25.6h1V29.9h3V27.8h1V29.9h2V22.8h1V22.9h1V21.6h1V21.5h1V0zM854 0V15.6h1V18.6h1V7h1V15.5h1V10h1V3.4h1V17h1V14h1V16.4h1V14.2h1V17.6h1V18.5h1V0zM874 0V14.4h1V14.8h1V7.5h1V5.3h1V14.7h1V15.6h1V11.2h1V4.4h1V6.5h1V6.4h1V5.8h1V8.6h1V10.6h1V13.8h1V7.3h1V8h1V12.8h1V5.6h1V8.4h1V6.7h1V12h1V12.9h1V14.2h1V11.7h1V0zM903 0V1.4h1V3.8h1V3.9h1V2.2h1V1.3h1V0zM910 0V2.5h1V1h1V0zM1101 0V28.4h1V24.8h1V29.9h1V27.2h1V29.9h4V4.5h1V14.7h1V29.9h2V13.2h1V25.1h1V12.7h1V14.7h1V26.5h1V15.9h1V18h1V28.2h1V23.8h1V29.9h1V21.1h1V23.1h1V29.9h1V3.6h1V12h1V7.7h1V11.2h1V10.1h1V17.4h1V29.9h2V13.5h1V19.4h1V21.4h1V29.9h2V13.6h1V23.8h1V27.4h1V24h1V17.2h1V15.2h1V29.9h4V15h1V28h1V26.5h1V29h1V29.7h1V26.2h1V29.9h2V21.9h1V24h1V29.9h2V20.7h1V29.9h1V13h1V13.6h1V0zM1167 0V26.5h1V3.3h1V14h1V8.7h1V29.9h2V15.2h1V14.5h1V29.9h1V22.8h1V0zM1179 0V3.2h1V29.9h1V22.2h1V28.7h1V9.5h1V0zM1185 0V17h1V22.1h1V29.9h1V0zM1189 0V29.9h1V15.4h1V24.4h1V29.9h2V24.8h1V26.6h1V29.9h1V20.8h1V24.1h1V29.9h3V11.6h1V7.5h1V17.9h1V19.6h1V20h1V11.1h1V10.5h1V4.5h1V29.9h2V27.8h1V10.1h1V26.6h1V29.9h1V19.6h1V23.3h1V18h1V0zM1220 0V21h1V23.5h1V17.6h1V29.9h1V23.2h1V23.8h1V19.7h1V29.9h1V16.9h1V17h1V14h1V24h1V29.9h1V15.9h1V21.6h1V29.9h3V29.6h1V20.8h1V18h1V18.3h1V4.5h1V22.1h1V29.9h2V12.6h1V18.5h1V8h1V20.2h1V21h1V22.4h1V8h1V7.5h1V27.3h1V22.9h1V18.9h1V23.8h1V7.6h1V22.5h1V15h1V26.3h1V19.5h1V22.8h1V12.9h1V9.9h1V12.8h1V26.4h1V14.5h1V0zM1270 0V20h1V14.3h1V29.5h1V18.4h1V17.6h1V28.7h1V29.9h1V24.4h1V24.1h1V28.6h1V0zM1281 0V29.9h1V9.5h1V20.1h1V16.6h1V29.9h1V9h1V10.8h1V12.6h1V0zM1290 0V21.2h1V4.7h1V21.1h1V22.2h1V19.7h1V19.3h1V0zM1297 0V16.7h1V16.6h1V0zM1301 0V29.9h3V13.5h1V0zM1306 0V21.3h1V0zM1308 0V24.3h1V17.6h1V3.5h1V4.9h1V8.3h1V21.8h1V29.9h1V11.9h1V14.9h1V16.7h1V25.4h1V23.7h1V29.9h3V27.3h1V22.1h1V19.7h1V0zM1327 0V3h1V24.2h1V25h1V29.9h1V18.8h1V29.9h2V27.4h1V18.9h1V4.5h1V16.6h1V15.4h1V15.6h2V26.6h1V13.6h1V23.4h1V14.1h1V0zM1346 0V26.6h1V29.9h3V0zM1352 0V28.2h1V25.7h1V26h1V29.9h1V28.8h1V29.9h1V0zM1359 0V9.7h1V18.6h1V19.7h1V27.7h1V21.7h1V24.8h1V20.3h1V12.5h1V18.1h1V16.6h1V29.9h1V29.3h1V3.6h1V29.9h1V28h1V29.9h1V16.1h1V16.9h1V0zM1381 0V19.5h1V0zM1383 0V15.5h1V0zM1385 0V26.5h1V29.9h1V24.3h1V28.7h1V9.1h1V11.9h1V29.9h1V20.5h1V28.6h1V0zM1395 0V2.7h1V16h1V20.4h1V0zM1399 0V17.8h1V24.5h1V17h1V20.5h1V14.2h1V16.2h1V8.1h1V19.7h1V29.9h1V0zM1410 0V18.5h1V4.2h1V29.9h1V22h1V7.8h1V10.5h1V17.2h1V16.5h1V29.9h1V0zM1420 0V25.8h1V24.4h1V6.8h1V7.7h1V0z" fill="#738cd0"/>
<path d="M-14 0V11h1V16.7h1V9.5h1V10.8h1V2.1h1V17.5h1V19.7h1V0zM-6 0V6.9h1V11h1V7.2h1V25h1V13.6h1V2.6h1V11.3h1V8h1V12h1V0zM4 0V15.8h1V9.7h1V0zM7 0V12.7h1V14.3h1V13.8h1V4.5h1V21.9h1V24.5h1V5.4h1V22h1V18h1V12.3h1V6.9h1V18.5h1V15.9h1V0zM21 0V22.4h1V0zM23 0V2.6h1V9.6h1V19.5h1V11.1h1V10.7h1V9.1h1V6.4h1V18.9h1V4.6h1V0zM34 0V13.2h1V12.3h1V19.2h1V1.5h1V17.6h1V19h1V25.9h1V17.8h1V9.6h1V12.3h1V10.7h1V10.2h1V4.9h1V0zM48 0V7.5h1V4h1V14.1h1V8.4h2V9.1h1V0zM55 0V18.3h1V7.7h1V0zM58 0V5h1V10.6h1V9h1V11.7h1V6.9h1V7.2h1V0zM65 0V11.7h1V11.4h1V3.6h1V10.4h1V19h1V8.7h1V0zM72 0V13.7h1V0zM74 0V8.4h1V11.9h1V0zM77 0V5.8h1V0zM79 0V21h1V1.2h1V8.1h1V13.6h1V8.3h1V2.7h1V9.5h1V18.7h1V10.5h1V22.6h1V25.5h1V17.6h1V14.4h1V20.5h1V21h1V3.9h1V0zM96 0V1.1h1V9.8h1V10.7h1V0zM100 0V24.4h1V12.3h1V15.7h1V20.5h1V10.4h1V15.5h1V13.2h1V23.3h1V11.6h1V6.3h1V8.6h1V4.9h1V10.7h1V6.8h1V5.5h1V7.4h1V2.2h1V4.5h1V12.7h1V9.5h1V0zM122 0V12.6h1V16.9h1V0zM125 0V8.9h1V0zM127 0V6.7h1V12.3h1V14.3h1V14.8h1V.9h1V5h1V25.2h1V1.6h1V10.7h2V21.4h1V0zM139 0V17.8h1V0zM141 0V9.6h1V3.1h1V15.9h1V11.2h1V9.5h1V0zM161 0V1.6h1V3.3h1V0zM171 0V5.4h1V0zM174 0V2.1h1V0zM181 0V7.6h1V9.9h1V6.4h1V0zM201 0V10.7h1V5.3h1V0zM205 0V3.8h1V0zM210 0V11h2V5.4h1V11.3h1V10.7h1V9.1h1V0zM483 0V24.8h1V25h1V21.1h1V29.1h1V20.1h1V28.6h1V22.7h1V25.8h1V20.5h1V18.7h1V20.6h1V15.1h1V15.5h1V0zM510 0V10.4h1V0zM519 0V20.4h1V0zM521 0V7.4h1V9.2h1V11.2h1V15.5h1V14.9h1V0zM589 0V2h1V5.7h1V10.2h1V9.1h1V9.6h1V9.9h1V4.7h1V10.1h1V19.2h1V10.2h1V21.9h1V21.1h1V16.8h1V14.4h1V7.6h1V0zM605 0V16.7h1V8.8h1V2.3h1V3.7h1V0zM610 0V11.8h1V18.5h1V7.8h1V10.2h1V12.3h1V12.1h1V14.2h1V13.3h1V10.4h1V0zM622 0V11.7h1V13.5h1V17.5h1V9.8h1V13.2h1V10.1h1V9.7h1V0zM630 0V10.8h1V0zM632 0V9.6h1V0zM636 0V1.3h1V0zM638 0V6.8h1V6.3h1V10.6h1V0zM642 0V5.3h1V4.1h1V22.8h1V19.8h1V0zM647 0V23.9h1V20.9h1V0zM650 0V14h1V1.1h1V0zM654 0V11h1V12.5h1V16.5h1V13.8h1V11.2h1V25.7h1V0zM661 0V25h1V6.4h1V15.8h1V11.3h1V11.1h1V0zM668 0V11.9h1V10.9h1V1.1h1V0zM672 0V8h1V0zM675 0V2.1h1V4.6h1V12.6h1V19.3h1V3h1V17.7h1V0zM682 0V16.5h1V24.6h1V4.9h1V0zM686 0V6.7h1V5.1h1V6.6h1V5.2h1V0zM691 0V17h1V6h1V0zM695 0V2.9h1V0zM698 0V10h1V8.2h1V13.1h1V5.1h1V12h1V9.4h1V16.9h1V10.3h1V10.6h1V0zM709 0V29.9h4V25.4h1V28.8h1V16h1V29.8h1V6.5h1V20.6h1V12.3h1V7.9h1V13.4h1V8h1V9.8h1V1.9h1V25.2h1V10.7h1V18.9h1V21.4h1V23h1V19.7h1V12.9h1V21.5h1V14.9h1V29.9h1V18.8h1V18.5h1V8h1V10h1V2.6h1V3.3h1V14.2h1V9.3h1V22.4h1V19.6h1V29.9h2V7.3h1V5.9h1V17.7h1V4.3h1V27.9h1V1.1h1V26.9h1V9.4h1V13.3h1V14.9h1V4.7h1V4h1V6.6h1V14.9h1V16.5h1V21.8h1V19.6h1V16.1h1V25.6h1V1.3h1V27.5h1V8.6h1V4.6h1V5.6h1V19.7h1V4.5h1V10h1V23.4h1V18.3h1V12.9h1V19h1V9.1h1V9.6h1V22.4h1V19.3h1V8.8h1V29.9h1V0zM785 0V29.9h3V18.3h1V6.7h1V9.6h1V23.6h1V1.3h1V20.2h1V19.3h1V29.9h1V10.2h1V26.8h1V29.9h1V27.1h1V13.9h1V8.6h1V18.2h1V24.4h1V22.6h1V24.1h1V20.6h1V29.9h1V15.3h1V6.8h1V10h1V12.9h1V7.9h1V4.2h1V26.8h1V25.8h1V7.5h1V26h1V1.3h1V25.3h1V29.9h1V0zM822 0V20.9h1V4.8h1V6.3h1V9h1V1.3h1V10.7h1V7.9h1V6.6h1V19.6h1V5.9h1V14.2h1V23.1h1V21.5h1V6.4h1V29h1V19.3h1V15.2h1V7.9h1V16.3h1V25.6h1V29.9h3V26.5h1V29.9h2V21.3h1V19.4h1V21.6h1V18.1h1V0zM854 0V15.5h1V15h1V5.6h1V13.8h1V8.1h1V1.2h1V17h1V12.6h1V14h1V13.3h1V15.2h1V17.1h1V0zM874 0V14.4h1V13.5h1V5h1V4.6h1V14.5h1V15.6h1V9.9h1V0zM882 0V6.5h1V5.2h1V5.8h1V4.3h1V9.5h1V12.5h1V7.3h1V4.1h1V10.2h1V2.3h1V4.6h1V5.1h1V11.8h1V12.9h2V9.8h1V0zM906 0V1.2h2V0zM1101 0V26.3h1V24.8h1V29.9h1V26.8h1V29.9h4V1.8h1V11.4h1V29.9h1V28.4h1V10h1V24.9h1V8.9h1V12.5h1V26.5h1V15.9h1V16.7h1V27.2h1V22.5h1V29.9h1V21.1h1V19.1h1V29.9h1V1.4h1V10.9h1V4.8h1V6.4h1V5.8h1V12.2h1V29.9h2V10.4h1V17.3h1V19.8h1V29.9h2V10.7h1V23.8h1V26.4h1V24h1V15.2h1V12h1V29.9h4V13.1h1V23.9h1V25.3h1V28.6h1V29.5h1V25h1V29.9h2V21.8h1V24h1V29.9h2V17.4h1V29.9h1V9.1h1V9.6h1V0zM1167 0V22h1V1.1h1V12.4h1V2.2h1V29.9h2V14.3h1V12h1V29.9h1V22.8h1V0zM1179 0V1.1h1V29.9h1V22.2h1V27.3h1V6.2h1V0zM1185 0V16.3h1V19.2h1V29.9h1V0zM1189 0V29.9h1V15.3h1V22.4h1V29.9h2V24.8h1V26.1h1V29.9h1V19.1h1V23.7h1V29.9h3V9.1h1V2.4h1V14.3h1V19.6h1V19.4h1V9.7h1V5.6h1V1.8h1V29.9h2V26.2h1V8.9h1V25.5h1V29.9h1V18.5h1V23.2h1V16.3h1V0zM1220 0V19.7h1V22.9h1V17.4h1V29.9h1V23.2h1V23.8h1V17.7h1V29.9h1V16.9h1V16.3h1V10.8h1V24h1V29.9h1V13.9h1V20.2h1V29.8h1V29.9h2V29.6h1V18.9h1V17h1V16.5h1V1.8h1V22.1h1V28.3h1V29.9h1V8.2h1V17.1h1V4.8h1V17.9h1V20.2h1V22.3h1V3h1V1.3h1V25.8h1V19.3h1V18.9h1V22.4h1V3.8h1V19.6h1V12.5h1V25.2h1V17.5h1V22.3h1V10.9h1V5.2h1V7.7h1V25.7h1V13.5h1V0zM1270 0V18.7h1V11.2h1V25.9h1V17.8h1V17.1h1V28.7h1V29.9h1V24.4h1V24.1h1V27.5h1V0zM1281 0V29.9h1V6.3h1V20h1V15.9h1V29.9h1V2.2h1V6.5h1V11.6h1V0zM1290 0V19.6h1V3.9h1V18h1V22h1V15.7h1V16.9h1V0zM1297 0V14.8h1V15.9h1V0zM1301 0V29.9h1V28.7h1V29.9h1V8.5h1V0zM1306 0V18.7h1V0zM1308 0V24.3h1V16.3h1V2h1V0zM1312 0V2.7h1V21.5h1V29.9h1V5.9h1V13.1h1V12.6h1V25.4h1V23.7h1V29.9h3V26.6h1V22h1V16.9h1V0zM1327 0V1h1V23h1V22.5h1V29.9h1V18.6h1V29.9h2V27.4h1V17.9h1V1.8h1V16.1h1V14.6h1V11.4h1V12.4h1V26.6h1V10.7h1V22.6h1V9.6h1V0zM1346 0V26.1h1V29.9h3V0zM1352 0V27.3h1V25.7h1V24.5h1V29.9h1V27.8h1V29.9h1V0zM1359 0V8.1h1V15h1V17.6h1V27.7h1V18h1V23.4h1V18.3h1V9.1h1V14.7h1V14.9h1V29.9h1V27.9h1V1.4h1V29.9h1V28h1V29.9h1V16.1h1V16.3h1V0zM1381 0V19.1h1V0zM1383 0V12.4h1V0zM1385 0V25.2h1V29.9h1V22.4h1V28.7h1V7.2h1V11.7h1V29.9h1V20.5h1V26.8h1V0zM1395 0V1h1V14h1V20.4h1V0zM1399 0V15.3h1V22.6h1V13.4h1V19.6h1V12.9h1V12.4h1V6.3h1V19.7h1V29.9h1V0zM1410 0V18.1h1V1.8h1V29.9h1V21.3h1V5h1V5.1h1V17.2h1V16.5h1V29.2h1V0zM1420 0V25.4h1V21.9h1V4.7h1V3.2h1V0z" fill="#1a66f5"/>
</g>
<g transform="translate(317.93 903.86) scale(3.1161 -1)">
<path d="M-13 0V27.6h2V22.5h1V26.1h1V25h1V26.2h1V25.9h1V26.3h1V24.3h1V26.2h1V25.9h1V24.8h1V26.3h1V25.1h1V25.8h1V24.8h1V25.4h1V26h1V26.3h1V25.3h1V26.7h1V25h1V25.9h1V25.5h1V26.7h1V26.5h1V26.4h1V26.1h1V26.8h1V27.6h1V26.2h1V27.3h1V5.1h1V5.4h1V25.5h1V24.9h1V26.3h1V25.3h1V25.4h1V27.1h1V24.9h2V26.2h1V24.8h1V25h1V25.9h1V26.1h1V25.8h1V26.2h1V26.3h1V26.5h1V24.9h1V24h1V25.6h1V24.1h1V25.2h1V25.4h1V25h1V24.1h1V25h1V24.8h1V24.9h1V24.7h1V25.4h1V25h1V23.6h1V25.1h1V24h1V25.2h1V25.1h1V23.6h1V24.6h1V23h1V23.5h1V22.2h1V24.3h1V8h1V10.7h1V22.2h1V21.8h1V9.9h1V23.2h1V23h1V23.2h1V21.3h1V3.4h1V22.9h1V9.8h1V22.2h1V22.1h1V20.8h1V21.8h1V21.9h1V22.1h1V22.2h1V20.3h1V21.9h1V9.1h1V22.2h1V21.4h1V9.5h1V22.1h1V22.2h1V6.5h1V18.5h1V18.7h1V19.9h1V19.3h1V18.5h1V20h1V3.9h1V8.4h1V18.3h1V20.3h1V6.7h1V19.9h1V18.5h1V20.4h1V20.9h1V20.2h1V18.7h1V21h1V21.4h1V19.9h1V3.2h1V1h1V19.7h1V20.7h1V21.8h1V19.9h1V19.7h1V18.5h1V18.8h1V19.6h1V19.7h2V17.4h1V6.5h1V18.3h1V16.3h1V17.1h1V17.9h1V16.4h1V5h1V17.2h1V3.1h1V3.5h1V15.2h1V16.2h1V4.8h1V6.3h1V15.3h1V15.1h1V13.9h1V3.7h1V13.3h1V12.4h1V12.2h1V12.9h1V4h1V12.4h1V.8h1V12.8h1V12.3h1V13h1V13.3h1V12h1V11.3h1V12.2h1V12.1h1V11.2h1V10.1h1V11h1V9.7h1V9.3h1V9.4h1V9.7h1V0zM171 0V14.6h1V11.7h1V0zM174 0V8.5h1V9h1V0zM181 0V2h1V2.5h1V2.4h1V.8h1V1.2h1V1.6h1V1.7h1V8.9h1V8.4h1V9.6h1V10.4h1V9.5h1V12.2h1V10.9h1V12.9h1V10.6h1V11.3h1V11.2h1V11.3h1V12.5h1V12.9h1V15.2h1V4.5h1V8.1h1V8.9h1V10.2h1V11.9h1V12.7h1V6.1h1V13.8h1V13.7h1V13.8h1V12.2h1V3.5h1V1.1h1V0zM217 0V5.1h1V0zM219 0V9.2h1V1h1V0zM237 0V3.1h1V0zM239 0V5.7h2V.6h1V0zM245 0V6.1h1V4.9h1V0zM248 0V3.9h1V3.8h1V3.3h1V2.7h2V1.8h1V0zM258 0V6.6h1V0zM270 0V11.7h1V0zM315 0V3.1h1V0zM483 0V.6h1V4.4h2V3.9h2V3.7h1V3.3h2V3.6h1V3.3h1V2.9h1V3.2h1V3.1h1V0zM507 0V.6h1V0zM519 0V7.1h1V7.4h1V8.5h1V9.2h1V9.7h1V10.1h1V11.1h1V10.9h1V5.7h1V0zM530 0V9.2h1V1.6h1V6.6h3V0zM536 0V4.5h1V1.6h1V5.1h1V9.7h1V9.4h2V9.2h1V8.7h1V0zM555 0V1.3h1V1.6h1V1.9h1V2.1h1V1.8h1V2.2h1V1.9h1V2.1h1V2h2V1.7h1V2.2h1V1.6h1V1.2h1V1.5h1V2.3h1V1.8h1V2.5h1V2h1V0zM575 0V2.5h1V1.8h1V2.3h1V2.5h1V2.7h1V1.6h1V1.5h1V2h1V6.3h1V7.3h1V6.7h1V8.2h1V7.4h1V4.1h1V3.1h1V2h1V1h1V0zM593 0V2.7h1V3.9h1V3.7h1V0zM597 0V4h1V4.6h1V5h1V6.3h1V3.7h1V4.1h1V6h1V4.3h1V6h1V3.9h1V6.1h1V7.1h1V6.6h1V7.1h1V0zM612 0V4.2h1V5.4h1V3.7h1V3.6h1V2.7h1V2.9h1V2.2h1V0zM622 0V1.8h1V2.5h1V3.5h1V2h1V2.5h1V2.4h1V.6h4V2.7h1V4.3h1V5h1V5.2h1V4.5h1V4.3h1V5.8h1V17.5h1V16.7h1V17.4h1V19.1h1V16.9h1V18.6h1V15.7h1V18.6h1V18.2h1V15.7h1V16.6h1V5.1h2V0zM654 0V8.6h1V16h1V18.6h1V0zM658 0V16.4h1V0zM660 0V15.7h1V16.4h1V17.5h1V15.5h1V15h1V11.3h2V19.5h2V11.3h2V0zM672 0V13.3h2V18.5h1V17.8h1V19.4h1V8.6h1V0zM679 0V1h1V19.5h1V18.9h1V18.4h1V2.1h1V1.9h1V2.4h1V15.5h1V17.3h1V18.8h1V19h1V9.8h1V22.5h1V27.6h2V15.4h1V27.6h1V22.5h1V12.7h1V0zM699 0V3.1h1V15.4h1V26.8h1V27.7h2V20.5h1V11.3h1V21.5h1V22.1h1V0zM709 0V6h1V6.4h1V5.7h1V4.9h1V5.2h1V4.4h1V3.4h2V2.5h1V3.1h1V2.4h1V2.6h1V2.5h1V2.4h1V2h1V2.1h1V2h2V1.5h1V5.1h1V6.8h1V4.1h1V5.1h1V7.3h1V6.1h1V4.4h1V6h1V4.7h1V6.7h1V5.1h1V5.3h1V4.5h1V6.7h1V4.6h1V6.6h1V6.4h1V4.9h1V5.1h2V6.7h1V6.1h1V3.7h1V5.9h1V5.6h1V3.7h1V4h1V5.4h1V5.3h1V5.4h1V4.6h1V6.1h1V7.1h1V3.8h1V7.2h1V6.2h1V4.6h1V5h1V6h1V4.8h1V6.1h1V4.6h1V6.9h1V3.4h1V5.7h1V6.2h1V6.3h1V3.5h1V5.3h1V4.6h1V4.8h1V4.4h1V5.6h1V4.7h1V6.6h1V5.3h1V5.1h1V4h1V4.6h1V3.6h1V3.2h1V3.3h1V2.9h1V3.2h1V.9h1V1.2h1V5h1V4h1V4.9h2V4.3h1V5.5h1V4.5h1V4.3h1V4.8h1V3.8h1V6.1h1V4.1h1V6.2h1V4.3h1V5.2h1V5h1V4.5h1V6.7h1V6.9h1V5.9h1V5h1V5.6h1V5.9h1V7h1V7.7h1V5.3h2V0zM822 0V4.1h1V1.3h1V3.6h1V1.2h1V3.6h1V1.4h1V4.3h1V.3h1V4.9h1V5.8h1V4.8h1V4.1h1V4.8h1V5.3h1V.8h1V1.8h1V1.5h1V.7h1V4.6h1V4.4h1V3.9h1V4h1V1.2h1V2.7h1V1.1h1V3.6h1V3.7h1V2.5h1V3.1h1V.6h1V0zM855 0V2.3h1V3.6h1V2.3h1V3.3h2V2.7h1V2.3h2V3.4h1V2.9h1V2.8h1V3.1h1V0zM868 0V.6h4V0zM873 0V1.5h2V2.3h1V1.7h1V2.6h1V2.8h1V1.9h2V2.5h1V1.9h1V2.7h1V2.8h1V2.2h1V2.8h1V2h1V2.3h1V2h1V2.5h1V2h1V3h1V3.1h1V1.7h1V2.1h1V1.9h1V0zM902 0V1.4h1V2h1V2.1h1V1.3h1V0zM907 0V1.3h1V1.8h1V1.7h2V1.6h1V0zM1101 0V6.9h1V6.4h1V3.4h1V8.3h1V5.3h1V1.7h1V8.3h1V5.9h1V1h1V5.6h1V6.5h1V2.3h1V3.5h1V5.8h1V5.6h1V3.4h1V7.7h1V5.7h1V3.1h1V1.3h1V7.7h1V7.8h1V.7h1V4.1h1V6.1h1V8.2h1V1.7h1V5.1h1V5.7h1V1.9h1V5.4h1V.8h1V7.2h1V2.7h1V4.5h1V7.3h1V6h1V5.6h1V4.4h1V4.6h1V7h1V4.6h1V2.7h1V2.6h1V4.6h1V6.8h1V5.4h1V5.2h1V3.7h1V7.6h1V2.8h1V7.4h1V2.5h2V4.7h1V3.6h1V7.1h1V7.6h1V4.3h1V6.8h1V2.2h1V6.5h1V2.2h1V2.4h1V0zM1167 0V6.9h1V5.5h1V6.2h1V4.6h1V7.2h1V3.9h1V5.8h1V5.2h1V6.8h1V4.7h1V0zM1179 0V1.8h1V2.5h1V6.1h1V3.8h1V2.5h1V0zM1185 0V3.4h1V4.4h1V2h1V0zM1189 0V5.3h1V.6h1V4.6h1V4.5h1V5.3h1V6.8h1V3.7h1V4.3h1V4.6h1V2.6h1V5.1h1V4.2h1V6.3h1V3.8h1V4.9h1V.6h1V4.5h1V6h1V.2h1V3.5h1V1.9h1V3h1V2.6h1V2.7h1V.8h1V6.3h1V2.4h1V6.2h1V5.4h1V4.5h1V0zM1220 0V5.8h1V4.3h1V5.9h1V5h1V4.7h1V5.6h1V2.7h1V2.3h1V4h1V5.4h1V5.1h1V4.3h1V2.9h1V4.8h1V3.2h1V1.6h1V5.2h1V3.3h1V1.9h1V4.8h1V2.7h1V4.1h1V.9h1V1.8h1V5.6h1V4.9h1V5.1h1V2.2h1V4.7h1V4h1V4.9h1V5.1h1V4.3h1V4.1h1V3.5h1V3.9h1V3h1V1.7h1V4.8h1V2.2h1V2.5h2V2.2h1V2.9h1V2h1V3.5h1V3.4h1V.5h1V2.6h1V0zM1270 0V4.2h1V2.2h1V5h1V1.7h1V3.4h1V2.1h1V2.3h1V2.1h1V4.8h1V3.6h1V0zM1281 0V4.4h1V1.5h1V2.7h1V4.8h1V1.6h1V2.7h1V6.1h1V4.9h1V0zM1290 0V4.2h1V6.1h1V4.4h1V2.7h1V2.2h1V4.6h1V0zM1297 0V3.2h1V4.8h1V0zM1301 0V2.3h1V3h1V5.1h1V1.6h1V0zM1306 0V3h1V0zM1308 0V3.1h1V1h1V6.1h1V2.1h1V5.1h1V2.5h1V5.8h1V3.3h1V.4h1V5.1h1V1.7h1V3h1V3.8h1V1.6h1V.9h1V6.4h1V2.4h1V4.5h1V0zM1327 0V3.2h1V6.7h1V4.3h1V4.2h1V3.6h1V4.2h1V1.8h1V2.8h1V3.3h1V2.2h1V.3h1V.9h1V5.8h1V4.3h1V2.3h1V3.7h1V2.2h1V7.2h1V0zM1346 0V3.4h1V5.3h1V5.9h1V5h1V0zM1352 0V4.9h1V4.6h1V1.8h1V4h1V2.5h1V.2h1V0zM1359 0V3.1h1V4.4h1V2.8h1V.5h1V2.1h1V5.3h1V5.7h1V4.6h1V3.1h2V7.6h1V5.2h1V.9h1V7.2h1V6.6h1V7.4h1V4.6h1V2.1h1V0zM1381 0V2.9h1V0zM1383 0V2.6h1V0zM1385 0V7h1V7.2h1V2.9h1V1.9h1V6.2h1V3.6h1V2.6h1V6.5h1V5.8h1V0zM1395 0V1.2h1V7h1V6.7h1V0zM1399 0V7.3h1V6h1V5.7h1V1.8h1V.7h1V2.1h1V3.1h1V6.3h1V5.2h1V0zM1410 0V3.1h1V5.1h1V3.2h1V2.9h1V3.4h1V1.9h1V3.5h2V1h1V0zM1420 0V3.8h1V4h1V4.4h1V5.9h1V0z" fill="#595959"/>
</g>
<rect x="3750.7" y="939.06" width="803.9" height="4.2" fill="#ccb34d"/>
<rect x="4563.8" y="939.06" width="190.2" height="4.2" fill="#ccb34d"/>
</g>
<path d="M317.4 947.36v8.4M414 947.36v8.4M510.6 947.36v8.4M604.08 947.36v8.4M700.68 947.36v8.4M794.16 947.36v8.4M890.76 947.36v8.4M987.36 947.36v8.4M1077.73 947.36v8.4M1174.33 947.36v8.4M1267.81 947.36v8.4M1364.41 947.36v8.4M1457.89 947.36v8.4M1554.49 947.36v8.4M1651.09 947.36v8.4M1744.57 947.36v8.4M1841.17 947.36v8.4M1934.66 947.36v8.4M2031.26 947.36v8.4M2127.85 947.36v8.4M2215.1 947.36v8.4M2311.7 947.36v8.4M2405.19 947.36v8.4M2501.79 947.36v8.4M2595.27 947.36v8.4M2691.87 947.36v8.4M2788.47 947.36v8.4M2881.95 947.36v8.4M2978.55 947.36v8.4M3072.03 947.36v8.4M3168.63 947.36v8.4M3265.23 947.36v8.4M3352.48 947.36v8.4M3449.08 947.36v8.4M3542.56 947.36v8.4M3639.16 947.36v8.4M3732.65 947.36v8.4M3829.24 947.36v8.4M3925.84 947.36v8.4M4019.33 947.36v8.4M4115.93 947.36v8.4M4209.41 947.36v8.4M4306.01 947.36v8.4M4402.61 947.36v8.4M4489.86 947.36v8.4M4586.46 947.36v8.4M4679.94 947.36v8.4M4776.54 947.36v8.4" stroke="#3f3f3f" stroke-width="3.2" fill="none"/>
<text x="276.6" y="901.16" font-size="29.2" fill="#111" text-anchor="end" xml:space="preserve">SO2  rsus1p1-8</text>
<text x="4775.6" y="901.16" font-size="29.2" fill="#111" text-anchor="start">rsus1p1-8</text>
<rect x="276.3" y="977.07" width="4499.5" height="74.7" fill="#f7f7f7"/>
<g clip-path="url(#axclip)">
<g transform="translate(317.93 1012.07) scale(3.1161 29.9)">
<path d="M-14 0h179V1H-14zM171 0h5V1H171zM181 0h105V1H181zM287 0h39V1H287zM388 0h2V1H388zM391 0h23V1H391zM415 0h8V1H415zM471 0h26V1H471zM499 0h9V1H499zM510 0h3V1H510zM514 0h32V1H514zM547 0h2V1H547zM553 0h155V1H553zM709 0h189V1H709zM902 0h10V1H902zM1099 0h310V1H1099zM1410 0h18V1H1410z" fill="#cccccc"/>
<path d="M-14 0h178V1H-14zM171 0h2V1H171zM174 0h2V1H174zM181 0h33V1H181zM215 0h1V1H215zM217 0h1V1H217zM219 0h2V1H219zM237 0h1V1H237zM239 0h3V1H239zM243 0h4V1H243zM248 0h6V1H248zM258 0h1V1H258zM270 0h1V1H270zM304 0h1V1H304zM315 0h1V1H315zM483 0h13V1H483zM507 0h1V1H507zM510 0h2V1H510zM519 0h10V1H519zM530 0h5V1H530zM536 0h8V1H536zM554 0h20V1H554zM575 0h44V1H575zM622 0h31V1H622zM654 0h17V1H654zM672 0h36V1H672zM709 0h76V1H709zM786 0h2V1H786zM789 0h32V1H789zM822 0h30V1H822zM854 0h44V1H854zM902 0h10V1H902zM1101 0h64V1H1101zM1167 0h10V1H1167zM1179 0h5V1H1179zM1185 0h3V1H1185zM1189 0h30V1H1189zM1220 0h49V1H1220zM1270 0h10V1H1270zM1281 0h8V1H1281zM1290 0h6V1H1290zM1297 0h2V1H1297zM1301 0h4V1H1301zM1306 0h1V1H1306zM1308 0h18V1H1308zM1327 0h18V1H1327zM1346 0h4V1H1346zM1352 0h6V1H1352zM1359 0h18V1H1359zM1381 0h1V1H1381zM1383 0h1V1H1383zM1385 0h9V1H1385zM1395 0h3V1H1395zM1399 0h9V1H1399zM1410 0h9V1H1410zM1420 0h4V1H1420z" fill="#9999b5"/>
</g>
<g transform="translate(317.93 1041.97) scale(3.1161 -1)">
<path d="M-14 0V10.4h1V15.6h1V9.1h1V11.2h1V3.1h1V20.2h1V20.8h1V2.3h1V9h1V10.4h1V8.7h1V23.5h1V12.9h1V5.5h1V12.2h1V8.1h1V14.5h1V0zM4 0V16.6h1V10.2h1V0zM7 0V12.4h1V13.9h1V16.7h1V7.3h1V22.2h1V22.9h1V7.8h1V22.7h1V18h1V15.4h1V9.3h1V19.1h1V17.2h1V5.1h1V22.4h1V2h1V4.5h1V13.3h1V19h1V10h1V12.5h1V10h1V8.4h1V18.2h1V6.7h1V1.4h1V4.1h1V15.1h1V11.5h1V22h1V3.2h1V17.2h1V19.3h1V23.5h1V19.2h1V10.6h1V13.1h1V11.7h1V10.9h1V6.9h1V0zM48 0V7.7h1V6h1V15.9h1V9.5h1V12.4h1V13h1V2h1V19h1V8.9h1V3.9h1V8.4h1V15.9h1V10.1h1V16.8h1V9.6h1V12.4h1V5.9h1V14.4h1V13.8h1V6.5h1V11.6h1V21h1V12.1h1V5.2h1V16.4h1V2.4h1V9h1V15.6h1V1.4h1V11.2h1V6h1V20.8h1V5.3h1V11.4h1V15.6h1V11.6h1V6.9h1V11.5h1V20.3h1V14.8h1V23.2h1V24.9h1V18.8h1V16.3h1V20.5h1V23.9h1V7.6h1V4.7h1V1.9h1V13.9h1V10.6h1V4.2h1V24h1V14.6h1V19h1V21.1h1V13.3h1V16.2h1V17.9h1V24.2h1V13.6h1V11h1V10.8h1V7.2h1V12.8h1V9.5h1V6.7h1V11.6h1V4.4h1V6.6h1V13.9h1V13.4h1V0zM122 0V13.6h1V16.6h1V4.6h1V9h1V4h1V9.9h1V13.7h1V15.4h1V17.5h1V4h1V8.1h1V24.2h1V6.1h1V11.6h1V13.3h1V19.5h1V0zM139 0V18.8h1V3h1V14.3h1V8.5h1V18h1V12.1h1V11.8h1V0zM161 0V2h1V3h1V0zM171 0V6h1V0zM174 0V3.9h1V0zM181 0V8.7h1V9.3h1V7.3h1V0zM197 0V2.8h1V2.2h1V0zM201 0V8.5h1V8h1V0zM205 0V7.6h1V0zM208 0V2.3h1V0zM210 0V12.4h1V9.4h1V7.8h1V10.3h1V0zM215 0V11.7h1V0zM483 0V29.9h2V29.6h1V29.9h1V27.6h1V29.9h1V29.1h1V29.9h1V28.5h1V28.4h1V27.5h1V26.3h1V24.1h1V0zM507 0V1.4h1V0zM510 0V10.7h1V3.1h1V0zM519 0V29.9h1V3.8h1V21.3h1V24.9h1V26h1V29.9h2V4.3h1V1.5h1V0zM530 0V2.5h1V1.3h1V7.3h1V2.1h1V4.1h1V0zM536 0V3.9h1V6.1h1V6.6h1V3.7h1V6.5h1V4.9h1V2.1h1V1.2h1V0zM554 0V1.6h1V5.4h1V1.2h1V0zM558 0V3.1h1V4.5h1V5.9h1V0zM562 0V6.5h1V9.8h1V7.4h1V10.8h1V1.5h1V2h1V1.6h1V6.8h1V10.9h1V7.5h1V11h1V8.9h1V0zM575 0V5h1V11.5h1V1.5h1V6.3h1V8.1h1V2.1h1V2h1V6h1V4h1V0zM585 0V7.5h1V1.5h1V0zM588 0V3.3h1V7.9h1V7.7h1V12.9h1V14.6h1V13.2h1V12.5h1V9.8h1V15.8h1V19.5h1V14.4h1V25.3h1V23.5h1V18.2h1V16.8h1V11.3h1V3.4h1V17.3h1V13.8h1V6.1h1V5.7h1V6.1h1V16.6h1V21h1V11.4h1V11h1V13.3h1V13.1h1V14h1V16.2h1V12.9h1V0zM622 0V13.7h1V14.9h1V21.5h1V9.7h1V15.7h1V14.4h1V12h1V1h1V14.7h1V3.3h1V9.3h1V3.3h1V2.2h1V0zM636 0V2.8h1V6.1h1V7.4h1V10.3h1V14.7h1V0zM642 0V8.1h1V6h1V22.9h1V20.9h1V1.9h1V24.2h1V20.6h1V4h1V14.4h1V2.8h1V3.5h1V0zM654 0V11h1V15.5h1V18.3h1V15.9h1V13.1h1V26.9h1V1.5h1V23.4h1V7.3h1V18.8h1V12.9h1V13.7h1V1.9h1V4.7h1V13h1V13.5h1V2.8h1V0zM672 0V11.5h1V0zM675 0V8.6h1V9h1V14h1V21.2h1V5.9h1V18.5h1V3.9h1V17.4h1V23.5h1V7.6h1V1.3h1V10.3h1V8.7h1V10.4h1V8.4h1V1.6h1V19.6h1V7.8h1V2.1h1V2.3h1V8.2h1V1.9h1V0zM698 0V11.6h1V12.7h1V12.4h1V9.2h1V14.9h1V14.5h1V19.4h1V14.1h1V13.2h1V2.1h1V0zM709 0V29.9h4V26.4h1V29.5h1V17.4h1V29.9h1V9.1h1V19.7h1V17.4h1V9.9h1V14.7h1V13h1V12.2h1V8.7h1V27h1V14.9h1V22h1V21.7h1V23.6h1V20.6h1V15.1h1V22.6h1V15.8h1V29.9h1V20.7h1V18.7h1V11.2h1V11.7h1V8h1V10.2h1V17.7h1V12.8h1V25.5h1V21.2h1V29.9h2V12.2h1V8.5h1V23h1V8.4h1V28.6h1V3.3h1V27.5h1V14.1h1V14.7h1V16.4h1V9h1V5.6h1V10.1h1V19.4h1V18.4h1V23.8h1V21.9h1V19.7h1V27.8h1V3.6h1V29.3h1V13.7h1V5.9h1V12.4h1V20.3h1V11.2h1V14.5h1V25.1h1V21.3h1V13.5h1V18.6h1V13.8h1V11.4h1V24.8h1V19.9h1V12.4h1V29.9h1V1.9h1V0zM786 0V29.9h2V0zM789 0V11h1V14.4h1V24.5h1V3.1h1V21.3h1V20.2h1V29.9h1V12.7h1V29.5h1V29.9h1V29.6h1V15.8h1V13.6h1V20.6h1V25.1h1V23.5h1V25.5h1V22.3h1V29.9h1V18.3h1V9.8h1V11.5h1V15.5h1V12.4h1V5.9h1V29.2h1V27.3h1V10h1V26.2h1V3.2h1V27.1h1V29.9h1V0zM822 0V23.7h1V11.5h1V11.6h1V12.4h1V3.6h1V13.3h1V11.4h1V9.9h1V19h1V9.2h1V15.5h1V24.4h1V23.2h1V11.2h1V29.6h1V21.9h1V16h1V12.1h1V19.5h1V25.6h1V29.9h3V28h1V29.9h2V21.7h1V21.9h1V24.2h1V19.5h1V0zM854 0V17.6h1V19.4h1V9.1h1V13.7h1V11.6h1V2.9h1V16.4h1V15.2h1V16.6h1V16.3h1V14.3h1V18.4h1V0zM874 0V16.2h1V14.7h1V7.8h1V6.2h1V15.6h1V15.5h1V10.9h1V1.6h1V8.5h1V9.1h1V7.4h1V6h1V12.9h1V14.9h1V9.3h1V7.7h1V12.7h1V5.5h1V5.6h1V7.8h1V13.7h1V13.5h1V13.7h1V8h1V0zM902 0V2.4h1V2.9h1V1.5h1V1.6h1V3.5h1V1.6h1V0zM1101 0V27.2h1V26.2h1V29.9h1V29.5h1V29.9h4V4.5h1V16.9h1V29.9h2V16.8h1V26h1V13.8h1V14.3h1V26.7h1V20h1V19h1V29.9h1V26.7h1V29.9h1V22.9h1V22.4h1V29.9h1V3.8h1V14.1h1V8.6h1V12.1h1V11.1h1V18.2h1V29.9h2V15.9h1V22.1h1V23.2h1V29.9h2V12.9h1V25.9h1V29.5h1V25.2h1V17.2h1V13.2h1V29.9h4V19.1h1V29.1h1V27.4h1V29.9h2V26.4h1V29.9h2V26.4h1V26.5h1V29.9h2V21.7h1V29.9h1V13.5h1V13.7h1V0zM1167 0V25.1h1V3.2h1V17.9h1V5.9h1V29.9h2V18.8h1V15.2h1V29.9h1V25.5h1V0zM1179 0V3h1V29.9h1V25h1V29.9h1V12.3h1V0zM1185 0V19.5h1V23.9h1V29.9h1V0zM1189 0V29.9h1V17.6h1V25.9h1V29.9h2V25.8h1V26.5h1V29.9h1V21.9h1V28.4h1V29.9h3V13.2h1V7.7h1V19.6h1V23h1V22.5h1V15.2h1V12.3h1V4.5h1V29.9h2V26.8h1V11.5h1V29.7h1V29.9h1V21.2h1V24.7h1V20.7h1V0zM1220 0V23.7h1V23.3h1V18.7h1V29.9h1V23.8h1V27.4h1V18.2h1V29.9h1V17.8h1V20.5h1V12.7h1V26.3h1V29.9h1V19.2h1V23h1V29.9h4V24.1h1V19.1h1V18.2h1V4.5h1V23.1h1V29.9h2V13.2h1V22.1h1V10.1h1V20.2h1V21.7h1V24.2h1V8.4h1V7.2h1V29.9h1V23.1h1V19.5h1V26.2h1V8.6h1V24.3h1V18.8h1V28.7h1V21.6h1V24.4h1V13.6h1V9.3h1V12.1h1V29.4h1V17.3h1V0zM1270 0V23.8h1V15.5h1V29.9h1V21.5h1V20.8h1V29.9h2V24.1h1V24.5h1V29.1h1V0zM1281 0V29.9h1V11.2h1V24.2h1V19.2h1V29.9h1V8.8h1V11.1h1V13.7h1V0zM1290 0V21.1h1V8.1h1V19.9h1V25h1V20.2h1V21.8h1V0zM1297 0V18.9h1V20.1h1V0zM1301 0V29.9h3V13.2h1V0zM1306 0V24.3h1V0zM1308 0V25.3h1V18.2h1V8.5h1V6.1h1V8.7h1V23.1h1V29.9h1V11.6h1V18.4h1V16h1V25.4h1V26h1V29.9h3V27.8h1V26.7h1V20.9h1V0zM1327 0V2.7h1V26.5h1V23.5h1V29.9h1V21h1V29.9h2V28.2h1V21.9h1V4.4h1V20.7h1V19.1h1V17h1V16.7h1V28.6h1V15.2h1V25.9h1V13.1h1V0zM1346 0V27.1h1V29.9h3V0zM1352 0V27.8h2V26.2h1V29.9h1V29.6h1V29.9h1V0zM1359 0V11.6h1V18.3h1V19.9h1V28.1h1V21.8h1V27.1h1V21.1h1V13.1h1V17.5h1V20.5h1V29.9h2V3.7h1V29.9h1V29.8h1V29.9h1V16.3h1V18h1V0zM1381 0V21.4h1V0zM1383 0V16.7h1V0zM1385 0V25h1V29.9h1V25h1V29.9h1V9.1h1V14.2h1V29.9h1V20.1h1V28.8h1V0zM1395 0V3.1h1V17h1V22.6h1V0zM1399 0V20.1h1V25.6h1V14.9h1V20.5h1V14.2h1V17h1V11.2h1V19.2h1V29.9h1V0zM1410 0V20h1V4.5h1V29.9h1V22.3h1V8.2h1V10.8h1V20.7h1V19.9h1V29.9h1V0zM1420 0V25.7h1V24.6h1V10.5h2V0z" fill="#738cd0"/>
<path d="M-14 0V10h1V15.3h1V9.1h1V9.7h1V0zM-9 0V20.2h1V20.8h1V2.2h1V8.1h1V10.4h1V6.8h1V23.5h1V12.9h1V1.6h1V10.2h1V8.1h1V13.2h1V0zM4 0V16.6h1V10.2h1V0zM7 0V12.1h1V12.4h1V15.2h1V5.1h1V22.1h1V22.9h1V6.2h1V22.7h1V16.3h1V12.9h1V4.7h1V17.9h1V17.2h1V3.1h1V22.1h1V0zM23 0V3.2h1V10.4h1V19h1V9.4h1V10.4h1V9.5h1V8.4h1V18.2h1V3.3h1V0zM33 0V2.2h1V13.9h1V10.6h1V22h1V2.7h1V16.4h1V16.9h1V23.5h1V19h1V8.9h1V12.9h1V10.1h1V8.9h1V6.8h1V0zM48 0V7.1h1V4.2h1V13.4h1V8.6h1V9.7h1V8.3h1V0zM55 0V9.5h1V0zM59 0V3.4h1V0zM61 0V4.8h1V0zM65 0V3.1h1V1h1V0zM69 0V11.8h1V0zM72 0V2.8h1V0zM75 0V2.6h1V0zM79 0V10.1h1V0zM82 0V5.8h1V0zM86 0V7.3h1V2.5h1V13.4h1V14.7h1V6.8h1V4.1h1V10.1h1V11.3h1V0zM97 0V.9h1V0zM100 0V14h1V3.2h1V8.4h1V11.7h1V1.3h1V6.3h1V4.5h1V12.2h1V2.3h1V0zM112 0V3.2h1V0zM118 0V2.3h1V0zM122 0V3.9h1V8h1V0zM128 0V2.6h1V6.4h1V5.6h1V0zM133 0V14.2h1V0zM136 0V2h1V11.9h1V0zM139 0V10.2h1V0zM143 0V6.1h1V0zM162 0V1.5h1V0zM171 0V2.7h1V0zM181 0V7.8h1V8.1h1V7.3h1V0zM483 0V29.9h2V26.1h1V29.9h1V27.6h1V29.9h1V27.9h1V29.9h1V26h1V23.8h1V26.2h1V22.9h1V21.2h1V0zM510 0V10.5h1V.9h1V0zM519 0V27.7h1V1.2h1V15h1V17.3h1V18.3h1V23.5h1V24.6h1V1.2h1V1.3h1V0zM538 0V3.2h1V0zM554 0V1.6h1V3.4h1V0zM560 0V.9h1V0zM562 0V1.3h1V5.8h1V6.8h1V8.3h1V0zM569 0V2h1V8.3h1V4.4h1V7.6h1V5.2h1V0zM576 0V7.2h1V0zM578 0V3.1h1V7.7h1V0zM582 0V4.8h1V2.3h1V0zM585 0V3.3h1V0zM588 0V1.1h1V4.4h1V6.5h1V12.9h1V12.2h1V8.3h1V11.5h1V6.7h1V11.6h1V19.5h1V11.8h1V25h1V22.3h1V17.7h1V15h1V9.2h1V0zM605 0V17.3h1V10h1V1.3h1V4.6h1V2.7h1V14.5h1V20.6h1V10.9h1V9.8h1V11.8h1V13.1h1V14h1V15.1h1V11.3h1V0zM622 0V12.1h1V14.9h1V20h1V8.1h1V13.3h1V12h1V10.6h1V0zM630 0V12.5h1V0zM632 0V9.1h1V0zM637 0V2.6h1V5.6h1V5.4h1V13.6h1V0zM642 0V6.3h1V5.9h1V22.9h1V20.9h1V0zM647 0V23.6h1V19.8h1V0zM650 0V14h1V1.1h1V0zM654 0V11h1V13.7h1V15.3h1V15.9h1V13.1h1V26.7h1V0zM661 0V23.4h1V5.5h1V18.8h1V10.2h1V12.1h1V0zM667 0V1.4h1V11.2h1V13h1V1.2h1V0zM672 0V8.3h1V0zM675 0V4.9h1V7.6h1V11.2h1V20.4h1V2.2h1V18.2h1V1.3h1V16.1h1V23.1h1V4.7h1V0zM686 0V8.2h1V4.9h1V8.7h1V3.5h1V0zM691 0V18.7h1V6h1V1.1h1V0zM695 0V5.1h1V1.1h1V0zM698 0V11.2h1V11h1V11.9h1V5.5h1V14.3h1V10.6h1V19.4h1V11.7h1V13h1V0zM709 0V29.9h4V26.4h1V28.8h1V14.6h1V29.9h1V7.2h1V19.7h1V15.1h1V9.2h1V13.3h1V8.9h1V10.9h1V5.4h1V25h1V11.3h1V18.8h1V21.7h1V23.6h1V20.6h1V14.5h1V20.4h1V12.8h1V29.9h1V20.7h1V18.7h1V7.6h1V9.9h1V4.3h1V5.4h1V13.6h1V9.6h1V25.5h1V20.6h1V29.9h2V8.5h1V7.4h1V19.8h1V5.2h1V28h1V1.1h1V27.4h1V10h1V11.2h1V14.4h1V5.3h1V2.4h1V5.4h1V17h1V15h1V23.8h1V20.5h1V16.9h1V27.8h1V1.4h1V28.7h1V10.3h1V2.9h1V8.7h1V20.3h1V6.7h1V9.3h1V23.3h1V17h1V13.5h1V18.6h1V8.2h1V8.3h1V23.2h1V19h1V9.3h1V29.9h1V0zM786 0V29.9h2V0zM789 0V8h1V10h1V23.6h1V1.3h1V21.3h1V20.2h1V29.9h1V11.1h1V29.5h1V29.9h1V27.4h1V14.2h1V11.4h1V20.6h1V24.4h1V20.9h1V24.1h1V21.1h1V29.9h1V17.5h1V8.1h1V9.5h1V14.7h1V8.7h1V3.2h1V27.8h1V27.3h1V6.8h1V26.2h1V1.2h1V26.1h1V29.9h1V0zM822 0V22.4h1V5.6h1V6.5h1V10.6h1V1.4h1V12.8h1V7.6h1V4.8h1V18h1V4.3h1V12.8h1V22.3h1V22.8h1V7.9h1V27.7h1V19.9h1V16h1V8h1V16.3h1V25.6h1V29.9h3V27.2h1V29.9h2V20.4h1V20.2h1V21.2h1V19.5h1V0zM854 0V13.2h1V17.2h1V4.8h1V12.1h1V8h1V1.2h1V15.2h1V12.5h1V14h1V14.4h1V14.2h1V17.4h1V0zM874 0V13.7h1V12h1V6.1h1V4.6h1V13.4h1V15.5h1V7.9h1V1.6h1V7.7h1V6.4h1V5h1V4.7h1V12h1V12.4h1V5.6h1V6.5h1V10.8h1V3.8h1V5.6h1V3.9h1V11.2h1V11.7h1V12.6h1V8h1V0zM1101 0V27.2h1V26.2h1V29.9h1V29.5h1V29.9h4V1.8h1V15.1h1V29.9h2V13h1V26h1V9.6h1V13.5h1V25h1V17.2h1V16.1h1V28.1h1V26.5h1V29.9h1V20.9h1V22.4h1V29.9h1V1.4h1V12.3h1V5.8h1V6.7h1V7h1V13.8h1V29.9h2V11.6h1V19.9h1V23.2h1V29.9h2V10.8h1V24.8h1V29.5h1V25.2h1V15.1h1V12.4h1V29.9h4V15.9h1V27.9h1V27.4h1V29.9h2V26.4h1V29.9h2V24h1V22.4h1V29.9h2V16.9h1V29.9h1V10.7h1V12.2h1V0zM1167 0V24.1h1V1.3h1V13.3h1V2.7h1V29.9h2V14.7h1V13h1V29.9h1V25.5h1V0zM1179 0V1.2h1V28.8h1V22.5h1V29.9h1V7.9h1V0zM1185 0V15.6h1V20.7h1V29.9h1V0zM1189 0V29.9h1V14.6h1V24h1V29.9h2V25.8h1V26h1V29.9h1V21.9h1V27.2h1V29.9h3V12.4h1V5.4h1V16.4h1V20.6h1V21.6h1V11.2h1V6.2h1V1.8h1V29.9h2V25.9h1V10.4h1V27.3h1V29.9h1V18.9h1V24.7h1V17.5h1V0zM1220 0V22.2h1V23.3h1V18.4h1V29.9h1V22.9h1V24.4h1V17.7h1V29.9h1V16.8h1V16.5h1V9.4h1V23.1h1V29.9h1V16.4h1V19.9h1V29.9h4V19.5h1V17h1V18h1V1.8h1V20.7h1V29.8h1V29.9h1V7.8h1V19.9h1V5.1h1V19.1h1V20.6h1V24.2h1V4.7h1V2.6h1V28.4h1V22.2h1V19.2h1V23.7h1V2.3h1V19.6h1V14.3h1V24.8h1V18h1V24.4h1V13.5h1V7.6h1V10.6h1V28.8h1V15h1V0zM1270 0V21.7h1V12.4h1V27.1h1V19.6h1V18.2h1V29.9h2V22.7h1V24.5h1V29.1h1V0zM1281 0V29.9h1V6.7h1V22.4h1V17.3h1V29.9h1V5.7h1V9.6h1V10h1V0zM1290 0V19.3h1V4.5h1V19.2h1V22.4h1V19h1V19.6h1V0zM1297 0V13.6h1V18.1h1V0zM1301 0V29.9h3V10.6h1V0zM1306 0V20.9h1V0zM1308 0V25.3h1V16.9h1V1.7h1V0zM1312 0V3.9h1V22.6h1V29.9h1V8h1V16.5h1V12.9h1V25.4h1V24.4h1V29.9h3V27.8h1V23h1V18.6h1V0zM1327 0V1.1h1V25.6h1V23.5h1V29.9h1V18.8h1V29.9h2V28.1h1V21.2h1V1.8h1V16.4h1V14.9h1V13h1V13.9h1V27h1V11.6h1V22.4h1V10.9h1V0zM1346 0V27.1h1V29.9h3V0zM1352 0V27.8h1V26h1V24.9h1V29.9h1V29.6h1V29.9h1V0zM1359 0V10.3h1V17.9h1V19.9h1V28.1h1V20.9h1V25.4h1V17.6h1V12.1h1V14.7h1V15.4h1V29.9h2V1.6h1V29.9h1V26.9h1V29.9h1V16.3h1V18h1V0zM1381 0V19.1h1V0zM1383 0V12.9h1V0zM1385 0V25h1V29.9h1V25h1V27.3h1V7.5h1V12.6h1V29.9h1V19.8h1V27.5h1V0zM1395 0V1.2h1V15h1V20.3h1V0zM1399 0V18.3h1V23.4h1V13.7h1V20.5h1V12.8h1V13.9h1V5.8h1V19.2h1V29.9h1V0zM1410 0V20h1V1.8h1V29.9h1V20.9h1V4.8h1V8.6h1V19.4h1V16.6h1V29.9h1V0zM1420 0V24.8h1V22.4h1V7.3h1V5.3h1V0z" fill="#1a66f5"/>
</g>
<g transform="translate(317.93 1008.87) scale(3.1161 -1)">
<path d="M-13 0V27.6h2V22.5h1V26.1h1V25h1V26.2h1V25.9h1V26.3h1V24.3h1V26.2h1V25.9h1V24.8h1V26.3h1V25.1h1V25.8h1V24.8h1V25.4h1V26h1V26.3h1V25.3h1V26.7h1V25h1V25.9h1V25.5h1V26.7h1V26.5h1V26.4h1V26.1h1V26.8h1V27.6h1V26.2h1V27.3h1V5.1h1V5.4h1V25.5h1V24.9h1V26.3h1V25.3h1V25.4h1V27.1h1V24.9h2V26.2h1V24.8h1V25h1V25.9h1V26.1h1V25.8h1V26.2h1V26.3h1V26.5h1V24.9h1V24h1V25.6h1V24.1h1V25.2h1V25.4h1V25h1V24.1h1V25h1V24.8h1V24.9h1V24.7h1V25.4h1V25h1V23.6h1V25.1h1V24h1V25.2h1V25.1h1V23.6h1V24.6h1V23h1V23.5h1V22.2h1V24.3h1V8h1V10.7h1V22.2h1V21.8h1V9.9h1V23.2h1V23h1V23.2h1V21.3h1V3.4h1V22.9h1V9.8h1V22.2h1V22.1h1V20.8h1V21.8h1V21.9h1V22.1h1V22.2h1V20.3h1V21.9h1V9.1h1V22.2h1V21.4h1V9.5h1V22.1h1V22.2h1V6.5h1V18.5h1V18.7h1V19.9h1V19.3h1V18.5h1V20h1V3.9h1V8.4h1V18.3h1V20.3h1V6.7h1V19.9h1V18.5h1V20.4h1V20.9h1V20.2h1V18.7h1V21h1V21.4h1V19.9h1V3.2h1V1h1V19.7h1V20.7h1V21.8h1V19.9h1V19.7h1V18.5h1V18.8h1V19.6h1V19.7h2V17.4h1V6.5h1V18.3h1V16.3h1V17.1h1V17.9h1V16.4h1V5h1V17.2h1V3.1h1V3.5h1V15.2h1V16.2h1V4.8h1V6.3h1V15.3h1V15.1h1V13.9h1V3.7h1V13.3h1V12.4h1V12.2h1V12.9h1V4h1V12.4h1V.8h1V12.8h1V12.3h1V13h1V13.3h1V12h1V11.3h1V12.2h1V12.1h1V11.2h1V10.1h1V11h1V9.7h1V9.3h1V9.4h1V9.7h1V0zM171 0V14.6h1V11.7h1V0zM174 0V8.5h1V9h1V0zM181 0V2h1V2.5h1V2.4h1V.8h1V1.2h1V1.6h1V1.7h1V8.9h1V8.4h1V9.6h1V10.4h1V9.5h1V12.2h1V10.9h1V12.9h1V10.6h1V11.3h1V11.2h1V11.3h1V12.5h1V12.9h1V15.2h1V4.5h1V8.1h1V8.9h1V10.2h1V11.9h1V12.7h1V6.1h1V13.8h1V13.7h1V13.8h1V12.2h1V0zM215 0V1.1h1V0zM217 0V5.1h1V0zM219 0V9.2h1V1h1V0zM237 0V3.1h1V0zM239 0V5.7h2V.6h1V0zM245 0V6.1h1V4.9h1V0zM248 0V3.9h1V3.8h1V3.3h1V2.7h2V1.8h1V0zM258 0V6.6h1V0zM270 0V11.7h1V0zM315 0V3.1h1V0zM483 0V.6h1V4.4h2V3.9h2V3.7h1V3.3h2V3.6h1V3.3h1V2.9h1V3.2h1V3.1h1V0zM507 0V.6h1V0zM519 0V7.1h1V7.4h1V8.5h1V9.2h1V9.7h1V10.1h1V11.1h1V10.9h1V5.7h1V0zM530 0V9.2h1V1.6h1V6.6h3V0zM536 0V4.5h1V1.6h1V5.1h1V9.7h1V9.4h2V9.2h1V8.7h1V0zM555 0V1.3h1V1.6h1V1.9h1V2.1h1V1.8h1V2.2h1V1.9h1V2.1h1V2h2V1.7h1V2.2h1V1.6h1V1.2h1V1.5h1V2.3h1V1.8h1V2.5h1V2h1V0zM575 0V2.5h1V1.8h1V2.3h1V2.5h1V2.7h1V1.6h1V1.5h1V2h1V6.3h1V7.3h1V6.7h1V8.2h1V7.4h1V4.1h1V3.1h1V2h1V1h1V0zM593 0V2.7h1V3.9h1V3.7h1V0zM597 0V4h1V4.6h1V5h1V6.3h1V3.7h1V4.1h1V6h1V4.3h1V6h1V3.9h1V6.1h1V7.1h1V6.6h1V7.1h1V0zM612 0V4.2h1V5.4h1V3.7h1V3.6h1V2.7h1V2.9h1V2.2h1V0zM622 0V1.8h1V2.5h1V3.5h1V2h1V2.5h1V2.4h1V.6h4V2.7h1V4.3h1V5h1V5.2h1V4.5h1V4.3h1V5.8h1V17.5h1V16.7h1V17.4h1V19.1h1V16.9h1V18.6h1V15.7h1V18.6h1V18.2h1V15.7h1V16.6h1V5.1h2V0zM654 0V8.6h1V16h1V18.6h1V0zM658 0V16.4h1V0zM660 0V15.7h1V16.4h1V17.5h1V15.5h1V15h1V11.3h2V19.5h2V11.3h2V0zM672 0V13.3h2V18.5h1V17.8h1V19.4h1V8.6h1V0zM679 0V1h1V19.5h1V18.9h1V18.4h1V2.1h1V1.9h1V2.4h1V15.5h1V17.3h1V18.8h1V19h1V9.8h1V22.5h1V27.6h2V15.4h1V27.6h1V22.5h1V12.7h1V0zM699 0V3.1h1V15.4h1V26.8h1V27.7h2V20.5h1V11.3h1V21.5h1V22.1h1V0zM709 0V6h1V6.4h1V5.7h1V4.9h1V5.2h1V4.4h1V3.4h2V2.5h1V3.1h1V2.4h1V2.6h1V2.5h1V2.4h1V2h1V2.1h1V2h2V1.5h1V5.1h1V6.8h1V4.1h1V5.1h1V7.3h1V6.1h1V4.4h1V6h1V4.7h1V6.7h1V5.1h1V5.3h1V4.5h1V6.7h1V4.6h1V6.6h1V6.4h1V4.9h1V5.1h2V6.7h1V6.1h1V3.7h1V5.9h1V5.6h1V3.7h1V4h1V5.4h1V5.3h1V5.4h1V4.6h1V6.1h1V7.1h1V3.8h1V7.2h1V6.2h1V4.6h1V5h1V6h1V4.8h1V6.1h1V4.6h1V6.9h1V3.4h1V5.7h1V6.2h1V6.3h1V3.5h1V5.3h1V4.6h1V4.8h1V4.4h1V5.6h1V4.7h1V6.6h1V5.3h1V5.1h1V0zM786 0V4.6h1V3.6h1V0zM789 0V3.3h1V2.9h1V3.2h1V.9h1V1.2h1V5h1V4h1V4.9h2V4.3h1V5.5h1V4.5h1V4.3h1V4.8h1V3.8h1V6.1h1V4.1h1V6.2h1V4.3h1V5.2h1V5h1V4.5h1V6.7h1V6.9h1V5.9h1V5h1V5.6h1V5.9h1V7h1V7.7h1V5.3h2V0zM822 0V4.1h1V1.3h1V3.6h1V1.2h1V3.6h1V1.4h1V4.3h1V.3h1V4.9h1V5.8h1V4.8h1V4.1h1V4.8h1V5.3h1V.8h1V1.8h1V1.5h1V.7h1V4.6h1V4.4h1V3.9h1V4h1V1.2h1V2.7h1V1.1h1V3.6h1V3.7h1V2.5h1V3.1h1V.6h1V0zM855 0V2.3h1V3.6h1V2.3h1V3.3h2V2.7h1V2.3h2V3.4h1V2.9h1V2.8h1V3.1h1V0zM868 0V.6h4V0zM873 0V1.5h2V2.3h1V1.7h1V2.6h1V2.8h1V1.9h2V2.5h1V1.9h1V2.7h1V2.8h1V2.2h1V2.8h1V2h1V2.3h1V2h1V2.5h1V2h1V3h1V3.1h1V1.7h1V2.1h1V1.9h1V0zM902 0V1.4h1V2h1V2.1h1V1.3h1V0zM907 0V1.3h1V1.8h1V1.7h2V1.6h1V0zM1101 0V6.9h1V6.4h1V3.4h1V8.3h1V5.3h1V1.7h1V8.3h1V5.9h1V1h1V5.6h1V6.5h1V2.3h1V3.5h1V5.8h1V5.6h1V3.4h1V7.7h1V5.7h1V3.1h1V1.3h1V7.7h1V7.8h1V.7h1V4.1h1V6.1h1V8.2h1V1.7h1V5.1h1V5.7h1V1.9h1V5.4h1V.8h1V7.2h1V2.7h1V4.5h1V7.3h1V6h1V5.6h1V4.4h1V4.6h1V7h1V4.6h1V2.7h1V2.6h1V4.6h1V6.8h1V5.4h1V5.2h1V3.7h1V7.6h1V2.8h1V7.4h1V2.5h2V4.7h1V3.6h1V7.1h1V7.6h1V4.3h1V6.8h1V2.2h1V6.5h1V2.2h1V2.4h1V0zM1167 0V6.9h1V5.5h1V6.2h1V4.6h1V7.2h1V3.9h1V5.8h1V5.2h1V6.8h1V4.7h1V0zM1179 0V1.8h1V2.5h1V6.1h1V3.8h1V2.5h1V0zM1185 0V3.4h1V4.4h1V2h1V0zM1189 0V5.3h1V.6h1V4.6h1V4.5h1V5.3h1V6.8h1V3.7h1V4.3h1V4.6h1V2.6h1V5.1h1V4.2h1V6.3h1V3.8h1V4.9h1V.6h1V4.5h1V6h1V.2h1V3.5h1V1.9h1V3h1V2.6h1V2.7h1V.8h1V6.3h1V2.4h1V6.2h1V5.4h1V4.5h1V0zM1220 0V5.8h1V4.3h1V5.9h1V5h1V4.7h1V5.6h1V2.7h1V2.3h1V4h1V5.4h1V5.1h1V4.3h1V2.9h1V4.8h1V3.2h1V1.6h1V5.2h1V3.3h1V1.9h1V4.8h1V2.7h1V4.1h1V.9h1V1.8h1V5.6h1V4.9h1V5.1h1V2.2h1V4.7h1V4h1V4.9h1V5.1h1V4.3h1V4.1h1V3.5h1V3.9h1V3h1V1.7h1V4.8h1V2.2h1V2.5h2V2.2h1V2.9h1V2h1V3.5h1V3.4h1V.5h1V2.6h1V0zM1270 0V4.2h1V2.2h1V5h1V1.7h1V3.4h1V2.1h1V2.3h1V2.1h1V4.8h1V3.6h1V0zM1281 0V4.4h1V1.5h1V2.7h1V4.8h1V1.6h1V2.7h1V6.1h1V4.9h1V0zM1290 0V4.2h1V6.1h1V4.4h1V2.7h1V2.2h1V4.6h1V0zM1297 0V3.2h1V4.8h1V0zM1301 0V2.3h1V3h1V5.1h1V1.6h1V0zM1306 0V3h1V0zM1308 0V3.1h1V1h1V6.1h1V2.1h1V5.1h1V2.5h1V5.8h1V3.3h1V.4h1V5.1h1V1.7h1V3h1V3.8h1V1.6h1V.9h1V6.4h1V2.4h1V4.5h1V0zM1327 0V3.2h1V6.7h1V4.3h1V4.2h1V3.6h1V4.2h1V1.8h1V2.8h1V3.3h1V2.2h1V.3h1V.9h1V5.8h1V4.3h1V2.3h1V3.7h1V2.2h1V7.2h1V0zM1346 0V3.4h1V5.3h1V5.9h1V5h1V0zM1352 0V4.9h1V4.6h1V1.8h1V4h1V2.5h1V.2h1V0zM1359 0V3.1h1V4.4h1V2.8h1V.5h1V2.1h1V5.3h1V5.7h1V4.6h1V3.1h2V7.6h1V5.2h1V.9h1V7.2h1V6.6h1V7.4h1V4.6h1V2.1h1V0zM1381 0V2.9h1V0zM1383 0V2.6h1V0zM1385 0V7h1V7.2h1V2.9h1V1.9h1V6.2h1V3.6h1V2.6h1V6.5h1V5.8h1V0zM1395 0V1.2h1V7h1V6.7h1V0zM1399 0V7.3h1V6h1V5.7h1V1.8h1V.7h1V2.1h1V3.1h1V6.3h1V5.2h1V0zM1410 0V3.1h1V5.1h1V3.2h1V2.9h1V3.4h1V1.9h1V3.5h2V1h1V0zM1420 0V3.8h1V4h1V4.4h1V5.9h1V0z" fill="#595959"/>
</g>
<rect x="276.3" y="1044.07" width="1024.6" height="4.2" fill="#ccb34d"/>
</g>
<path d="M317.4 1052.37v8.4M414 1052.37v8.4M510.6 1052.37v8.4M604.08 1052.37v8.4M700.68 1052.37v8.4M794.16 1052.37v8.4M890.76 1052.37v8.4M987.36 1052.37v8.4M1077.73 1052.37v8.4M1174.33 1052.37v8.4M1267.81 1052.37v8.4M1364.41 1052.37v8.4M1457.89 1052.37v8.4M1554.49 1052.37v8.4M1651.09 1052.37v8.4M1744.57 1052.37v8.4M1841.17 1052.37v8.4M1934.66 1052.37v8.4M2031.26 1052.37v8.4M2127.85 1052.37v8.4M2215.1 1052.37v8.4M2311.7 1052.37v8.4M2405.19 1052.37v8.4M2501.79 1052.37v8.4M2595.27 1052.37v8.4M2691.87 1052.37v8.4M2788.47 1052.37v8.4M2881.95 1052.37v8.4M2978.55 1052.37v8.4M3072.03 1052.37v8.4M3168.63 1052.37v8.4M3265.23 1052.37v8.4M3352.48 1052.37v8.4M3449.08 1052.37v8.4M3542.56 1052.37v8.4M3639.16 1052.37v8.4M3732.65 1052.37v8.4M3829.24 1052.37v8.4M3925.84 1052.37v8.4M4019.33 1052.37v8.4M4115.93 1052.37v8.4M4209.41 1052.37v8.4M4306.01 1052.37v8.4M4402.61 1052.37v8.4M4489.86 1052.37v8.4M4586.46 1052.37v8.4M4679.94 1052.37v8.4M4776.54 1052.37v8.4" stroke="#3f3f3f" stroke-width="3.2" fill="none"/>
<text x="276.6" y="1006.17" font-size="29.2" fill="#111" text-anchor="end" xml:space="preserve">HCHO  rfus5p1-8</text>
<text x="4775.6" y="1006.17" font-size="29.2" fill="#111" text-anchor="start">rfus5p1-8</text>
<rect x="276.3" y="1082.08" width="4499.5" height="74.7" fill="#f7f7f7"/>
<g clip-path="url(#axclip)">
<g transform="translate(317.93 1123.18) scale(3.1161 33.6)">
<path d="M-13 0h178V1H-13zM171 0h5V1H171zM181 0h105V1H181zM287 0h39V1H287zM388 0h2V1H388zM391 0h23V1H391zM415 0h8V1H415zM471 0h26V1H471zM499 0h9V1H499zM510 0h3V1H510zM514 0h32V1H514zM547 0h2V1H547zM553 0h80V1H553zM634 0h74V1H634zM709 0h35V1H709zM745 0h153V1H745zM902 0h10V1H902zM1099 0h310V1H1099zM1410 0h18V1H1410z" fill="#cccccc"/>
<path d="M181 0h8V1H181zM472 0h25V1H472zM499 0h1V1H499zM511 0h2V1H511zM554 0h30V1H554zM590 0h43V1H590zM634 0h5V1H634zM709 0h35V1H709zM745 0h123V1H745zM874 0h24V1H874zM902 0h10V1H902zM1102 0h25V1H1102zM1128 0h12V1H1128zM1142 0h42V1H1142zM1185 0h3V1H1185zM1189 0h30V1H1189zM1220 0h79V1H1220zM1301 0h25V1H1301zM1328 0h17V1H1328zM1346 0h1V1H1346zM1348 0h2V1H1348zM1352 0h6V1H1352zM1359 0h2V1H1359zM1362 0h15V1H1362zM1381 0h1V1H1381zM1383 0h1V1H1383zM1385 0h9V1H1385zM1395 0h3V1H1395zM1399 0h10V1H1399zM1410 0h9V1H1410zM1420 0h4V1H1420z" fill="#9999b5"/>
</g>
<g transform="translate(317.93 1156.78) scale(3.1161 -1)">
<path d="M181 0V9.1h1V11.9h1V8.3h1V0zM185 0V2.1h1V0zM472 0V3.1h1V17.4h1V20.4h1V12.1h1V20.9h1V18.3h1V12.6h1V13.8h1V3.7h1V12.4h1V10h1V15.6h1V16.3h1V10.6h1V17.6h1V12h1V18h1V13.8h1V16.6h1V6.6h1V6.7h1V10.9h1V3.7h1V4.6h1V6.2h1V0zM499 0V33.6h1V0zM511 0V6.7h1V10.1h1V0zM554 0V8.3h1V12.1h1V4.2h1V5.2h1V7.8h1V6.6h1V9.9h1V1.5h1V13.5h1V16.5h1V16.1h1V18.1h1V4.2h1V5.2h1V7.6h1V10.7h1V18.9h1V14.2h1V18.6h1V17.7h1V11.4h1V8.5h1V15.8h1V3.1h1V10.4h1V18.9h1V8.5h1V6.7h1V13.6h1V9.2h1V0zM590 0V7.9h1V14.4h1V10.9h1V13.9h1V10.5h1V10.3h1V14.1h1V18.9h1V15h1V22.3h1V19.8h1V20.6h1V18.3h1V11.8h1V4h1V18.9h1V11.8h1V6.9h1V8h1V4.6h1V13.8h1V18.8h1V13.3h1V11.8h1V12.8h1V15.4h1V15.5h1V14.1h1V12.2h1V14h1V12.7h1V23.6h1V15h2V19.3h1V14.6h1V17h1V11.4h1V11.9h1V5.3h1V12.2h1V7.2h1V10.5h1V0zM634 0V7.8h1V3.4h1V10.3h1V6.1h1V8.9h1V0zM709 0V12.5h1V14.1h1V13.1h1V13.5h1V7.6h1V10.3h1V5h1V13.8h1V3.3h1V10.6h1V6.5h1V3.3h1V4.1h1V6h1V6.4h1V4.3h1V9.5h1V4.9h1V6.4h1V9.3h1V9.6h1V10.1h1V7.8h1V6.3h1V4.8h1V10h1V9.8h1V5.8h1V3.6h1V6h1V2.8h1V3.2h1V6.3h1V3.2h1V8.6h1V0zM745 0V13.6h1V13.5h1V5.6h1V4.5h1V10.6h1V2.6h1V9.4h1V1.2h1V9.4h1V7.2h1V7.5h1V5.2h1V1.7h1V4.5h1V3.2h1V5.5h1V6.6h1V6.7h1V10.7h1V9.1h1V8.4h1V1.5h1V12.9h1V3.4h1V1h1V6.6h1V7.3h1V3.7h1V5.2h1V11.1h1V9.7h1V3.8h1V8.8h1V6.6h1V2.6h1V6.1h1V5.9h1V3.1h1V12.9h1V0zM785 0V10.1h1V11.8h1V9.3h1V4.9h1V1.7h1V2.8h1V6.7h1V1h1V6.9h1V5.1h1V12h1V6.1h1V7.8h1V11.6h1V10.8h1V4.9h1V3.5h1V8.1h1V9.6h1V7.4h2V5.6h1V12h1V5.5h1V1.4h1V5.5h1V5.1h1V2.2h1V2.4h1V7.7h1V7.9h1V4.5h1V8.4h1V0zM819 0V9.5h1V13.3h1V7.6h1V9.2h1V1.4h1V0zM825 0V4.4h1V0zM827 0V3.3h1V4.1h1V2.5h1V4.3h1V0zM832 0V4.5h1V7h1V29.3h1V27h1V30.6h1V32.3h1V29.2h1V28.5h1V28.9h1V31.2h1V33.6h1V31.6h1V33.6h2V33.5h1V33.3h1V31.1h1V30.7h1V30.9h1V31.5h1V28h1V33.6h1V29.2h1V29.4h1V28.1h1V28h1V27.5h1V5h1V29.4h1V27.7h1V30.3h1V28.2h1V27.8h1V31.9h1V30.7h1V31.7h1V0zM874 0V31.8h1V32.8h1V29h1V29.8h1V33.6h1V33.5h1V33.6h1V25.2h1V31h1V29.6h1V27.8h1V31.1h1V31.9h1V33.6h1V28.7h1V28.9h1V33.3h1V28.3h1V31.1h1V29.3h1V33.6h2V31.4h1V30.1h1V0zM902 0V33.2h1V29.3h1V33.6h2V30.9h1V31.3h1V29.3h1V28.8h1V28.4h1V29.2h1V0zM1103 0V3.8h1V2.6h1V2.8h1V1.9h1V33.6h2V4.6h1V25.9h1V31.8h1V32.4h1V28h1V27.5h1V26h1V28.2h1V27.7h1V29.2h1V27h1V31.2h1V27.1h1V31.8h1V30.8h1V30.6h1V30h1V4.1h1V0zM1128 0V23.9h1V26.9h1V25.5h1V27h1V32.1h1V31.9h1V27.5h1V28.4h1V30.8h1V33.6h1V31.4h1V24.6h1V0zM1142 0V30.1h1V25.9h1V28.2h1V33.6h1V31.8h1V33.6h1V31.8h1V29.6h1V29.8h1V31.8h1V32h1V33h1V27.9h1V33h1V30.8h1V27.6h1V30.9h1V31.2h1V32.1h1V29.1h1V31.8h1V27.9h1V26.2h1V28.7h1V29.4h1V30.8h1V4.6h1V28.1h1V21.2h1V30.2h1V33.6h1V26.7h1V25.1h1V31.6h1V27.6h1V29h1V31h1V4.3h1V30.9h1V26.8h1V31.7h1V23.8h1V0zM1185 0V27.9h1V27.6h1V32.3h1V0zM1189 0V29.4h1V28.8h1V27.8h1V32.1h1V33.6h1V29.6h1V31h1V30.8h1V29.6h1V30.9h1V33.6h2V30.6h1V28h1V26h1V27.9h1V26.4h1V30.7h1V25.1h1V23.2h1V5h1V33.5h1V32.1h1V30.2h1V26.5h1V30.6h1V29.7h1V30.2h1V28.5h1V27.9h1V0zM1220 0V27.8h1V29.9h1V29.3h1V33.6h1V27.4h1V29.9h1V29.1h1V32.5h1V27.2h1V28.5h1V26.5h1V26.9h1V33.6h1V29.6h1V29h1V28.6h1V33.6h1V33h1V32.6h1V26.9h1V29.2h1V29h1V4.8h1V27.1h1V31.7h1V29.2h1V24.2h1V26.1h1V25.3h1V27.1h1V30h1V28.4h1V21.4h1V24.5h1V29.6h1V28.6h1V27.1h1V28.9h1V24.6h1V26.2h1V28.9h1V27.5h1V27.9h1V30.4h1V26h1V25.7h1V23.1h1V30.5h1V25.6h2V27.8h1V25.1h1V30.9h1V26.7h1V30.1h1V29.1h1V32.8h1V28.4h1V29h1V28.1h1V32.1h1V30.3h1V25.6h1V27.7h1V26.7h1V33.6h1V24.7h1V26.2h1V25.4h1V28.5h1V29.3h1V22.6h1V26.9h1V29.9h1V30.4h1V30.2h1V30.3h1V28.9h1V30.1h1V0zM1301 0V33.1h1V31h1V32.2h1V28.2h1V30.1h1V27.2h1V23.2h1V27.5h1V27.3h1V25.3h1V25.1h2V27.3h1V33.6h1V24.4h1V26.8h1V26.9h1V32.1h1V29.8h1V32.9h1V32h1V31.2h1V30.9h2V28.2h1V0zM1328 0V30.9h1V30.5h1V31.1h1V30.6h1V33.6h1V32.4h1V29.4h1V29.5h1V5h1V26.6h1V28.3h1V25.5h1V25.6h1V30.2h1V28.1h2V25.8h1V0zM1346 0V31.9h1V0zM1348 0V32.9h1V33.6h1V0zM1352 0V31h1V28h1V27.7h1V33.6h1V30.2h1V33.6h1V0zM1359 0V25.3h1V29.9h1V0zM1362 0V32.6h1V26.6h1V28.4h1V28.5h1V27.8h1V28.7h1V28.9h1V31.7h1V33h1V4.3h1V33.6h1V31.2h1V31.3h1V29.4h1V29h1V0zM1381 0V30.4h1V0zM1383 0V28h1V0zM1385 0V30.7h1V33.6h1V28.8h1V30.7h1V27h1V26.1h1V32.9h1V30.7h1V30.2h1V0zM1395 0V4.2h1V27h1V27.9h1V0zM1399 0V28.7h1V31.7h1V28.9h1V29.6h1V28.5h1V28h1V26.9h1V29h1V31.9h1V31.3h1V0zM1410 0V29.1h1V5h1V33.6h1V28.2h1V23h1V26.6h1V26.5h1V26.6h1V29.9h1V0zM1420 0V30h1V30.7h1V27.2h1V23.3h1V0z" fill="#738cd0"/>
<path d="M473 0V11.6h1V12.7h1V1.9h1V13.8h1V13.1h1V7.9h1V7.3h1V0zM481 0V4.7h1V1.7h1V5.1h1V6.9h1V0zM486 0V10.5h1V0zM488 0V11.8h1V2.8h1V8.5h1V0zM493 0V1.4h1V0zM512 0V1.2h1V0zM555 0V1.8h1V0zM560 0V2.5h1V0zM562 0V2.6h1V8.6h1V7.8h1V9h1V0zM569 0V4.3h1V7.1h1V5.4h1V11h1V5.9h1V0zM576 0V10.1h1V0zM578 0V2.3h1V9.6h1V0zM582 0V9.2h1V5.8h1V0zM591 0V3.7h1V1.7h1V0zM594 0V2.7h1V1.3h1V4.4h1V12.2h1V3.1h1V14.1h1V12.3h1V9.6h1V7.8h1V2.1h1V0zM605 0V8.4h1V1.8h1V0zM610 0V5.8h1V12.6h1V1.5h1V2.4h1V5.4h1V4h1V5.6h1V8.5h1V5.7h1V3.8h1V3.3h1V12.6h1V3.3h1V4.9h1V9.9h1V3.7h1V6.2h1V3.9h1V3.4h1V0zM630 0V5.5h1V0zM632 0V2.6h1V0zM638 0V1.7h1V0zM709 0V2h1V3.5h1V1.6h1V2.7h1V0zM716 0V2.3h1V0zM734 0V1.9h1V0zM745 0V4.7h1V0zM785 0V3.6h1V2.3h1V0zM795 0V1.9h1V0zM798 0V3.4h1V0zM820 0V3.3h1V0zM834 0V17.8h1V12.4h1V18h1V16.2h1V15.5h1V12h1V15.2h1V17.6h1V20.5h1V19.7h1V21.2h1V17h1V18.9h1V18.5h1V16.6h1V17.7h1V16.9h1V15.4h1V16.6h1V22.4h1V14.7h1V18h1V11.1h1V15h1V14.4h1V1.1h1V16.2h1V16.6h1V17.6h1V17.5h1V14.6h1V18.5h1V18.6h1V19.4h1V0zM874 0V22.7h1V20.2h1V16.8h1V15h1V21.9h1V21.2h1V18.2h1V12h1V18.5h1V17.9h1V17.7h1V17.2h1V19.5h1V20h1V17.4h1V16.6h1V20.3h1V15.7h1V16.7h1V15.7h1V20.6h1V19.2h1V19.3h1V17.3h1V0zM902 0V15.4h1V14.8h1V16.3h1V16.2h1V17.1h1V16.2h1V11.8h1V13h1V14.2h1V12.6h1V0zM1107 0V20.1h1V20.2h1V1.1h1V14.5h1V18.8h1V18.7h1V11.6h1V16.4h1V12.7h1V13.2h1V17.9h1V13.2h1V14.6h1V16.1h1V15.4h1V17.3h1V14.7h1V16h1V19.8h1V1.1h1V0zM1128 0V9h1V12.1h1V8.8h1V12.6h1V17h1V18h1V11.6h1V13.3h1V15h1V20.2h1V21.7h1V13.4h1V0zM1142 0V16.2h1V12.9h1V11.9h1V21.9h1V22.8h1V20.2h1V18.5h1V15.1h1V17.8h1V16.8h1V16.5h1V17.7h1V15.3h1V19.8h1V21.7h1V14.5h1V15.5h1V21.8h1V20.2h1V13.4h1V18h1V12.6h1V11.5h1V15.2h1V13.7h1V14.6h1V0zM1169 0V13.7h1V10.4h1V18.4h1V22.3h1V13.8h1V12.7h1V17.6h1V15.6h1V15.1h1V19.8h1V0zM1180 0V19.3h1V16.1h1V18.9h1V10.5h1V0zM1185 0V13.9h1V16.9h1V18.6h1V0zM1189 0V19.8h1V15h1V15.1h1V20.6h1V21.5h1V15.2h1V18.2h1V19.6h1V14.3h1V15.5h1V20.4h1V19.8h1V19.1h1V12.5h1V9.6h1V14.8h1V16.2h1V14h1V12.3h1V9.1h1V1.3h1V18.9h1V17.7h1V17.3h1V13.1h1V16.7h1V19.7h1V13.8h1V17.7h1V15.6h1V0zM1220 0V16.1h1V16.2h1V14.1h1V20.9h1V14.2h1V17.1h1V13h1V18.5h1V13.4h1V13.7h1V13.4h1V15.8h1V20.5h1V12.3h1V15.7h1V17.6h1V21.2h1V18.2h1V18.7h1V15.4h1V14h1V12.9h1V1.1h1V16.7h1V17.9h1V17.7h1V12.2h1V16h1V11.3h1V15.5h1V14.4h1V16h1V9.6h1V7.5h1V18.3h1V15.5h1V16.1h1V17h1V8.1h1V14.9h1V13.5h1V16h1V14.4h1V16h1V13.5h1V9.8h1V12.7h1V17.7h1V12.6h1V10.2h1V16.1h1V11.9h1V17.3h1V16.6h1V16.1h1V17.6h1V18.6h1V16.3h1V14.4h1V15.9h1V16.4h1V17.3h1V11.6h1V14.4h1V16.2h1V21.9h1V9.9h1V12.3h1V14.1h1V16h1V15.5h1V8.8h1V14.9h1V15.9h1V14.3h1V13.7h1V18.1h1V13.8h1V14h1V0zM1301 0V21h1V19.4h1V18.1h1V11.6h1V16.5h1V15.8h1V9.5h1V17.9h1V16.4h1V11.4h1V9.7h1V9.4h1V16.2h1V17.3h1V11.1h1V13.4h1V14.9h1V16.2h1V16.6h1V19.1h1V20.9h1V19.3h1V16.8h1V15.1h1V13.9h1V0zM1328 0V16.8h1V15.4h1V19.4h1V15.4h1V22.5h1V22.6h1V17.7h1V14.9h1V1.2h1V15.7h1V13.1h1V14.2h1V15.1h1V16.8h1V14.7h1V14.9h1V12.1h1V0zM1346 0V16.3h1V0zM1348 0V19.9h1V21.2h1V0zM1352 0V19h1V15.7h1V15.1h1V18.9h1V18.7h1V23.3h1V0zM1359 0V13.7h1V14.2h1V0zM1362 0V19.1h1V16.2h1V18.7h1V14.6h1V14.7h1V14.5h1V14h1V19.1h1V17.6h1V1.1h1V20.2h1V19.2h1V18.7h1V14.7h2V0zM1381 0V14.6h1V0zM1383 0V13h1V0zM1385 0V15.4h1V18.4h1V17.6h1V19.2h1V12.6h1V14.9h1V20h1V15.3h1V17.6h1V0zM1396 0V13.8h1V16.6h1V0zM1399 0V16.1h1V15.9h1V15.7h1V16.5h1V13.5h1V13.1h1V11h1V14.3h1V20.2h1V19.6h1V0zM1410 0V14.8h1V1.2h1V23.1h1V14.9h1V11.2h1V12.2h1V14h1V15.1h1V18h1V0zM1420 0V16.6h1V16.7h1V11.4h1V12h1V0z" fill="#1a66f5"/>
</g>
<g transform="translate(317.93 1118.98) scale(3.1161 -1)">
<path d="M181 0V9.2h1V15.4h2V13.9h4V.6h1V0zM472 0V13.9h1V24.2h1V11.3h1V23.2h1V23.8h1V23.9h1V23.2h1V23.3h1V23.7h1V20.5h1V19.8h1V19.6h1V19.7h1V19.6h1V19.4h1V19.5h1V18.4h1V18.9h1V18.7h1V18.1h1V18.5h1V17.9h1V18.4h1V17.5h1V1h1V0zM499 0V1h1V0zM511 0V12.7h1V11.9h1V0zM554 0V1h1V15h1V14.9h1V15.8h1V15.3h2V16.1h1V16.2h1V16.3h1V15.6h1V16.1h1V15.3h1V16.2h1V16h1V15.8h1V15.6h1V16.8h1V15.9h1V16.2h1V16.1h1V16.9h1V15.8h1V16.7h1V16.1h1V16.4h1V16.7h1V16.1h1V16.6h1V18.4h1V3.1h1V0zM590 0V19.7h1V20.1h1V20.6h1V20.9h1V19.5h1V18.8h1V20.2h1V19h1V20.1h1V19.1h1V21.1h1V20.3h1V20.1h1V19.9h1V21.2h1V20.7h1V22.6h1V21.5h1V23.1h1V22.5h1V20.5h1V23.5h1V22h1V22.7h1V22.6h1V23.3h1V22.4h1V23.3h1V22.9h2V22.5h1V21.2h1V23.6h1V24.9h1V24.2h1V23.3h1V21.9h1V24.9h1V24.6h1V23.5h1V25.1h1V23h2V0zM634 0V23.7h1V24.1h1V22.6h1V22.7h1V22.6h1V0zM709 0V26.6h1V25.9h1V25.5h1V25.9h1V26.5h1V26.2h1V26h1V27.2h1V25.4h1V26.2h1V26h2V25.4h1V27.2h1V27.3h1V26.9h1V26.2h1V26h1V27.4h1V26.6h1V26.3h1V27.5h1V27h1V27.3h1V27.9h1V25.9h1V27.3h1V26.6h1V27.3h1V26.4h1V25.9h1V26h1V26.8h1V26.6h1V26.1h1V0zM745 0V26h1V25.1h1V25.4h1V25.3h1V24.6h1V25h1V26.4h1V26.2h1V25.4h1V24.8h1V25.6h1V26.4h1V26.2h1V26.5h1V25.5h1V25.1h1V24.6h1V24.4h1V25.9h1V25.6h1V24.9h1V25.6h1V24.7h1V24h1V25.1h1V24.1h1V24.4h1V25.5h1V25h1V25.1h2V24.2h1V25.6h1V25.4h1V25.9h1V24.8h1V25.6h1V25.1h1V23.8h1V24.7h1V22.6h1V23.8h1V22h1V23.9h1V24.6h1V22h1V24.2h1V24.4h1V23.8h1V24.4h1V24h1V22.6h1V22.1h1V21.5h1V23.2h1V21.7h1V23.7h1V21.7h1V20.9h1V21.5h1V23.7h1V22.7h1V22h1V22.8h1V20.7h1V22.6h1V23.4h1V21.6h1V22.9h1V22.2h1V23.3h1V21.2h1V19.8h1V21.6h1V21.5h1V20.3h1V19.8h1V21.2h1V22.2h1V21.3h1V20.7h1V22.5h1V21.5h1V21.7h1V20.4h2V19.8h1V20.2h1V19.5h1V20.2h2V20.9h1V18.9h1V20.6h1V20.9h1V18.6h1V18.3h1V18.6h1V19.1h1V19.9h1V19.7h1V19.9h1V20.8h1V20.1h1V18.1h1V20.2h1V18.6h1V18.3h1V17.6h1V17.7h1V18h1V18.9h1V18.5h1V19.8h1V18.6h1V17.4h1V19.3h1V19h1V18.3h1V17.3h1V17h1V16.7h1V10.2h1V0zM874 0V6.1h1V16.7h1V16.6h1V15.5h1V16.4h1V16.2h1V16h1V16.1h1V16.8h1V16.4h1V16.5h1V15.7h1V17.2h1V16.3h1V16.6h1V16.4h2V15.9h1V16.3h1V16.6h1V15.8h1V16.4h1V17.3h1V5.1h1V0zM902 0V6.1h1V15.4h2V15.3h1V16h1V16.5h1V15.5h1V17h1V16.4h1V16.5h1V0zM1102 0V12.7h1V29.6h1V29.1h1V30.8h1V29.8h1V30.9h1V30h1V29.4h1V31.2h1V28.7h1V30.9h1V29.3h1V29.9h1V30.1h1V30.8h1V29.2h1V29.1h1V29.8h2V30.2h1V31.2h1V30.5h1V29.3h1V30.3h1V7h1V0zM1128 0V12.3h1V29.9h3V4.7h1V18.8h1V26.6h6V0zM1142 0V7h1V27.1h1V26.8h1V27.8h1V27.7h1V28h1V28.3h1V27.7h1V27h1V28.3h1V25.2h1V25h1V24.9h1V26h1V27h1V24.4h1V24.1h1V27.5h1V24.8h1V23.6h1V23.8h1V24.9h1V27h1V23.3h1V23.7h1V24.7h1V25.2h1V25.3h1V24.4h1V23.3h1V25.2h1V25.3h1V23.7h1V23.9h1V23.3h1V25.1h1V22h1V23h1V24.8h1V22.9h1V22.7h1V22.9h1V0zM1185 0V25.2h3V0zM1189 0V24.5h1V22.8h1V21.7h1V22.9h1V22.5h1V20.9h1V20.4h1V20.1h1V22.8h1V22.9h1V22.2h1V19.8h1V20.3h2V21.5h1V20.5h1V20h1V21.2h1V18.5h1V19.1h1V21.1h1V19.4h1V18.3h1V19.2h1V17.8h1V19h1V17.9h2V17.4h1V18.7h1V0zM1220 0V19h1V20.1h1V21.2h1V19.8h1V21.6h1V20.8h1V20.6h1V20.1h1V19.4h1V19.9h1V18.9h1V18.7h1V19.3h1V18.3h1V18.5h1V19.5h1V18.9h1V20.6h1V19.8h1V19.4h1V18.1h1V19.1h1V17.6h1V18.6h1V20.1h1V17.6h1V18.1h1V18.9h1V18.7h1V17.1h1V19.6h1V19.5h1V19.4h1V17.6h1V18.6h1V17.7h1V17h1V18.7h1V18.2h1V18h1V16.9h1V17.8h1V18.3h1V16.5h1V16.6h1V17.2h1V17.6h1V17.2h1V17h1V16.8h1V16.7h1V16.2h1V15.9h1V16h1V17.4h1V15.5h1V16h1V15.7h1V15.2h2V15.9h1V16.3h1V15.8h1V16.2h1V17.8h1V16.6h1V17.4h2V18h1V18.6h1V16.3h1V16.8h1V18.5h1V18.4h1V19.2h1V18h1V16.9h1V16.6h1V17.6h1V0zM1301 0V17.2h2V17h1V20.5h1V16.6h1V17.5h1V17.6h1V18.9h1V20.1h1V19.2h1V17.4h1V18.8h1V19.9h1V17.5h1V19.3h1V19.4h1V19.8h1V19.7h2V20.5h1V17.5h1V18.2h1V18.9h1V20.2h1V17.9h1V0zM1328 0V19.9h1V21.8h1V20.5h1V21.2h1V23.2h1V23.4h1V21.8h1V21.1h1V20.4h1V23.2h1V20.5h1V23.9h1V23.5h1V22.1h2V23h1V22.8h1V0zM1346 0V21.2h1V0zM1348 0V23.3h1V24.4h1V0zM1352 0V23.8h1V24.6h1V23.9h1V22.6h1V25.7h1V22.2h1V0zM1359 0V25.1h1V24.7h1V0zM1362 0V22.5h1V26.5h1V24.7h1V26.3h1V22.9h1V24.1h1V26h1V23.8h1V25.9h1V23.5h1V27.3h1V26.4h1V23.9h1V27.4h1V24.1h1V0zM1381 0V29.8h1V0zM1383 0V29.3h1V0zM1385 0V30.5h1V28.6h1V30.7h1V28.5h1V29.6h1V27.6h1V28.8h1V30.7h2V0zM1395 0V30.1h1V31.1h1V30.9h1V0zM1399 0V30.3h1V29.5h1V28.7h1V29.2h1V28h1V29.6h1V30h1V31.6h1V28.5h1V28.2h1V0zM1410 0V31.7h1V29.6h1V30.1h1V29.6h1V30.3h1V29.7h1V29.6h1V28.8h1V31.1h1V0zM1420 0V30.3h1V29h1V28.3h1V29.9h1V0z" fill="#595959"/>
</g>
</g>
<path d="M317.4 1157.38v8.4M414 1157.38v8.4M510.6 1157.38v8.4M604.08 1157.38v8.4M700.68 1157.38v8.4M794.16 1157.38v8.4M890.76 1157.38v8.4M987.36 1157.38v8.4M1077.73 1157.38v8.4M1174.33 1157.38v8.4M1267.81 1157.38v8.4M1364.41 1157.38v8.4M1457.89 1157.38v8.4M1554.49 1157.38v8.4M1651.09 1157.38v8.4M1744.57 1157.38v8.4M1841.17 1157.38v8.4M1934.66 1157.38v8.4M2031.26 1157.38v8.4M2127.85 1157.38v8.4M2215.1 1157.38v8.4M2311.7 1157.38v8.4M2405.19 1157.38v8.4M2501.79 1157.38v8.4M2595.27 1157.38v8.4M2691.87 1157.38v8.4M2788.47 1157.38v8.4M2881.95 1157.38v8.4M2978.55 1157.38v8.4M3072.03 1157.38v8.4M3168.63 1157.38v8.4M3265.23 1157.38v8.4M3352.48 1157.38v8.4M3449.08 1157.38v8.4M3542.56 1157.38v8.4M3639.16 1157.38v8.4M3732.65 1157.38v8.4M3829.24 1157.38v8.4M3925.84 1157.38v8.4M4019.33 1157.38v8.4M4115.93 1157.38v8.4M4209.41 1157.38v8.4M4306.01 1157.38v8.4M4402.61 1157.38v8.4M4489.86 1157.38v8.4M4586.46 1157.38v8.4M4679.94 1157.38v8.4M4776.54 1157.38v8.4" stroke="#3f3f3f" stroke-width="3.2" fill="none"/>
<text x="276.6" y="1111.18" font-size="29.2" fill="#111" text-anchor="end" xml:space="preserve">rfuh5p1-8</text>
<text x="4775.6" y="1111.18" font-size="29.2" fill="#111" text-anchor="start">rfuh5p1-8</text>
<rect x="276.3" y="1217.3" width="4499.5" height="240" fill="#f7f7f7"/>
<rect x="276.3" y="1246.15" width="4499.5" height="1.7" fill="#c0c0c0"/>
<rect x="276.3" y="1276.15" width="4499.5" height="1.7" fill="#c0c0c0"/>
<rect x="276.3" y="1306.15" width="4499.5" height="1.7" fill="#c0c0c0"/>
<rect x="276.3" y="1336.15" width="4499.5" height="1.7" fill="#c0c0c0"/>
<rect x="276.3" y="1366.15" width="4499.5" height="1.7" fill="#c0c0c0"/>
<rect x="276.3" y="1396.15" width="4499.5" height="1.7" fill="#c0c0c0"/>
<rect x="276.3" y="1426.15" width="4499.5" height="1.7" fill="#c0c0c0"/>
<rect x="276.3" y="1456.15" width="4499.5" height="1.7" fill="#c0c0c0"/>
<rect x="775.5" y="1217" width="48.2" height="30" fill="#cc3380"/>
<rect x="910.9" y="1247" width="24.6" height="30" fill="#cc3380"/>
<rect x="1010.6" y="1247" width="424.5" height="30" fill="#cc3380"/>
<rect x="1525.2" y="1277" width="700.3" height="30" fill="#e57f80"/>
<rect x="1867.2" y="1307" width="9.6" height="30" fill="#cc3380"/>
<rect x="2247.7" y="1307" width="22.2" height="30" fill="#cc3380"/>
<rect x="2292" y="1307" width="23.6" height="30" fill="#cc3380"/>
<rect x="2088.7" y="1337" width="72.3" height="30" fill="#7f99e5"/>
<rect x="3023.8" y="1337" width="87.2" height="30" fill="#7f99e5"/>
<rect x="1026" y="1367" width="409.1" height="30" fill="#cc3380"/>
<rect x="3118.2" y="1367" width="45.8" height="30" fill="#cc3380"/>
<rect x="3164" y="1397" width="585.7" height="30" fill="#e5661a"/>
<rect x="701.8" y="1427" width="733.3" height="30" fill="#80997f"/>
<rect x="1916.8" y="1427" width="16.4" height="30" fill="#80997f"/>
<rect x="4273.3" y="1427" width="255.3" height="30" fill="#80997f"/>
<text x="279.2" y="1240.5" font-size="29" fill="#333" text-anchor="end">tr.zm</text>
<text x="4774.1" y="1240.5" font-size="29" fill="#333" text-anchor="start">tr.zm</text>
<text x="279.2" y="1270.5" font-size="29" fill="#333" text-anchor="end">tr.am</text>
<text x="4774.1" y="1270.5" font-size="29" fill="#333" text-anchor="start">tr.am</text>
<text x="279.2" y="1300.5" font-size="29" fill="#333" text-anchor="end">sp.uv.cm</text>
<text x="4774.1" y="1300.5" font-size="29" fill="#333" text-anchor="start">sp.uv.cm</text>
<text x="279.2" y="1330.5" font-size="29" fill="#333" text-anchor="end" stroke="#333" stroke-width="0.5">tr</text>
<text x="4774.1" y="1330.5" font-size="29" fill="#333" text-anchor="start" stroke="#333" stroke-width="0.5">tr</text>
<text x="279.2" y="1360.5" font-size="29" fill="#333" text-anchor="end">su.al</text>
<text x="4774.1" y="1360.5" font-size="29" fill="#333" text-anchor="start">su.al</text>
<text x="279.2" y="1390.5" font-size="29" fill="#333" text-anchor="end">tr.cm</text>
<text x="4774.1" y="1390.5" font-size="29" fill="#333" text-anchor="start">tr.cm</text>
<text x="279.2" y="1420.5" font-size="29" fill="#333" text-anchor="end">pc.bo</text>
<text x="4774.1" y="1420.5" font-size="29" fill="#333" text-anchor="start">pc.bo</text>
<text x="279.2" y="1450.5" font-size="29" fill="#333" text-anchor="end">cn.it</text>
<text x="4774.1" y="1450.5" font-size="29" fill="#333" text-anchor="start">cn.it</text>
<path d="M317.4 1458.3v8.4M414 1458.3v8.4M510.6 1458.3v8.4M604.08 1458.3v8.4M700.68 1458.3v8.4M794.16 1458.3v8.4M890.76 1458.3v8.4M987.36 1458.3v8.4M1077.73 1458.3v8.4M1174.33 1458.3v8.4M1267.81 1458.3v8.4M1364.41 1458.3v8.4M1457.89 1458.3v8.4M1554.49 1458.3v8.4M1651.09 1458.3v8.4M1744.57 1458.3v8.4M1841.17 1458.3v8.4M1934.66 1458.3v8.4M2031.26 1458.3v8.4M2127.85 1458.3v8.4M2215.1 1458.3v8.4M2311.7 1458.3v8.4M2405.19 1458.3v8.4M2501.79 1458.3v8.4M2595.27 1458.3v8.4M2691.87 1458.3v8.4M2788.47 1458.3v8.4M2881.95 1458.3v8.4M2978.55 1458.3v8.4M3072.03 1458.3v8.4M3168.63 1458.3v8.4M3265.23 1458.3v8.4M3352.48 1458.3v8.4M3449.08 1458.3v8.4M3542.56 1458.3v8.4M3639.16 1458.3v8.4M3732.65 1458.3v8.4M3829.24 1458.3v8.4M3925.84 1458.3v8.4M4019.33 1458.3v8.4M4115.93 1458.3v8.4M4209.41 1458.3v8.4M4306.01 1458.3v8.4M4402.61 1458.3v8.4M4489.86 1458.3v8.4M4586.46 1458.3v8.4M4679.94 1458.3v8.4M4776.54 1458.3v8.4" stroke="#3f3f3f" stroke-width="3.2" fill="none"/>
<rect x="276.3" y="1508" width="4499.5" height="38.7" fill="#f7f7f7"/>
<rect x="276.3" y="1509" width="7.4" height="35.8" fill="#cccccc"/>
<rect x="1525.2" y="1509" width="7.9" height="35.8" fill="#666666"/>
<rect x="1783.8" y="1509" width="7.9" height="35.8" fill="#666666"/>
<rect x="3746.8" y="1509" width="7.9" height="35.8" fill="#666666"/>
<text x="278.6" y="1543.3" font-size="25" fill="#111" text-anchor="start">1.6.5, v2</text>
<text x="1534.7" y="1529.4" font-size="25" fill="#111" text-anchor="start">1.7.20, v1</text>
<text x="1793.9" y="1543.3" font-size="25" fill="#111" text-anchor="start">1.8.26, v2</text>
<text x="3756.9" y="1529.4" font-size="25" fill="#111" text-anchor="start">1.8.46, v6</text>
<text x="275.5" y="1533.5" font-size="29.2" fill="#111" text-anchor="end">CFs</text>
<path d="M317.4 1547.3v8.4M414 1547.3v8.4M510.6 1547.3v8.4M604.08 1547.3v8.4M700.68 1547.3v8.4M794.16 1547.3v8.4M890.76 1547.3v8.4M987.36 1547.3v8.4M1077.73 1547.3v8.4M1174.33 1547.3v8.4M1267.81 1547.3v8.4M1364.41 1547.3v8.4M1457.89 1547.3v8.4M1554.49 1547.3v8.4M1651.09 1547.3v8.4M1744.57 1547.3v8.4M1841.17 1547.3v8.4M1934.66 1547.3v8.4M2031.26 1547.3v8.4M2127.85 1547.3v8.4M2215.1 1547.3v8.4M2311.7 1547.3v8.4M2405.19 1547.3v8.4M2501.79 1547.3v8.4M2595.27 1547.3v8.4M2691.87 1547.3v8.4M2788.47 1547.3v8.4M2881.95 1547.3v8.4M2978.55 1547.3v8.4M3072.03 1547.3v8.4M3168.63 1547.3v8.4M3265.23 1547.3v8.4M3352.48 1547.3v8.4M3449.08 1547.3v8.4M3542.56 1547.3v8.4M3639.16 1547.3v8.4M3732.65 1547.3v8.4M3829.24 1547.3v8.4M3925.84 1547.3v8.4M4019.33 1547.3v8.4M4115.93 1547.3v8.4M4209.41 1547.3v8.4M4306.01 1547.3v8.4M4402.61 1547.3v8.4M4489.86 1547.3v8.4M4586.46 1547.3v8.4M4679.94 1547.3v8.4M4776.54 1547.3v8.4" stroke="#3f3f3f" stroke-width="3.2" fill="none"/>
<text x="317.1" y="1595.9" font-size="33.1" fill="#3f3f3f" text-anchor="start">Jul</text>
<text x="413.7" y="1595.9" font-size="33.1" fill="#3f3f3f" text-anchor="start">Aug</text>
<text x="510.3" y="1595.9" font-size="33.1" fill="#3f3f3f" text-anchor="start">Sep</text>
<text x="603.78" y="1595.9" font-size="33.1" fill="#3f3f3f" text-anchor="start">Oct</text>
<text x="700.38" y="1595.9" font-size="33.1" fill="#3f3f3f" text-anchor="start">Nov</text>
<text x="793.86" y="1595.9" font-size="33.1" fill="#3f3f3f" text-anchor="start">Dec</text>
<text x="890.46" y="1595.9" font-size="33.1" fill="#3f3f3f" text-anchor="start">Jan</text>
<text x="893.26" y="1637.6" font-size="41.7" fill="#3f3f3f" text-anchor="start">2020</text>
<text x="987.06" y="1595.9" font-size="33.1" fill="#3f3f3f" text-anchor="start">Feb</text>
<text x="1077.43" y="1595.9" font-size="33.1" fill="#3f3f3f" text-anchor="start">Mar</text>
<text x="1174.03" y="1595.9" font-size="33.1" fill="#3f3f3f" text-anchor="start">Apr</text>
<text x="1267.51" y="1595.9" font-size="33.1" fill="#3f3f3f" text-anchor="start">May</text>
<text x="1364.11" y="1595.9" font-size="33.1" fill="#3f3f3f" text-anchor="start">Jun</text>
<text x="1457.59" y="1595.9" font-size="33.1" fill="#3f3f3f" text-anchor="start">Jul</text>
<text x="1554.19" y="1595.9" font-size="33.1" fill="#3f3f3f" text-anchor="start">Aug</text>
<text x="1650.79" y="1595.9" font-size="33.1" fill="#3f3f3f" text-anchor="start">Sep</text>
<text x="1744.27" y="1595.9" font-size="33.1" fill="#3f3f3f" text-anchor="start">Oct</text>
<text x="1840.87" y="1595.9" font-size="33.1" fill="#3f3f3f" text-anchor="start">Nov</text>
<text x="1934.36" y="1595.9" font-size="33.1" fill="#3f3f3f" text-anchor="start">Dec</text>
<text x="2030.96" y="1595.9" font-size="33.1" fill="#3f3f3f" text-anchor="start">Jan</text>
<text x="2033.76" y="1637.6" font-size="41.7" fill="#3f3f3f" text-anchor="start">2021</text>
<text x="2127.55" y="1595.9" font-size="33.1" fill="#3f3f3f" text-anchor="start">Feb</text>
<text x="2214.8" y="1595.9" font-size="33.1" fill="#3f3f3f" text-anchor="start">Mar</text>
<text x="2311.4" y="1595.9" font-size="33.1" fill="#3f3f3f" text-anchor="start">Apr</text>
<text x="2404.89" y="1595.9" font-size="33.1" fill="#3f3f3f" text-anchor="start">May</text>
<text x="2501.49" y="1595.9" font-size="33.1" fill="#3f3f3f" text-anchor="start">Jun</text>
<text x="2594.97" y="1595.9" font-size="33.1" fill="#3f3f3f" text-anchor="start">Jul</text>
<text x="2691.57" y="1595.9" font-size="33.1" fill="#3f3f3f" text-anchor="start">Aug</text>
<text x="2788.17" y="1595.9" font-size="33.1" fill="#3f3f3f" text-anchor="start">Sep</text>
<text x="2881.65" y="1595.9" font-size="33.1" fill="#3f3f3f" text-anchor="start">Oct</text>
<text x="2978.25" y="1595.9" font-size="33.1" fill="#3f3f3f" text-anchor="start">Nov</text>
<text x="3071.73" y="1595.9" font-size="33.1" fill="#3f3f3f" text-anchor="start">Dec</text>
<text x="3168.33" y="1595.9" font-size="33.1" fill="#3f3f3f" text-anchor="start">Jan</text>
<text x="3171.13" y="1637.6" font-size="41.7" fill="#3f3f3f" text-anchor="start">2022</text>
<text x="3264.93" y="1595.9" font-size="33.1" fill="#3f3f3f" text-anchor="start">Feb</text>
<text x="3352.18" y="1595.9" font-size="33.1" fill="#3f3f3f" text-anchor="start">Mar</text>
<text x="3448.78" y="1595.9" font-size="33.1" fill="#3f3f3f" text-anchor="start">Apr</text>
<text x="3542.26" y="1595.9" font-size="33.1" fill="#3f3f3f" text-anchor="start">May</text>
<text x="3638.86" y="1595.9" font-size="33.1" fill="#3f3f3f" text-anchor="start">Jun</text>
<text x="3732.35" y="1595.9" font-size="33.1" fill="#3f3f3f" text-anchor="start">Jul</text>
<text x="3828.94" y="1595.9" font-size="33.1" fill="#3f3f3f" text-anchor="start">Aug</text>
<text x="3925.54" y="1595.9" font-size="33.1" fill="#3f3f3f" text-anchor="start">Sep</text>
<text x="4019.03" y="1595.9" font-size="33.1" fill="#3f3f3f" text-anchor="start">Oct</text>
<text x="4115.63" y="1595.9" font-size="33.1" fill="#3f3f3f" text-anchor="start">Nov</text>
<text x="4209.11" y="1595.9" font-size="33.1" fill="#3f3f3f" text-anchor="start">Dec</text>
<text x="4305.71" y="1595.9" font-size="33.1" fill="#3f3f3f" text-anchor="start">Jan</text>
<text x="4308.51" y="1637.6" font-size="41.7" fill="#3f3f3f" text-anchor="start">2023</text>
<text x="4402.31" y="1595.9" font-size="33.1" fill="#3f3f3f" text-anchor="start">Feb</text>
<text x="4489.56" y="1595.9" font-size="33.1" fill="#3f3f3f" text-anchor="start">Mar</text>
<text x="4586.16" y="1595.9" font-size="33.1" fill="#3f3f3f" text-anchor="start">Apr</text>
<text x="4679.64" y="1595.9" font-size="33.1" fill="#3f3f3f" text-anchor="start">May</text>
<text x="4776.24" y="1595.9" font-size="33.1" fill="#3f3f3f" text-anchor="start">Jun</text>
</svg>
</body></html>
